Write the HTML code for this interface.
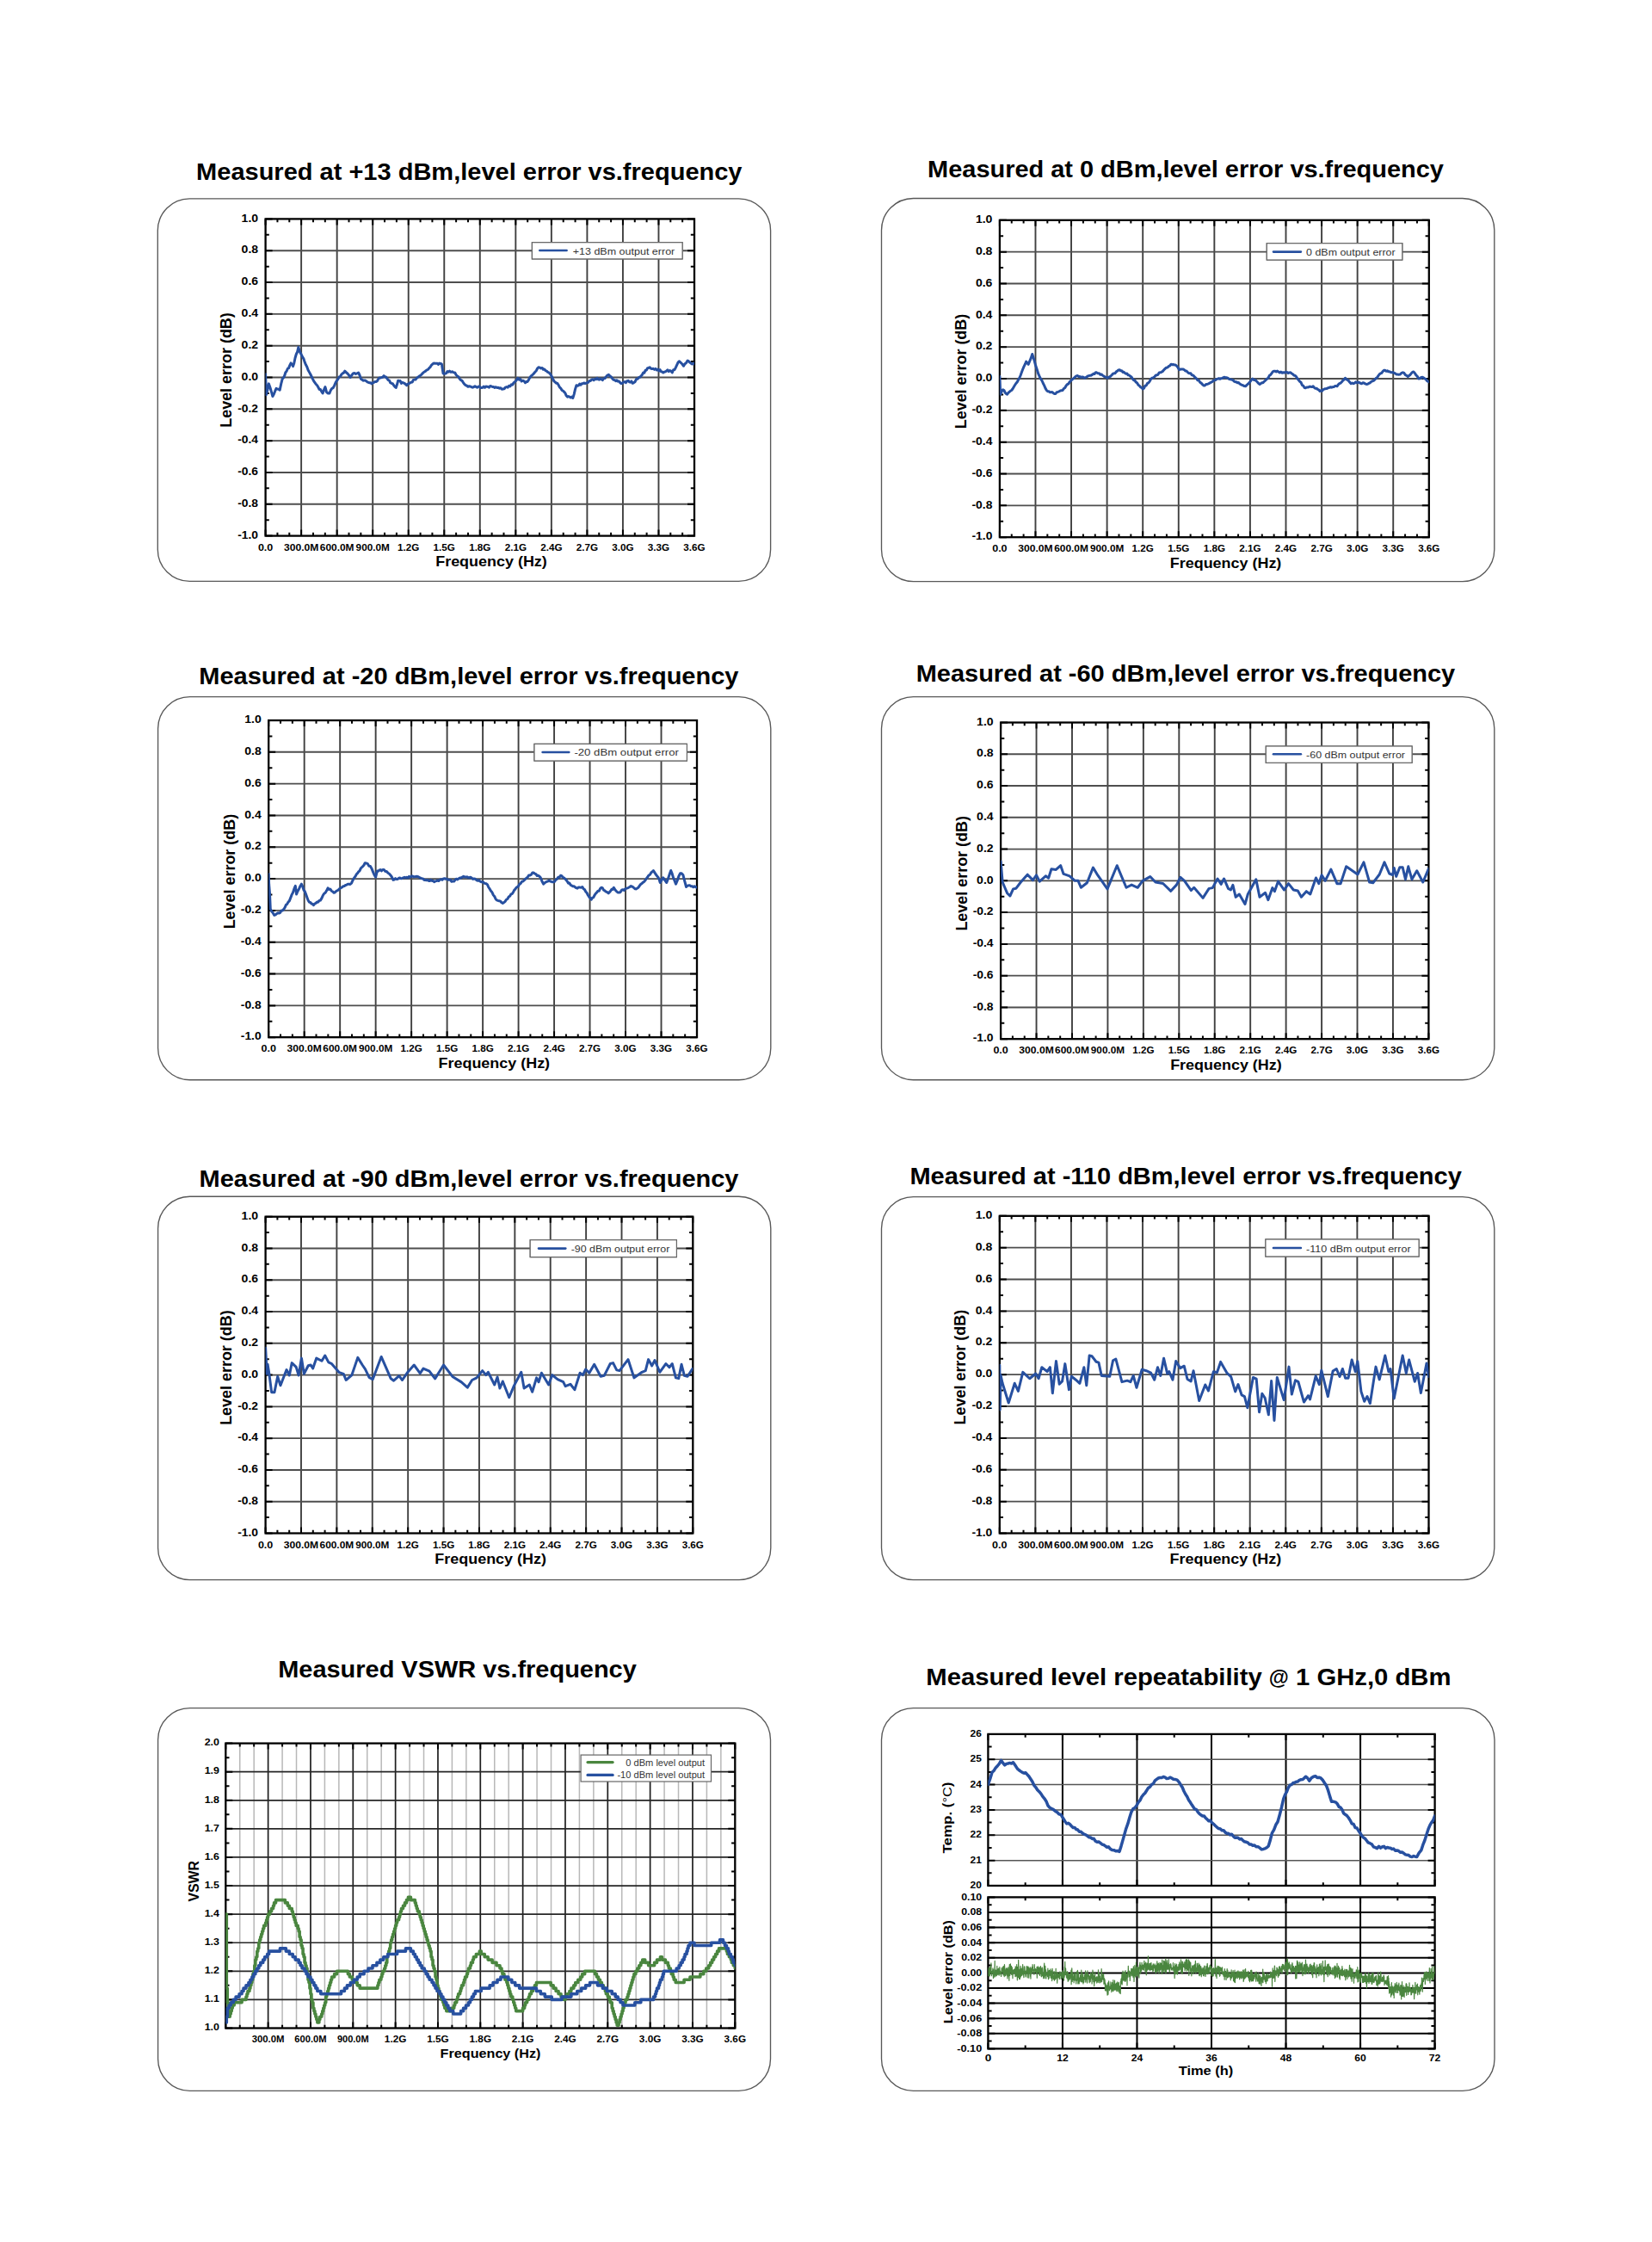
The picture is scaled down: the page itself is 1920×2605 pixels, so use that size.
<!DOCTYPE html>
<html><head><meta charset="utf-8"><title>Level error charts</title>
<style>
html,body{margin:0;padding:0;background:#fff;}
body{width:1920px;height:2605px;overflow:hidden;}
svg{display:block;font-family:"Liberation Sans",sans-serif;}
</style></head><body>
<svg width="1920" height="2605" viewBox="0 0 1920 2605">
<rect width="1920" height="2605" fill="#fff"/>
<rect x="183.3" y="230.9" width="712.3" height="444.5" rx="37" ry="37" fill="none" stroke="#585858" stroke-width="1.35"/>
<text x="228.1" y="209" font-size="28.5" font-weight="bold" fill="#000" textLength="634.4" lengthAdjust="spacingAndGlyphs">Measured at +13 dBm,level error vs.frequency</text>
<line x1="350.13" y1="254.4" x2="350.13" y2="622.6" stroke="#404040" stroke-width="1.9"/>
<line x1="391.67" y1="254.4" x2="391.67" y2="622.6" stroke="#404040" stroke-width="1.9"/>
<line x1="433.2" y1="254.4" x2="433.2" y2="622.6" stroke="#404040" stroke-width="1.9"/>
<line x1="474.73" y1="254.4" x2="474.73" y2="622.6" stroke="#404040" stroke-width="1.9"/>
<line x1="516.27" y1="254.4" x2="516.27" y2="622.6" stroke="#404040" stroke-width="1.9"/>
<line x1="557.8" y1="254.4" x2="557.8" y2="622.6" stroke="#404040" stroke-width="1.9"/>
<line x1="599.33" y1="254.4" x2="599.33" y2="622.6" stroke="#404040" stroke-width="1.9"/>
<line x1="640.87" y1="254.4" x2="640.87" y2="622.6" stroke="#404040" stroke-width="1.9"/>
<line x1="682.4" y1="254.4" x2="682.4" y2="622.6" stroke="#404040" stroke-width="1.9"/>
<line x1="723.93" y1="254.4" x2="723.93" y2="622.6" stroke="#404040" stroke-width="1.9"/>
<line x1="765.47" y1="254.4" x2="765.47" y2="622.6" stroke="#404040" stroke-width="1.9"/>
<line x1="308.6" y1="291.22" x2="807" y2="291.22" stroke="#4e4e4e" stroke-width="1.9"/>
<line x1="308.6" y1="328.04" x2="807" y2="328.04" stroke="#4e4e4e" stroke-width="1.9"/>
<line x1="308.6" y1="364.86" x2="807" y2="364.86" stroke="#4e4e4e" stroke-width="1.9"/>
<line x1="308.6" y1="401.68" x2="807" y2="401.68" stroke="#4e4e4e" stroke-width="1.9"/>
<line x1="308.6" y1="438.5" x2="807" y2="438.5" stroke="#4e4e4e" stroke-width="1.9"/>
<line x1="308.6" y1="475.32" x2="807" y2="475.32" stroke="#4e4e4e" stroke-width="1.9"/>
<line x1="308.6" y1="512.14" x2="807" y2="512.14" stroke="#4e4e4e" stroke-width="1.9"/>
<line x1="308.6" y1="548.96" x2="807" y2="548.96" stroke="#4e4e4e" stroke-width="1.9"/>
<line x1="308.6" y1="585.78" x2="807" y2="585.78" stroke="#4e4e4e" stroke-width="1.9"/>
<path d="M308.6 622.6v-7M308.6 254.4v7M322.44 622.6v-3.8M322.44 254.4v3.8M336.29 622.6v-3.8M336.29 254.4v3.8M350.13 622.6v-7M350.13 254.4v7M363.98 622.6v-3.8M363.98 254.4v3.8M377.82 622.6v-3.8M377.82 254.4v3.8M391.67 622.6v-7M391.67 254.4v7M405.51 622.6v-3.8M405.51 254.4v3.8M419.36 622.6v-3.8M419.36 254.4v3.8M433.2 622.6v-7M433.2 254.4v7M447.04 622.6v-3.8M447.04 254.4v3.8M460.89 622.6v-3.8M460.89 254.4v3.8M474.73 622.6v-7M474.73 254.4v7M488.58 622.6v-3.8M488.58 254.4v3.8M502.42 622.6v-3.8M502.42 254.4v3.8M516.27 622.6v-7M516.27 254.4v7M530.11 622.6v-3.8M530.11 254.4v3.8M543.96 622.6v-3.8M543.96 254.4v3.8M557.8 622.6v-7M557.8 254.4v7M571.64 622.6v-3.8M571.64 254.4v3.8M585.49 622.6v-3.8M585.49 254.4v3.8M599.33 622.6v-7M599.33 254.4v7M613.18 622.6v-3.8M613.18 254.4v3.8M627.02 622.6v-3.8M627.02 254.4v3.8M640.87 622.6v-7M640.87 254.4v7M654.71 622.6v-3.8M654.71 254.4v3.8M668.56 622.6v-3.8M668.56 254.4v3.8M682.4 622.6v-7M682.4 254.4v7M696.24 622.6v-3.8M696.24 254.4v3.8M710.09 622.6v-3.8M710.09 254.4v3.8M723.93 622.6v-7M723.93 254.4v7M737.78 622.6v-3.8M737.78 254.4v3.8M751.62 622.6v-3.8M751.62 254.4v3.8M765.47 622.6v-7M765.47 254.4v7M779.31 622.6v-3.8M779.31 254.4v3.8M793.16 622.6v-3.8M793.16 254.4v3.8M807 622.6v-7M807 254.4v7M308.6 254.4h8M807 254.4h-8M308.6 272.81h4.2M807 272.81h-4.2M308.6 291.22h8M807 291.22h-8M308.6 309.63h4.2M807 309.63h-4.2M308.6 328.04h8M807 328.04h-8M308.6 346.45h4.2M807 346.45h-4.2M308.6 364.86h8M807 364.86h-8M308.6 383.27h4.2M807 383.27h-4.2M308.6 401.68h8M807 401.68h-8M308.6 420.09h4.2M807 420.09h-4.2M308.6 438.5h8M807 438.5h-8M308.6 456.91h4.2M807 456.91h-4.2M308.6 475.32h8M807 475.32h-8M308.6 493.73h4.2M807 493.73h-4.2M308.6 512.14h8M807 512.14h-8M308.6 530.55h4.2M807 530.55h-4.2M308.6 548.96h8M807 548.96h-8M308.6 567.37h4.2M807 567.37h-4.2M308.6 585.78h8M807 585.78h-8M308.6 604.19h4.2M807 604.19h-4.2M308.6 622.6h8M807 622.6h-8" stroke="#000" stroke-width="2" fill="none"/>
<rect x="308.6" y="254.4" width="498.4" height="368.2" fill="none" stroke="#000" stroke-width="2.3"/>
<text x="300.1" y="257.6" font-size="12" font-weight="bold" fill="#000" text-anchor="end" textLength="19.5" lengthAdjust="spacingAndGlyphs">1.0</text>
<text x="300.1" y="294.42" font-size="12" font-weight="bold" fill="#000" text-anchor="end" textLength="19.5" lengthAdjust="spacingAndGlyphs">0.8</text>
<text x="300.1" y="331.24" font-size="12" font-weight="bold" fill="#000" text-anchor="end" textLength="19.5" lengthAdjust="spacingAndGlyphs">0.6</text>
<text x="300.1" y="368.06" font-size="12" font-weight="bold" fill="#000" text-anchor="end" textLength="19.5" lengthAdjust="spacingAndGlyphs">0.4</text>
<text x="300.1" y="404.88" font-size="12" font-weight="bold" fill="#000" text-anchor="end" textLength="19.5" lengthAdjust="spacingAndGlyphs">0.2</text>
<text x="300.1" y="441.7" font-size="12" font-weight="bold" fill="#000" text-anchor="end" textLength="19.5" lengthAdjust="spacingAndGlyphs">0.0</text>
<text x="300.1" y="478.52" font-size="12" font-weight="bold" fill="#000" text-anchor="end" textLength="23.9" lengthAdjust="spacingAndGlyphs">-0.2</text>
<text x="300.1" y="515.34" font-size="12" font-weight="bold" fill="#000" text-anchor="end" textLength="23.9" lengthAdjust="spacingAndGlyphs">-0.4</text>
<text x="300.1" y="552.16" font-size="12" font-weight="bold" fill="#000" text-anchor="end" textLength="23.9" lengthAdjust="spacingAndGlyphs">-0.6</text>
<text x="300.1" y="588.98" font-size="12" font-weight="bold" fill="#000" text-anchor="end" textLength="23.9" lengthAdjust="spacingAndGlyphs">-0.8</text>
<text x="300.1" y="625.8" font-size="12" font-weight="bold" fill="#000" text-anchor="end" textLength="23.9" lengthAdjust="spacingAndGlyphs">-1.0</text>
<text x="308.6" y="639.7" font-size="11.5" font-weight="bold" fill="#000" text-anchor="middle" textLength="17.4" lengthAdjust="spacingAndGlyphs">0.0</text>
<text x="350.13" y="639.7" font-size="11.5" font-weight="bold" fill="#000" text-anchor="middle" textLength="40.4" lengthAdjust="spacingAndGlyphs">300.0M</text>
<text x="391.67" y="639.7" font-size="11.5" font-weight="bold" fill="#000" text-anchor="middle" textLength="39.7" lengthAdjust="spacingAndGlyphs">600.0M</text>
<text x="433.2" y="639.7" font-size="11.5" font-weight="bold" fill="#000" text-anchor="middle" textLength="39.2" lengthAdjust="spacingAndGlyphs">900.0M</text>
<text x="474.73" y="639.7" font-size="11.5" font-weight="bold" fill="#000" text-anchor="middle" textLength="25.2" lengthAdjust="spacingAndGlyphs">1.2G</text>
<text x="516.27" y="639.7" font-size="11.5" font-weight="bold" fill="#000" text-anchor="middle" textLength="25.3" lengthAdjust="spacingAndGlyphs">1.5G</text>
<text x="557.8" y="639.7" font-size="11.5" font-weight="bold" fill="#000" text-anchor="middle" textLength="25.3" lengthAdjust="spacingAndGlyphs">1.8G</text>
<text x="599.33" y="639.7" font-size="11.5" font-weight="bold" fill="#000" text-anchor="middle" textLength="25.3" lengthAdjust="spacingAndGlyphs">2.1G</text>
<text x="640.87" y="639.7" font-size="11.5" font-weight="bold" fill="#000" text-anchor="middle" textLength="25.3" lengthAdjust="spacingAndGlyphs">2.4G</text>
<text x="682.4" y="639.7" font-size="11.5" font-weight="bold" fill="#000" text-anchor="middle" textLength="25.3" lengthAdjust="spacingAndGlyphs">2.7G</text>
<text x="723.93" y="639.7" font-size="11.5" font-weight="bold" fill="#000" text-anchor="middle" textLength="25.3" lengthAdjust="spacingAndGlyphs">3.0G</text>
<text x="765.47" y="639.7" font-size="11.5" font-weight="bold" fill="#000" text-anchor="middle" textLength="25.3" lengthAdjust="spacingAndGlyphs">3.3G</text>
<text x="807" y="639.7" font-size="11.5" font-weight="bold" fill="#000" text-anchor="middle" textLength="25.3" lengthAdjust="spacingAndGlyphs">3.6G</text>
<text x="269.3" y="430" font-size="17.5" font-weight="bold" text-anchor="middle" transform="rotate(-90 269.3 430)" textLength="133.5" lengthAdjust="spacingAndGlyphs">Level error (dB)</text>
<text x="571" y="658.1" font-size="17" font-weight="bold" fill="#000" text-anchor="middle" textLength="129.6" lengthAdjust="spacingAndGlyphs">Frequency (Hz)</text>
<rect x="618.4" y="281.7" width="174.7" height="19.2" fill="#fff" stroke="#666" stroke-width="1.2"/>
<line x1="627.3" y1="291" x2="658.6" y2="291" stroke="#2750a0" stroke-width="2.6" stroke-linecap="round"/>
<text x="665.7" y="295.6" font-size="10.5" fill="#333" textLength="118.6" lengthAdjust="spacingAndGlyphs">+13 dBm output error</text>
<clipPath id="clc1"><rect x="308.6" y="254.4" width="498.4" height="368.2"/></clipPath>
<g clip-path="url(#clc1)">
<polyline points="308.6,434.82 309.43,458.75 310.88,453.12 312.34,445.86 313.86,450.01 315.38,455.1 316.91,460.59 318.29,458.06 319.68,454.47 321.06,451.39 322.44,452.11 323.83,452.28 325.21,453.23 326.67,446.15 328.12,440.34 329.37,438.94 330.61,436.78 331.86,432.7 333.1,431.28 334.35,428.26 335.6,427.63 336.84,424.35 338.09,421.93 339.33,423.28 340.58,425.61 341.83,421.79 343.07,415.79 344.32,411.47 345.56,408.98 346.81,403.52 348.47,408.71 350.13,411.81 351.46,414.57 352.79,416.54 354.12,420.63 355.45,423.85 356.78,426.25 358.11,429.97 359.44,432.4 360.77,434.77 362.09,437.5 363.42,440.34 364.72,442.77 366.01,444.62 367.3,446.49 368.59,447.79 369.88,450.01 371.18,452.44 372.47,452.48 373.76,454.94 375.05,456.91 376.51,452.91 377.96,449.55 379.62,455.81 381.28,457.05 382.94,456.91 384.37,453.45 385.79,451.38 387.22,450.65 388.64,447.81 390.06,444.59 391.49,442.24 392.91,440.34 394.23,437.84 395.54,437.44 396.86,435.01 398.17,433.83 399.49,433.1 400.8,431.14 402.36,432.78 403.92,433.97 405.48,435.89 407.03,438.5 408.7,436.19 410.36,433.9 411.91,433.47 413.47,434.47 415.03,433.78 416.59,432.98 418.04,436 419.49,440.34 420.74,441.08 421.99,442.17 423.23,441.89 424.48,442.1 425.72,442.72 426.97,443.93 428.22,444.34 429.46,444.74 430.71,444.7 431.95,445.86 433.24,444.98 434.52,444.43 435.81,443.38 437.09,443.56 438.37,442.69 439.66,440.39 440.94,438.94 442.22,438.96 443.51,438.57 444.79,438.22 446.08,436.66 447.36,437.91 448.64,438.1 449.93,439.83 451.21,441.59 452.49,442.14 453.78,444.78 455.06,445.42 456.35,445.7 457.63,447.78 458.91,449.3 460.2,450.47 461.44,446.83 462.69,442.18 463.93,442.77 465.18,442.55 466.43,445.35 467.67,444.32 468.92,444.93 470.16,445.47 471.41,446.48 472.66,447.71 473.95,446.1 475.24,445.82 476.53,444.81 477.83,444.19 479.12,444.08 480.41,441.36 481.7,441.11 482.99,441 484.29,439.42 485.58,438.37 486.88,437.38 488.18,436.63 489.48,435.62 490.78,434.16 492.07,432.93 493.37,431.92 494.67,431.14 496.05,429.85 497.44,429.42 498.82,427.59 500.21,426.33 501.59,424.05 502.98,422.85 504.27,422.05 505.57,422.19 506.87,422.2 508.17,422.15 509.47,423.39 510.76,422.1 512.06,422.47 513.36,422.85 515.02,433.9 516.27,434.36 517.51,434.04 518.76,433.59 520,431.49 521.25,432.15 522.5,431.14 524.05,432.46 525.61,431.78 527.17,432.86 528.73,432.98 530.11,435.56 531.5,437 532.88,437.83 534.26,440.26 535.65,441.66 537.03,442.33 538.42,444.53 539.8,446.46 541.19,447.71 542.55,448.03 543.92,449.28 545.28,448.74 546.65,448.93 548.01,449.71 549.37,450.15 550.74,449.55 552.01,448.66 553.28,449.52 554.55,450.19 555.82,449.31 557.08,448.85 558.35,450.6 559.62,450.61 560.89,450.33 562.16,449.06 563.43,450.3 564.7,449.09 565.97,449.15 567.24,449.45 568.51,450.16 569.78,448.5 571.04,448.89 572.31,449.51 573.58,449.55 574.97,450.4 576.35,449.71 577.74,450.51 579.12,450.36 580.5,451.17 581.89,450.73 583.27,452.24 584.66,451.95 586.04,451.76 587.41,450.06 588.77,449.61 590.14,450.21 591.5,448.33 592.87,448.89 594.23,446.84 595.6,447.15 597.15,444.63 598.71,443.38 600.27,441.76 601.83,439.24 603.28,441.24 604.73,440.24 606.19,443.02 607.64,442.21 609.09,442.82 610.55,444.76 611.79,443.56 613.04,443.4 614.29,441.63 615.58,439.16 616.87,437.27 618.16,436.21 619.45,434.98 620.75,433.61 622.04,432.03 623.33,430.68 624.62,427.99 625.91,426.72 627.3,427.11 628.68,427.88 630.07,427.45 631.38,429.25 632.7,428.93 634.01,430.67 635.33,431.14 636.64,432.44 637.96,432.98 639.48,434.55 641.01,436.88 642.53,440.16 643.83,442.77 645.14,443.92 646.44,445.19 647.75,445.29 649.05,447.29 650.36,449.82 651.67,451.02 652.98,453.34 654.3,454.01 655.61,455.34 656.93,456.81 658.24,459.8 659.56,461.14 660.8,460.56 662.05,461.25 663.29,461.95 664.54,461.1 665.79,462.43 667.17,458.11 668.56,452.12 669.94,447.71 671.19,448.35 672.43,447.88 673.68,445.97 674.92,447.23 676.17,445.75 677.42,445.83 678.66,445.02 679.91,445.5 681.19,445.22 682.48,444.71 683.76,444.25 685.04,442.41 686.33,442.42 687.61,441.08 688.89,440.66 690.18,441.75 691.46,440.26 692.75,440.68 694.03,439.24 695.28,440.73 696.52,441.14 697.77,439.86 699.01,440.51 700.26,441.63 701.67,439.65 703.08,439.48 704.5,437.62 705.91,436 707.32,435.37 708.73,436.89 710.14,437.72 711.56,439.74 712.97,441.3 714.38,441.63 715.63,442.7 716.87,441.87 718.12,443.14 719.36,442.9 720.61,444.48 721.86,445.44 723.1,445.5 724.51,444.24 725.93,443.52 727.34,444.7 728.75,442.62 730.16,442.37 731.41,443.75 732.66,444.17 733.9,442.95 735.15,445.3 736.39,444.76 737.95,443.77 739.51,440.55 741.07,440.24 742.62,438.5 743.87,438.12 745.12,436.78 746.36,435.39 747.61,433.05 748.85,433.24 750.1,430.23 751.35,430.18 752.59,427.64 753.84,427.45 755.19,426.76 756.54,428.32 757.89,428.62 759.24,428.33 760.59,429.37 761.94,428.36 763.29,429.92 764.64,429.11 765.88,430.97 767.13,429.59 768.37,431.88 769.62,431.99 770.87,432.98 772.53,432.04 774.19,431.3 775.85,429.85 777.2,431.6 778.55,430.5 779.9,431.16 781.25,432.98 782.63,429.73 784.02,429.42 785.4,426.98 786.79,423.88 788.17,420.87 789.56,419.72 791.22,421.47 792.88,422.99 794.54,425.24 796.06,422.8 797.59,421.6 799.11,418.99 800.35,419.67 801.6,420.96 802.85,421.87 804.09,423 805.34,422.85 807,421.93" fill="none" stroke="#2750a0" stroke-width="3.0" stroke-linejoin="round" stroke-linecap="round"/>
</g>
<rect x="618.4" y="281.7" width="174.7" height="19.2" fill="#fff" stroke="#666" stroke-width="1.2"/>
<line x1="627.3" y1="291" x2="658.6" y2="291" stroke="#2750a0" stroke-width="2.6" stroke-linecap="round"/>
<text x="665.7" y="295.6" font-size="10.5" fill="#333" textLength="118.6" lengthAdjust="spacingAndGlyphs">+13 dBm output error</text>
<rect x="1024.5" y="230.5" width="712.3" height="445.1" rx="37" ry="37" fill="none" stroke="#585858" stroke-width="1.35"/>
<text x="1078.1" y="206.3" font-size="28.5" font-weight="bold" fill="#000" textLength="599.8" lengthAdjust="spacingAndGlyphs">Measured at 0 dBm,level error vs.frequency</text>
<line x1="1203.48" y1="255.8" x2="1203.48" y2="624.2" stroke="#404040" stroke-width="1.9"/>
<line x1="1245.05" y1="255.8" x2="1245.05" y2="624.2" stroke="#404040" stroke-width="1.9"/>
<line x1="1286.62" y1="255.8" x2="1286.62" y2="624.2" stroke="#404040" stroke-width="1.9"/>
<line x1="1328.2" y1="255.8" x2="1328.2" y2="624.2" stroke="#404040" stroke-width="1.9"/>
<line x1="1369.78" y1="255.8" x2="1369.78" y2="624.2" stroke="#404040" stroke-width="1.9"/>
<line x1="1411.35" y1="255.8" x2="1411.35" y2="624.2" stroke="#404040" stroke-width="1.9"/>
<line x1="1452.92" y1="255.8" x2="1452.92" y2="624.2" stroke="#404040" stroke-width="1.9"/>
<line x1="1494.5" y1="255.8" x2="1494.5" y2="624.2" stroke="#404040" stroke-width="1.9"/>
<line x1="1536.08" y1="255.8" x2="1536.08" y2="624.2" stroke="#404040" stroke-width="1.9"/>
<line x1="1577.65" y1="255.8" x2="1577.65" y2="624.2" stroke="#404040" stroke-width="1.9"/>
<line x1="1619.22" y1="255.8" x2="1619.22" y2="624.2" stroke="#404040" stroke-width="1.9"/>
<line x1="1161.9" y1="292.64" x2="1660.8" y2="292.64" stroke="#4e4e4e" stroke-width="1.9"/>
<line x1="1161.9" y1="329.48" x2="1660.8" y2="329.48" stroke="#4e4e4e" stroke-width="1.9"/>
<line x1="1161.9" y1="366.32" x2="1660.8" y2="366.32" stroke="#4e4e4e" stroke-width="1.9"/>
<line x1="1161.9" y1="403.16" x2="1660.8" y2="403.16" stroke="#4e4e4e" stroke-width="1.9"/>
<line x1="1161.9" y1="440" x2="1660.8" y2="440" stroke="#4e4e4e" stroke-width="1.9"/>
<line x1="1161.9" y1="476.84" x2="1660.8" y2="476.84" stroke="#4e4e4e" stroke-width="1.9"/>
<line x1="1161.9" y1="513.68" x2="1660.8" y2="513.68" stroke="#4e4e4e" stroke-width="1.9"/>
<line x1="1161.9" y1="550.52" x2="1660.8" y2="550.52" stroke="#4e4e4e" stroke-width="1.9"/>
<line x1="1161.9" y1="587.36" x2="1660.8" y2="587.36" stroke="#4e4e4e" stroke-width="1.9"/>
<path d="M1161.9 624.2v-7M1161.9 255.8v7M1175.76 624.2v-3.8M1175.76 255.8v3.8M1189.62 624.2v-3.8M1189.62 255.8v3.8M1203.48 624.2v-7M1203.48 255.8v7M1217.33 624.2v-3.8M1217.33 255.8v3.8M1231.19 624.2v-3.8M1231.19 255.8v3.8M1245.05 624.2v-7M1245.05 255.8v7M1258.91 624.2v-3.8M1258.91 255.8v3.8M1272.77 624.2v-3.8M1272.77 255.8v3.8M1286.62 624.2v-7M1286.62 255.8v7M1300.48 624.2v-3.8M1300.48 255.8v3.8M1314.34 624.2v-3.8M1314.34 255.8v3.8M1328.2 624.2v-7M1328.2 255.8v7M1342.06 624.2v-3.8M1342.06 255.8v3.8M1355.92 624.2v-3.8M1355.92 255.8v3.8M1369.78 624.2v-7M1369.78 255.8v7M1383.63 624.2v-3.8M1383.63 255.8v3.8M1397.49 624.2v-3.8M1397.49 255.8v3.8M1411.35 624.2v-7M1411.35 255.8v7M1425.21 624.2v-3.8M1425.21 255.8v3.8M1439.07 624.2v-3.8M1439.07 255.8v3.8M1452.92 624.2v-7M1452.92 255.8v7M1466.78 624.2v-3.8M1466.78 255.8v3.8M1480.64 624.2v-3.8M1480.64 255.8v3.8M1494.5 624.2v-7M1494.5 255.8v7M1508.36 624.2v-3.8M1508.36 255.8v3.8M1522.22 624.2v-3.8M1522.22 255.8v3.8M1536.08 624.2v-7M1536.08 255.8v7M1549.93 624.2v-3.8M1549.93 255.8v3.8M1563.79 624.2v-3.8M1563.79 255.8v3.8M1577.65 624.2v-7M1577.65 255.8v7M1591.51 624.2v-3.8M1591.51 255.8v3.8M1605.37 624.2v-3.8M1605.37 255.8v3.8M1619.22 624.2v-7M1619.22 255.8v7M1633.08 624.2v-3.8M1633.08 255.8v3.8M1646.94 624.2v-3.8M1646.94 255.8v3.8M1660.8 624.2v-7M1660.8 255.8v7M1161.9 255.8h8M1660.8 255.8h-8M1161.9 274.22h4.2M1660.8 274.22h-4.2M1161.9 292.64h8M1660.8 292.64h-8M1161.9 311.06h4.2M1660.8 311.06h-4.2M1161.9 329.48h8M1660.8 329.48h-8M1161.9 347.9h4.2M1660.8 347.9h-4.2M1161.9 366.32h8M1660.8 366.32h-8M1161.9 384.74h4.2M1660.8 384.74h-4.2M1161.9 403.16h8M1660.8 403.16h-8M1161.9 421.58h4.2M1660.8 421.58h-4.2M1161.9 440h8M1660.8 440h-8M1161.9 458.42h4.2M1660.8 458.42h-4.2M1161.9 476.84h8M1660.8 476.84h-8M1161.9 495.26h4.2M1660.8 495.26h-4.2M1161.9 513.68h8M1660.8 513.68h-8M1161.9 532.1h4.2M1660.8 532.1h-4.2M1161.9 550.52h8M1660.8 550.52h-8M1161.9 568.94h4.2M1660.8 568.94h-4.2M1161.9 587.36h8M1660.8 587.36h-8M1161.9 605.78h4.2M1660.8 605.78h-4.2M1161.9 624.2h8M1660.8 624.2h-8" stroke="#000" stroke-width="2" fill="none"/>
<rect x="1161.9" y="255.8" width="498.9" height="368.4" fill="none" stroke="#000" stroke-width="2.3"/>
<text x="1153.4" y="259" font-size="12" font-weight="bold" fill="#000" text-anchor="end" textLength="19.5" lengthAdjust="spacingAndGlyphs">1.0</text>
<text x="1153.4" y="295.84" font-size="12" font-weight="bold" fill="#000" text-anchor="end" textLength="19.5" lengthAdjust="spacingAndGlyphs">0.8</text>
<text x="1153.4" y="332.68" font-size="12" font-weight="bold" fill="#000" text-anchor="end" textLength="19.5" lengthAdjust="spacingAndGlyphs">0.6</text>
<text x="1153.4" y="369.52" font-size="12" font-weight="bold" fill="#000" text-anchor="end" textLength="19.5" lengthAdjust="spacingAndGlyphs">0.4</text>
<text x="1153.4" y="406.36" font-size="12" font-weight="bold" fill="#000" text-anchor="end" textLength="19.5" lengthAdjust="spacingAndGlyphs">0.2</text>
<text x="1153.4" y="443.2" font-size="12" font-weight="bold" fill="#000" text-anchor="end" textLength="19.5" lengthAdjust="spacingAndGlyphs">0.0</text>
<text x="1153.4" y="480.04" font-size="12" font-weight="bold" fill="#000" text-anchor="end" textLength="23.9" lengthAdjust="spacingAndGlyphs">-0.2</text>
<text x="1153.4" y="516.88" font-size="12" font-weight="bold" fill="#000" text-anchor="end" textLength="23.9" lengthAdjust="spacingAndGlyphs">-0.4</text>
<text x="1153.4" y="553.72" font-size="12" font-weight="bold" fill="#000" text-anchor="end" textLength="23.9" lengthAdjust="spacingAndGlyphs">-0.6</text>
<text x="1153.4" y="590.56" font-size="12" font-weight="bold" fill="#000" text-anchor="end" textLength="23.9" lengthAdjust="spacingAndGlyphs">-0.8</text>
<text x="1153.4" y="627.4" font-size="12" font-weight="bold" fill="#000" text-anchor="end" textLength="23.9" lengthAdjust="spacingAndGlyphs">-1.0</text>
<text x="1161.9" y="641.3" font-size="11.5" font-weight="bold" fill="#000" text-anchor="middle" textLength="17.4" lengthAdjust="spacingAndGlyphs">0.0</text>
<text x="1203.48" y="641.3" font-size="11.5" font-weight="bold" fill="#000" text-anchor="middle" textLength="40.4" lengthAdjust="spacingAndGlyphs">300.0M</text>
<text x="1245.05" y="641.3" font-size="11.5" font-weight="bold" fill="#000" text-anchor="middle" textLength="39.7" lengthAdjust="spacingAndGlyphs">600.0M</text>
<text x="1286.62" y="641.3" font-size="11.5" font-weight="bold" fill="#000" text-anchor="middle" textLength="39.2" lengthAdjust="spacingAndGlyphs">900.0M</text>
<text x="1328.2" y="641.3" font-size="11.5" font-weight="bold" fill="#000" text-anchor="middle" textLength="25.2" lengthAdjust="spacingAndGlyphs">1.2G</text>
<text x="1369.78" y="641.3" font-size="11.5" font-weight="bold" fill="#000" text-anchor="middle" textLength="25.3" lengthAdjust="spacingAndGlyphs">1.5G</text>
<text x="1411.35" y="641.3" font-size="11.5" font-weight="bold" fill="#000" text-anchor="middle" textLength="25.3" lengthAdjust="spacingAndGlyphs">1.8G</text>
<text x="1452.92" y="641.3" font-size="11.5" font-weight="bold" fill="#000" text-anchor="middle" textLength="25.3" lengthAdjust="spacingAndGlyphs">2.1G</text>
<text x="1494.5" y="641.3" font-size="11.5" font-weight="bold" fill="#000" text-anchor="middle" textLength="25.3" lengthAdjust="spacingAndGlyphs">2.4G</text>
<text x="1536.08" y="641.3" font-size="11.5" font-weight="bold" fill="#000" text-anchor="middle" textLength="25.3" lengthAdjust="spacingAndGlyphs">2.7G</text>
<text x="1577.65" y="641.3" font-size="11.5" font-weight="bold" fill="#000" text-anchor="middle" textLength="25.3" lengthAdjust="spacingAndGlyphs">3.0G</text>
<text x="1619.22" y="641.3" font-size="11.5" font-weight="bold" fill="#000" text-anchor="middle" textLength="25.3" lengthAdjust="spacingAndGlyphs">3.3G</text>
<text x="1660.8" y="641.3" font-size="11.5" font-weight="bold" fill="#000" text-anchor="middle" textLength="25.3" lengthAdjust="spacingAndGlyphs">3.6G</text>
<text x="1122.6" y="431.5" font-size="17.5" font-weight="bold" text-anchor="middle" transform="rotate(-90 1122.6 431.5)" textLength="133.5" lengthAdjust="spacingAndGlyphs">Level error (dB)</text>
<text x="1424.55" y="659.7" font-size="17" font-weight="bold" fill="#000" text-anchor="middle" textLength="129.6" lengthAdjust="spacingAndGlyphs">Frequency (Hz)</text>
<rect x="1472.3" y="282.7" width="157.5" height="19.3" fill="#fff" stroke="#666" stroke-width="1.2"/>
<line x1="1480" y1="292.6" x2="1511.9" y2="292.6" stroke="#2750a0" stroke-width="2.6" stroke-linecap="round"/>
<text x="1518.1" y="296.6" font-size="10.5" fill="#333" textLength="103.5" lengthAdjust="spacingAndGlyphs">0 dBm output error</text>
<clipPath id="clc2"><rect x="1161.9" y="255.8" width="498.9" height="368.4"/></clipPath>
<g clip-path="url(#clc2)">
<polyline points="1161.9,437.61 1162.73,458.24 1164.19,454.8 1165.64,452.71 1166.89,453.43 1168.14,456.13 1169.38,457.47 1170.63,458.24 1171.88,456.49 1173.13,455.38 1174.37,454.23 1175.62,453.51 1176.87,451.97 1178.18,449.7 1179.5,447.58 1180.82,445.5 1182.13,444 1183.45,441.48 1184.77,439.26 1186.08,436.23 1187.4,432.55 1188.72,428.96 1190.03,425.83 1191.35,423.23 1192.67,420.11 1193.91,421.85 1195.16,423.42 1196.68,419.77 1198.21,416.12 1199.73,411.45 1202.23,419.37 1203.75,425.1 1205.28,429.49 1206.8,434.47 1208.17,437.45 1209.53,440.07 1210.9,442.03 1212.27,445.28 1213.63,447.94 1215,451.13 1216.36,453.45 1217.67,454.73 1218.98,454.86 1220.28,455.72 1221.59,455.75 1222.9,455.61 1224.2,456.66 1225.51,457.5 1226.88,457.39 1228.24,455.76 1229.61,455.32 1230.97,454.84 1232.34,454.01 1233.71,453.64 1235.07,453.45 1236.44,451.44 1237.8,450.5 1239.17,448 1240.54,446.45 1241.9,446.05 1243.27,443.6 1244.63,442.39 1245.88,440.97 1247.13,440.24 1248.38,439.03 1249.62,437.99 1250.87,436.87 1252.24,436.58 1253.6,437.55 1254.97,437.41 1256.33,438.45 1257.7,438.01 1259.07,438.33 1260.43,439.26 1261.72,438.73 1263,437.99 1264.29,436.89 1265.57,436.59 1266.86,436.35 1268.14,436.16 1269.43,435.42 1270.71,434.28 1272,434.48 1273.28,432.8 1274.57,432.82 1275.95,433.87 1277.34,433.64 1278.73,435.25 1280.11,435.01 1281.5,436.09 1282.88,437.11 1284.27,437.8 1285.65,438.32 1287.04,439.26 1288.33,438.26 1289.61,437.8 1290.9,437.08 1292.18,435.76 1293.47,434.27 1294.75,433.86 1296.04,433.79 1297.32,431.82 1298.61,431.09 1299.89,429.95 1301.18,429.68 1302.42,430.84 1303.67,430.72 1304.92,432.42 1306.17,432.24 1307.41,433.5 1308.66,434.26 1309.91,434 1311.15,435.83 1312.4,435.95 1313.72,437.25 1315.03,438.1 1316.35,440.33 1317.67,441.72 1318.98,442.06 1320.3,444.07 1321.62,444.98 1322.93,447.32 1324.25,448.17 1325.57,449.79 1326.88,450.38 1328.2,451.97 1329.55,451 1330.9,448.13 1332.25,447.91 1333.6,445.28 1334.96,444.74 1336.31,442.8 1337.66,440.39 1339.01,439.26 1340.38,438.85 1341.74,437.89 1343.11,436.22 1344.47,435.75 1345.84,435.33 1347.21,433.02 1348.57,432.82 1349.96,432.27 1351.34,431.37 1352.73,429.85 1354.12,428.39 1355.5,427.14 1356.89,427 1358.27,425.61 1359.66,424.99 1361.04,423.24 1362.29,423.65 1363.54,423.51 1364.79,423.88 1366.03,423.97 1367.28,424.9 1368.94,426.91 1370.61,429.68 1372.13,428.91 1373.66,428.89 1375.18,428.95 1376.43,429.77 1377.67,430.91 1378.92,431.04 1380.17,432.33 1381.42,433.42 1382.66,433.69 1383.91,433.84 1385.16,435.72 1386.4,435.95 1387.79,437.15 1389.18,438.77 1390.56,439.92 1391.95,441.79 1393.33,441.92 1394.72,444.28 1396.11,445.1 1397.49,446.71 1398.88,447.92 1400.28,447.94 1401.68,446.45 1403.09,446.38 1404.49,445.81 1405.89,445.15 1407.3,444.28 1408.7,443.68 1410.1,442.39 1411.39,441.79 1412.68,441.57 1413.97,440.47 1415.26,440.13 1416.55,439.64 1417.84,440.36 1419.12,439.64 1420.41,439.52 1421.7,438.61 1422.99,438.34 1424.42,438.63 1425.84,438.85 1427.27,439.45 1428.69,440.6 1430.12,440.82 1431.54,441.15 1432.97,441.66 1434.29,443.04 1435.61,443.65 1436.94,443.75 1438.26,444.84 1439.58,444.59 1440.91,445.96 1442.23,446.82 1443.55,447.35 1444.87,447.93 1446.2,448.61 1447.52,448.84 1448.77,447.61 1450.01,446.5 1451.26,445.53 1452.51,444.05 1454.17,441.82 1455.84,440 1457.22,441.5 1458.61,441.55 1459.99,442.54 1461.38,443.96 1462.76,445.47 1464.15,446.45 1465.4,445.62 1466.64,444.71 1467.89,444.68 1469.14,443.33 1470.39,442.39 1471.63,440.95 1472.88,440.06 1474.13,438.78 1475.38,436.33 1476.62,435.57 1477.87,433.94 1479.12,431.94 1480.36,431.16 1481.77,431.2 1483.17,431.88 1484.57,431.07 1485.98,432.18 1487.38,432.9 1488.78,432.13 1490.19,433.2 1491.59,432.82 1492.98,433.1 1494.36,432.31 1495.75,432.56 1497.13,433.53 1498.52,432.89 1499.9,432.82 1501.24,433.91 1502.57,434.75 1503.9,436.12 1505.23,436.52 1506.56,437.61 1507.92,440.08 1509.29,441.61 1510.65,443.32 1512.02,444.33 1513.39,447.44 1514.75,448.28 1516.12,450.5 1517.37,450.75 1518.61,449.98 1519.86,450.04 1521.11,449.72 1522.36,449.09 1523.6,449.41 1524.85,449.61 1526.1,448.84 1527.41,450.35 1528.73,451.36 1530.05,451.18 1531.36,452.44 1532.68,452.92 1534,454.55 1535.24,453.76 1536.49,454.24 1537.74,452.8 1538.99,452.12 1540.23,451.69 1541.48,451.52 1542.73,451.22 1543.97,450.5 1545.22,450.36 1546.47,449.64 1547.72,450.22 1548.96,449.63 1550.21,449.5 1551.46,448.59 1552.7,448.6 1553.95,448.84 1555.32,446.84 1556.68,445.61 1558.05,445.04 1559.42,443.76 1560.78,442.02 1562.15,440.99 1563.51,439.26 1564.84,440.66 1566.18,441.58 1567.51,442.51 1568.84,444.29 1570.17,445.71 1571.55,444.97 1572.94,445.75 1574.32,445.09 1575.71,443.87 1577.1,444.85 1578.48,444.05 1579.85,444.52 1581.21,445.37 1582.58,445.69 1583.95,444.84 1585.31,445.04 1586.68,445.89 1588.04,446.45 1589.43,446.32 1590.82,445.4 1592.2,444.82 1593.59,443.49 1594.97,442.8 1596.36,442.39 1597.7,441.13 1599.04,439.66 1600.38,438.91 1601.72,436.93 1603.06,434.98 1604.4,433.91 1605.74,433.53 1607.08,431.56 1608.42,430.24 1609.72,430.29 1611.03,431.33 1612.34,430.76 1613.64,431.77 1614.95,431.78 1616.26,432.59 1617.56,432.82 1618.88,432.49 1620.2,433.2 1621.51,433.91 1622.83,434.94 1624.14,434.9 1625.46,435.21 1627.12,435.11 1628.79,433.47 1630.45,432.82 1631.91,433.45 1633.36,435.68 1634.82,436.39 1636.27,437.61 1637.6,436.49 1638.93,435.46 1640.26,433.87 1641.59,432.39 1642.92,431.9 1644.38,433.62 1645.83,435.99 1647.29,437.29 1648.74,440 1650.27,439.7 1651.79,438.53 1653.32,438.34 1654.65,439.1 1655.98,439.95 1657.31,440.81 1658.64,442.73 1659.97,443.32 1660.8,443.68" fill="none" stroke="#2750a0" stroke-width="3.0" stroke-linejoin="round" stroke-linecap="round"/>
</g>
<rect x="1472.3" y="282.7" width="157.5" height="19.3" fill="#fff" stroke="#666" stroke-width="1.2"/>
<line x1="1480" y1="292.6" x2="1511.9" y2="292.6" stroke="#2750a0" stroke-width="2.6" stroke-linecap="round"/>
<text x="1518.1" y="296.6" font-size="10.5" fill="#333" textLength="103.5" lengthAdjust="spacingAndGlyphs">0 dBm output error</text>
<rect x="183.6" y="809.6" width="712.2" height="445.1" rx="37" ry="37" fill="none" stroke="#585858" stroke-width="1.35"/>
<text x="231.3" y="794.5" font-size="28.5" font-weight="bold" fill="#000" textLength="627.2" lengthAdjust="spacingAndGlyphs">Measured at -20 dBm,level error vs.frequency</text>
<line x1="353.68" y1="837" x2="353.68" y2="1205.2" stroke="#404040" stroke-width="1.9"/>
<line x1="395.17" y1="837" x2="395.17" y2="1205.2" stroke="#404040" stroke-width="1.9"/>
<line x1="436.65" y1="837" x2="436.65" y2="1205.2" stroke="#404040" stroke-width="1.9"/>
<line x1="478.13" y1="837" x2="478.13" y2="1205.2" stroke="#404040" stroke-width="1.9"/>
<line x1="519.62" y1="837" x2="519.62" y2="1205.2" stroke="#404040" stroke-width="1.9"/>
<line x1="561.1" y1="837" x2="561.1" y2="1205.2" stroke="#404040" stroke-width="1.9"/>
<line x1="602.58" y1="837" x2="602.58" y2="1205.2" stroke="#404040" stroke-width="1.9"/>
<line x1="644.07" y1="837" x2="644.07" y2="1205.2" stroke="#404040" stroke-width="1.9"/>
<line x1="685.55" y1="837" x2="685.55" y2="1205.2" stroke="#404040" stroke-width="1.9"/>
<line x1="727.03" y1="837" x2="727.03" y2="1205.2" stroke="#404040" stroke-width="1.9"/>
<line x1="768.52" y1="837" x2="768.52" y2="1205.2" stroke="#404040" stroke-width="1.9"/>
<line x1="312.2" y1="873.82" x2="810" y2="873.82" stroke="#4e4e4e" stroke-width="1.9"/>
<line x1="312.2" y1="910.64" x2="810" y2="910.64" stroke="#4e4e4e" stroke-width="1.9"/>
<line x1="312.2" y1="947.46" x2="810" y2="947.46" stroke="#4e4e4e" stroke-width="1.9"/>
<line x1="312.2" y1="984.28" x2="810" y2="984.28" stroke="#4e4e4e" stroke-width="1.9"/>
<line x1="312.2" y1="1021.1" x2="810" y2="1021.1" stroke="#4e4e4e" stroke-width="1.9"/>
<line x1="312.2" y1="1057.92" x2="810" y2="1057.92" stroke="#4e4e4e" stroke-width="1.9"/>
<line x1="312.2" y1="1094.74" x2="810" y2="1094.74" stroke="#4e4e4e" stroke-width="1.9"/>
<line x1="312.2" y1="1131.56" x2="810" y2="1131.56" stroke="#4e4e4e" stroke-width="1.9"/>
<line x1="312.2" y1="1168.38" x2="810" y2="1168.38" stroke="#4e4e4e" stroke-width="1.9"/>
<path d="M312.2 1205.2v-7M312.2 837v7M326.03 1205.2v-3.8M326.03 837v3.8M339.86 1205.2v-3.8M339.86 837v3.8M353.68 1205.2v-7M353.68 837v7M367.51 1205.2v-3.8M367.51 837v3.8M381.34 1205.2v-3.8M381.34 837v3.8M395.17 1205.2v-7M395.17 837v7M408.99 1205.2v-3.8M408.99 837v3.8M422.82 1205.2v-3.8M422.82 837v3.8M436.65 1205.2v-7M436.65 837v7M450.48 1205.2v-3.8M450.48 837v3.8M464.31 1205.2v-3.8M464.31 837v3.8M478.13 1205.2v-7M478.13 837v7M491.96 1205.2v-3.8M491.96 837v3.8M505.79 1205.2v-3.8M505.79 837v3.8M519.62 1205.2v-7M519.62 837v7M533.44 1205.2v-3.8M533.44 837v3.8M547.27 1205.2v-3.8M547.27 837v3.8M561.1 1205.2v-7M561.1 837v7M574.93 1205.2v-3.8M574.93 837v3.8M588.76 1205.2v-3.8M588.76 837v3.8M602.58 1205.2v-7M602.58 837v7M616.41 1205.2v-3.8M616.41 837v3.8M630.24 1205.2v-3.8M630.24 837v3.8M644.07 1205.2v-7M644.07 837v7M657.89 1205.2v-3.8M657.89 837v3.8M671.72 1205.2v-3.8M671.72 837v3.8M685.55 1205.2v-7M685.55 837v7M699.38 1205.2v-3.8M699.38 837v3.8M713.21 1205.2v-3.8M713.21 837v3.8M727.03 1205.2v-7M727.03 837v7M740.86 1205.2v-3.8M740.86 837v3.8M754.69 1205.2v-3.8M754.69 837v3.8M768.52 1205.2v-7M768.52 837v7M782.34 1205.2v-3.8M782.34 837v3.8M796.17 1205.2v-3.8M796.17 837v3.8M810 1205.2v-7M810 837v7M312.2 837h8M810 837h-8M312.2 855.41h4.2M810 855.41h-4.2M312.2 873.82h8M810 873.82h-8M312.2 892.23h4.2M810 892.23h-4.2M312.2 910.64h8M810 910.64h-8M312.2 929.05h4.2M810 929.05h-4.2M312.2 947.46h8M810 947.46h-8M312.2 965.87h4.2M810 965.87h-4.2M312.2 984.28h8M810 984.28h-8M312.2 1002.69h4.2M810 1002.69h-4.2M312.2 1021.1h8M810 1021.1h-8M312.2 1039.51h4.2M810 1039.51h-4.2M312.2 1057.92h8M810 1057.92h-8M312.2 1076.33h4.2M810 1076.33h-4.2M312.2 1094.74h8M810 1094.74h-8M312.2 1113.15h4.2M810 1113.15h-4.2M312.2 1131.56h8M810 1131.56h-8M312.2 1149.97h4.2M810 1149.97h-4.2M312.2 1168.38h8M810 1168.38h-8M312.2 1186.79h4.2M810 1186.79h-4.2M312.2 1205.2h8M810 1205.2h-8" stroke="#000" stroke-width="2" fill="none"/>
<rect x="312.2" y="837" width="497.8" height="368.2" fill="none" stroke="#000" stroke-width="2.3"/>
<text x="303.7" y="840.2" font-size="12" font-weight="bold" fill="#000" text-anchor="end" textLength="19.5" lengthAdjust="spacingAndGlyphs">1.0</text>
<text x="303.7" y="877.02" font-size="12" font-weight="bold" fill="#000" text-anchor="end" textLength="19.5" lengthAdjust="spacingAndGlyphs">0.8</text>
<text x="303.7" y="913.84" font-size="12" font-weight="bold" fill="#000" text-anchor="end" textLength="19.5" lengthAdjust="spacingAndGlyphs">0.6</text>
<text x="303.7" y="950.66" font-size="12" font-weight="bold" fill="#000" text-anchor="end" textLength="19.5" lengthAdjust="spacingAndGlyphs">0.4</text>
<text x="303.7" y="987.48" font-size="12" font-weight="bold" fill="#000" text-anchor="end" textLength="19.5" lengthAdjust="spacingAndGlyphs">0.2</text>
<text x="303.7" y="1024.3" font-size="12" font-weight="bold" fill="#000" text-anchor="end" textLength="19.5" lengthAdjust="spacingAndGlyphs">0.0</text>
<text x="303.7" y="1061.12" font-size="12" font-weight="bold" fill="#000" text-anchor="end" textLength="23.9" lengthAdjust="spacingAndGlyphs">-0.2</text>
<text x="303.7" y="1097.94" font-size="12" font-weight="bold" fill="#000" text-anchor="end" textLength="23.9" lengthAdjust="spacingAndGlyphs">-0.4</text>
<text x="303.7" y="1134.76" font-size="12" font-weight="bold" fill="#000" text-anchor="end" textLength="23.9" lengthAdjust="spacingAndGlyphs">-0.6</text>
<text x="303.7" y="1171.58" font-size="12" font-weight="bold" fill="#000" text-anchor="end" textLength="23.9" lengthAdjust="spacingAndGlyphs">-0.8</text>
<text x="303.7" y="1208.4" font-size="12" font-weight="bold" fill="#000" text-anchor="end" textLength="23.9" lengthAdjust="spacingAndGlyphs">-1.0</text>
<text x="312.2" y="1222.3" font-size="11.5" font-weight="bold" fill="#000" text-anchor="middle" textLength="17.4" lengthAdjust="spacingAndGlyphs">0.0</text>
<text x="353.68" y="1222.3" font-size="11.5" font-weight="bold" fill="#000" text-anchor="middle" textLength="40.4" lengthAdjust="spacingAndGlyphs">300.0M</text>
<text x="395.17" y="1222.3" font-size="11.5" font-weight="bold" fill="#000" text-anchor="middle" textLength="39.7" lengthAdjust="spacingAndGlyphs">600.0M</text>
<text x="436.65" y="1222.3" font-size="11.5" font-weight="bold" fill="#000" text-anchor="middle" textLength="39.2" lengthAdjust="spacingAndGlyphs">900.0M</text>
<text x="478.13" y="1222.3" font-size="11.5" font-weight="bold" fill="#000" text-anchor="middle" textLength="25.2" lengthAdjust="spacingAndGlyphs">1.2G</text>
<text x="519.62" y="1222.3" font-size="11.5" font-weight="bold" fill="#000" text-anchor="middle" textLength="25.3" lengthAdjust="spacingAndGlyphs">1.5G</text>
<text x="561.1" y="1222.3" font-size="11.5" font-weight="bold" fill="#000" text-anchor="middle" textLength="25.3" lengthAdjust="spacingAndGlyphs">1.8G</text>
<text x="602.58" y="1222.3" font-size="11.5" font-weight="bold" fill="#000" text-anchor="middle" textLength="25.3" lengthAdjust="spacingAndGlyphs">2.1G</text>
<text x="644.07" y="1222.3" font-size="11.5" font-weight="bold" fill="#000" text-anchor="middle" textLength="25.3" lengthAdjust="spacingAndGlyphs">2.4G</text>
<text x="685.55" y="1222.3" font-size="11.5" font-weight="bold" fill="#000" text-anchor="middle" textLength="25.3" lengthAdjust="spacingAndGlyphs">2.7G</text>
<text x="727.03" y="1222.3" font-size="11.5" font-weight="bold" fill="#000" text-anchor="middle" textLength="25.3" lengthAdjust="spacingAndGlyphs">3.0G</text>
<text x="768.52" y="1222.3" font-size="11.5" font-weight="bold" fill="#000" text-anchor="middle" textLength="25.3" lengthAdjust="spacingAndGlyphs">3.3G</text>
<text x="810" y="1222.3" font-size="11.5" font-weight="bold" fill="#000" text-anchor="middle" textLength="25.3" lengthAdjust="spacingAndGlyphs">3.6G</text>
<text x="272.9" y="1012.6" font-size="17.5" font-weight="bold" text-anchor="middle" transform="rotate(-90 272.9 1012.6)" textLength="133.5" lengthAdjust="spacingAndGlyphs">Level error (dB)</text>
<text x="574.3" y="1240.7" font-size="17" font-weight="bold" fill="#000" text-anchor="middle" textLength="129.6" lengthAdjust="spacingAndGlyphs">Frequency (Hz)</text>
<rect x="621" y="864.4" width="177.4" height="19.6" fill="#fff" stroke="#666" stroke-width="1.2"/>
<line x1="630.6" y1="874" x2="661.3" y2="874" stroke="#2750a0" stroke-width="2.6" stroke-linecap="round"/>
<text x="667.4" y="878" font-size="10.5" fill="#333" textLength="121.5" lengthAdjust="spacingAndGlyphs">-20 dBm output error</text>
<clipPath id="clc3"><rect x="312.2" y="837" width="497.8" height="368.2"/></clipPath>
<g clip-path="url(#clc3)">
<polyline points="312.2,1015.58 312.61,1027.18 313.44,1037.3 314.27,1056.08 315.8,1059.02 317.32,1060.91 318.84,1063.44 320.2,1062.89 321.56,1061.67 322.93,1060.84 324.29,1061.09 325.65,1060.39 327.02,1058.09 328.38,1057.92 329.69,1056.52 331.01,1054.73 332.32,1051.48 333.63,1050.61 334.95,1048.1 336.26,1046.87 337.67,1043.42 339.08,1039.62 340.49,1037.02 341.9,1032.63 343.31,1029.38 344.56,1038.96 346.01,1035.33 347.46,1033.02 348.91,1029.68 350.36,1027.18 351.67,1029.88 352.97,1034.03 354.28,1035.77 355.58,1039.11 356.88,1042.66 358.19,1046.19 359.49,1048.35 360.74,1048.5 361.98,1050.05 363.22,1050.43 364.47,1051.66 365.78,1050.04 367.1,1049.43 368.41,1048.12 369.72,1048.17 371.04,1046.5 372.35,1046.14 373.8,1043.85 375.25,1040.55 376.71,1038.26 378.16,1037.31 379.61,1034.84 381.06,1031.78 382.47,1033.4 383.88,1033.13 385.29,1035.21 386.7,1035.96 388.11,1037.3 389.43,1036.75 390.74,1035.45 392.06,1034.75 393.37,1033.89 394.68,1032.54 396,1031.78 397.38,1031.01 398.76,1029.81 400.14,1029.6 401.53,1028.53 402.91,1028.05 404.29,1027.19 405.68,1027.17 407.06,1027.49 408.44,1026.25 409.96,1022.95 411.48,1020.12 413,1018.34 414.25,1015.85 415.49,1014.73 416.74,1012.73 417.98,1011.92 419.23,1009.03 420.47,1007.77 421.72,1006.56 422.96,1005.23 424.2,1002.69 425.76,1003 427.32,1003.72 428.87,1006.35 430.43,1006.56 431.98,1009.18 433.54,1013.07 435.09,1016.73 436.65,1019.26 438.31,1012.08 439.62,1012.18 440.94,1011.03 442.25,1010.56 443.56,1011.81 444.88,1010.49 446.19,1010.42 447.75,1012.46 449.3,1012.41 450.86,1014.32 452.41,1015.21 453.93,1016.9 455.46,1019.11 456.98,1022.39 458.29,1021.98 459.6,1020.67 460.92,1021.54 462.23,1021.57 463.55,1020.21 464.86,1020 466.17,1020.74 467.49,1020.31 468.8,1019.8 470.11,1019.3 471.43,1020.01 472.74,1019.26 474.08,1020 475.41,1018.38 476.75,1019.29 478.09,1018.01 479.42,1018.02 480.76,1018.87 482.1,1018.62 483.43,1018.4 484.77,1018.34 486.15,1018.75 487.54,1019.51 488.92,1020.25 490.3,1020.82 491.68,1020.9 493.07,1022.39 494.35,1022.52 495.64,1022.81 496.93,1022.42 498.21,1023.46 499.5,1023.49 500.78,1022.39 502.07,1023.38 503.36,1023.48 504.64,1024.61 505.93,1023.86 507.28,1023.63 508.62,1022.93 509.97,1023.57 511.32,1022.08 512.67,1021.66 514.02,1022.32 515.36,1020.89 516.71,1020.73 518.08,1021.24 519.44,1021.3 520.8,1022.34 522.16,1022.14 523.53,1022.53 524.89,1024.29 526.25,1023.86 527.64,1024.06 529.02,1022.31 530.4,1021.17 531.79,1021.87 533.17,1020.87 534.55,1020.01 535.93,1019.9 537.32,1019.2 538.7,1018.34 540.06,1018.92 541.43,1019.05 542.79,1018.87 544.15,1019.65 545.51,1019.75 546.88,1019.26 548.24,1020 549.6,1021.42 550.97,1020.97 552.33,1021.22 553.69,1022.55 555.06,1023.27 556.42,1022.75 557.78,1023.86 559.65,1024.8 561.51,1024.78 562.76,1026.14 564,1026.47 565.25,1026.76 566.49,1027.91 567.86,1031.01 569.22,1032.97 570.58,1035.32 571.94,1036.77 573.31,1039.86 574.67,1041.46 576.03,1044.48 577.42,1045.92 578.8,1046.44 580.18,1046.69 581.57,1047.09 582.95,1048.71 584.33,1049.45 585.71,1048.58 587.1,1047.39 588.48,1045.25 589.86,1044.5 591.24,1041.98 592.63,1041.17 593.87,1038.99 595.12,1038.64 596.36,1036.91 597.61,1034.38 598.85,1033.13 600.09,1031.28 601.34,1030.57 602.58,1029.41 603.83,1027.18 605.19,1026.37 606.54,1024.26 607.9,1024.03 609.26,1022.71 610.62,1021.39 611.97,1020.19 613.33,1019.02 614.69,1016.89 616.05,1017.11 617.4,1016.2 618.76,1014.1 620.12,1014.1 621.49,1015.04 622.85,1015.65 624.21,1017.49 625.58,1017.35 626.94,1018.21 628.3,1019.81 629.96,1024 631.62,1027.18 632.95,1025.91 634.28,1024.94 635.6,1024.45 636.93,1023.9 638.26,1023.13 639.5,1023.93 640.75,1024.25 641.99,1024.87 643.24,1024.78 644.62,1024.32 646,1022.1 647.39,1021.4 648.77,1019.18 650.15,1019.33 651.53,1017.23 652.82,1017.65 654.11,1019.2 655.39,1019.93 656.68,1021.14 657.96,1022.3 659.25,1024.05 660.54,1026.25 661.82,1026.06 663.11,1028.28 664.39,1028.83 665.72,1029.86 667.05,1029.86 668.38,1030.77 669.7,1031.64 671.03,1032.15 672.48,1030.92 673.93,1031.11 675.39,1031.2 676.84,1030.49 678.13,1032.79 679.43,1033.51 680.73,1036.05 682.02,1037.33 683.32,1039.97 684.62,1042.09 685.91,1043.31 687.21,1045.22 688.5,1043.08 689.79,1042.71 691.08,1040.02 692.37,1038.22 693.66,1036.88 694.95,1035.29 696.24,1035.24 697.53,1032.54 698.82,1031.23 700.21,1031.66 701.59,1034.26 702.97,1034.96 704.36,1036.07 705.74,1036.7 707.12,1037.85 708.37,1036.67 709.61,1035.25 710.85,1033.37 712.1,1033.47 713.34,1031.23 715,1034.01 716.66,1035.84 718.32,1037.12 719.7,1037.1 721.09,1036.5 722.47,1034.13 723.85,1033.64 725.24,1034.35 726.62,1032.88 727.95,1032.22 729.27,1031.9 730.6,1031.24 731.93,1030.51 733.26,1029.57 734.5,1029.96 735.74,1030.73 736.99,1031.81 738.23,1032.79 739.48,1032.88 740.81,1031.91 742.13,1031 743.46,1028.91 744.79,1027.33 746.12,1026.44 747.44,1025.17 748.77,1024.23 750.1,1022.56 751.43,1020.71 752.75,1018.79 754.08,1016.97 755.41,1016.22 756.74,1013.95 758.06,1012.79 759.39,1011.53 760.72,1013.64 762.05,1015.74 763.37,1017.5 764.7,1019.11 766.03,1021.47 767.27,1025.52 768.93,1022.81 770.59,1019.81 771.97,1021.36 773.36,1023.69 774.74,1025.52 776.4,1021.32 778.06,1016.12 779.72,1011.53 781.17,1015.08 782.62,1020.14 784.07,1023.4 785.52,1027.18 787.18,1023.2 788.84,1018.25 790.5,1014.84 792.16,1014.87 793.82,1016.5 795.69,1023.72 797.55,1030.49 798.94,1029.2 800.32,1028.85 801.7,1028.83 803.09,1029.67 804.47,1029.7 805.85,1030.72 807.23,1029.85 808.62,1030.53 810,1031.23" fill="none" stroke="#2750a0" stroke-width="3.0" stroke-linejoin="round" stroke-linecap="round"/>
</g>
<rect x="621" y="864.4" width="177.4" height="19.6" fill="#fff" stroke="#666" stroke-width="1.2"/>
<line x1="630.6" y1="874" x2="661.3" y2="874" stroke="#2750a0" stroke-width="2.6" stroke-linecap="round"/>
<text x="667.4" y="878" font-size="10.5" fill="#333" textLength="121.5" lengthAdjust="spacingAndGlyphs">-20 dBm output error</text>
<rect x="1024.5" y="809.6" width="712.3" height="445.1" rx="37" ry="37" fill="none" stroke="#585858" stroke-width="1.35"/>
<text x="1064.7" y="791.8" font-size="28.5" font-weight="bold" fill="#000" textLength="626.5" lengthAdjust="spacingAndGlyphs">Measured at -60 dBm,level error vs.frequency</text>
<line x1="1204.54" y1="839.5" x2="1204.54" y2="1207.2" stroke="#404040" stroke-width="1.9"/>
<line x1="1245.98" y1="839.5" x2="1245.98" y2="1207.2" stroke="#404040" stroke-width="1.9"/>
<line x1="1287.42" y1="839.5" x2="1287.42" y2="1207.2" stroke="#404040" stroke-width="1.9"/>
<line x1="1328.87" y1="839.5" x2="1328.87" y2="1207.2" stroke="#404040" stroke-width="1.9"/>
<line x1="1370.31" y1="839.5" x2="1370.31" y2="1207.2" stroke="#404040" stroke-width="1.9"/>
<line x1="1411.75" y1="839.5" x2="1411.75" y2="1207.2" stroke="#404040" stroke-width="1.9"/>
<line x1="1453.19" y1="839.5" x2="1453.19" y2="1207.2" stroke="#404040" stroke-width="1.9"/>
<line x1="1494.63" y1="839.5" x2="1494.63" y2="1207.2" stroke="#404040" stroke-width="1.9"/>
<line x1="1536.08" y1="839.5" x2="1536.08" y2="1207.2" stroke="#404040" stroke-width="1.9"/>
<line x1="1577.52" y1="839.5" x2="1577.52" y2="1207.2" stroke="#404040" stroke-width="1.9"/>
<line x1="1618.96" y1="839.5" x2="1618.96" y2="1207.2" stroke="#404040" stroke-width="1.9"/>
<line x1="1163.1" y1="876.27" x2="1660.4" y2="876.27" stroke="#4e4e4e" stroke-width="1.9"/>
<line x1="1163.1" y1="913.04" x2="1660.4" y2="913.04" stroke="#4e4e4e" stroke-width="1.9"/>
<line x1="1163.1" y1="949.81" x2="1660.4" y2="949.81" stroke="#4e4e4e" stroke-width="1.9"/>
<line x1="1163.1" y1="986.58" x2="1660.4" y2="986.58" stroke="#4e4e4e" stroke-width="1.9"/>
<line x1="1163.1" y1="1023.35" x2="1660.4" y2="1023.35" stroke="#4e4e4e" stroke-width="1.9"/>
<line x1="1163.1" y1="1060.12" x2="1660.4" y2="1060.12" stroke="#4e4e4e" stroke-width="1.9"/>
<line x1="1163.1" y1="1096.89" x2="1660.4" y2="1096.89" stroke="#4e4e4e" stroke-width="1.9"/>
<line x1="1163.1" y1="1133.66" x2="1660.4" y2="1133.66" stroke="#4e4e4e" stroke-width="1.9"/>
<line x1="1163.1" y1="1170.43" x2="1660.4" y2="1170.43" stroke="#4e4e4e" stroke-width="1.9"/>
<path d="M1163.1 1207.2v-7M1163.1 839.5v7M1176.91 1207.2v-3.8M1176.91 839.5v3.8M1190.73 1207.2v-3.8M1190.73 839.5v3.8M1204.54 1207.2v-7M1204.54 839.5v7M1218.36 1207.2v-3.8M1218.36 839.5v3.8M1232.17 1207.2v-3.8M1232.17 839.5v3.8M1245.98 1207.2v-7M1245.98 839.5v7M1259.8 1207.2v-3.8M1259.8 839.5v3.8M1273.61 1207.2v-3.8M1273.61 839.5v3.8M1287.42 1207.2v-7M1287.42 839.5v7M1301.24 1207.2v-3.8M1301.24 839.5v3.8M1315.05 1207.2v-3.8M1315.05 839.5v3.8M1328.87 1207.2v-7M1328.87 839.5v7M1342.68 1207.2v-3.8M1342.68 839.5v3.8M1356.49 1207.2v-3.8M1356.49 839.5v3.8M1370.31 1207.2v-7M1370.31 839.5v7M1384.12 1207.2v-3.8M1384.12 839.5v3.8M1397.94 1207.2v-3.8M1397.94 839.5v3.8M1411.75 1207.2v-7M1411.75 839.5v7M1425.56 1207.2v-3.8M1425.56 839.5v3.8M1439.38 1207.2v-3.8M1439.38 839.5v3.8M1453.19 1207.2v-7M1453.19 839.5v7M1467.01 1207.2v-3.8M1467.01 839.5v3.8M1480.82 1207.2v-3.8M1480.82 839.5v3.8M1494.63 1207.2v-7M1494.63 839.5v7M1508.45 1207.2v-3.8M1508.45 839.5v3.8M1522.26 1207.2v-3.8M1522.26 839.5v3.8M1536.08 1207.2v-7M1536.08 839.5v7M1549.89 1207.2v-3.8M1549.89 839.5v3.8M1563.7 1207.2v-3.8M1563.7 839.5v3.8M1577.52 1207.2v-7M1577.52 839.5v7M1591.33 1207.2v-3.8M1591.33 839.5v3.8M1605.14 1207.2v-3.8M1605.14 839.5v3.8M1618.96 1207.2v-7M1618.96 839.5v7M1632.77 1207.2v-3.8M1632.77 839.5v3.8M1646.59 1207.2v-3.8M1646.59 839.5v3.8M1660.4 1207.2v-7M1660.4 839.5v7M1163.1 839.5h8M1660.4 839.5h-8M1163.1 857.88h4.2M1660.4 857.88h-4.2M1163.1 876.27h8M1660.4 876.27h-8M1163.1 894.65h4.2M1660.4 894.65h-4.2M1163.1 913.04h8M1660.4 913.04h-8M1163.1 931.42h4.2M1660.4 931.42h-4.2M1163.1 949.81h8M1660.4 949.81h-8M1163.1 968.2h4.2M1660.4 968.2h-4.2M1163.1 986.58h8M1660.4 986.58h-8M1163.1 1004.97h4.2M1660.4 1004.97h-4.2M1163.1 1023.35h8M1660.4 1023.35h-8M1163.1 1041.74h4.2M1660.4 1041.74h-4.2M1163.1 1060.12h8M1660.4 1060.12h-8M1163.1 1078.51h4.2M1660.4 1078.51h-4.2M1163.1 1096.89h8M1660.4 1096.89h-8M1163.1 1115.28h4.2M1660.4 1115.28h-4.2M1163.1 1133.66h8M1660.4 1133.66h-8M1163.1 1152.05h4.2M1660.4 1152.05h-4.2M1163.1 1170.43h8M1660.4 1170.43h-8M1163.1 1188.82h4.2M1660.4 1188.82h-4.2M1163.1 1207.2h8M1660.4 1207.2h-8" stroke="#000" stroke-width="2" fill="none"/>
<rect x="1163.1" y="839.5" width="497.3" height="367.7" fill="none" stroke="#000" stroke-width="2.3"/>
<text x="1154.6" y="842.7" font-size="12" font-weight="bold" fill="#000" text-anchor="end" textLength="19.5" lengthAdjust="spacingAndGlyphs">1.0</text>
<text x="1154.6" y="879.47" font-size="12" font-weight="bold" fill="#000" text-anchor="end" textLength="19.5" lengthAdjust="spacingAndGlyphs">0.8</text>
<text x="1154.6" y="916.24" font-size="12" font-weight="bold" fill="#000" text-anchor="end" textLength="19.5" lengthAdjust="spacingAndGlyphs">0.6</text>
<text x="1154.6" y="953.01" font-size="12" font-weight="bold" fill="#000" text-anchor="end" textLength="19.5" lengthAdjust="spacingAndGlyphs">0.4</text>
<text x="1154.6" y="989.78" font-size="12" font-weight="bold" fill="#000" text-anchor="end" textLength="19.5" lengthAdjust="spacingAndGlyphs">0.2</text>
<text x="1154.6" y="1026.55" font-size="12" font-weight="bold" fill="#000" text-anchor="end" textLength="19.5" lengthAdjust="spacingAndGlyphs">0.0</text>
<text x="1154.6" y="1063.32" font-size="12" font-weight="bold" fill="#000" text-anchor="end" textLength="23.9" lengthAdjust="spacingAndGlyphs">-0.2</text>
<text x="1154.6" y="1100.09" font-size="12" font-weight="bold" fill="#000" text-anchor="end" textLength="23.9" lengthAdjust="spacingAndGlyphs">-0.4</text>
<text x="1154.6" y="1136.86" font-size="12" font-weight="bold" fill="#000" text-anchor="end" textLength="23.9" lengthAdjust="spacingAndGlyphs">-0.6</text>
<text x="1154.6" y="1173.63" font-size="12" font-weight="bold" fill="#000" text-anchor="end" textLength="23.9" lengthAdjust="spacingAndGlyphs">-0.8</text>
<text x="1154.6" y="1210.4" font-size="12" font-weight="bold" fill="#000" text-anchor="end" textLength="23.9" lengthAdjust="spacingAndGlyphs">-1.0</text>
<text x="1163.1" y="1224.3" font-size="11.5" font-weight="bold" fill="#000" text-anchor="middle" textLength="17.4" lengthAdjust="spacingAndGlyphs">0.0</text>
<text x="1204.54" y="1224.3" font-size="11.5" font-weight="bold" fill="#000" text-anchor="middle" textLength="40.4" lengthAdjust="spacingAndGlyphs">300.0M</text>
<text x="1245.98" y="1224.3" font-size="11.5" font-weight="bold" fill="#000" text-anchor="middle" textLength="39.7" lengthAdjust="spacingAndGlyphs">600.0M</text>
<text x="1287.42" y="1224.3" font-size="11.5" font-weight="bold" fill="#000" text-anchor="middle" textLength="39.2" lengthAdjust="spacingAndGlyphs">900.0M</text>
<text x="1328.87" y="1224.3" font-size="11.5" font-weight="bold" fill="#000" text-anchor="middle" textLength="25.2" lengthAdjust="spacingAndGlyphs">1.2G</text>
<text x="1370.31" y="1224.3" font-size="11.5" font-weight="bold" fill="#000" text-anchor="middle" textLength="25.3" lengthAdjust="spacingAndGlyphs">1.5G</text>
<text x="1411.75" y="1224.3" font-size="11.5" font-weight="bold" fill="#000" text-anchor="middle" textLength="25.3" lengthAdjust="spacingAndGlyphs">1.8G</text>
<text x="1453.19" y="1224.3" font-size="11.5" font-weight="bold" fill="#000" text-anchor="middle" textLength="25.3" lengthAdjust="spacingAndGlyphs">2.1G</text>
<text x="1494.63" y="1224.3" font-size="11.5" font-weight="bold" fill="#000" text-anchor="middle" textLength="25.3" lengthAdjust="spacingAndGlyphs">2.4G</text>
<text x="1536.08" y="1224.3" font-size="11.5" font-weight="bold" fill="#000" text-anchor="middle" textLength="25.3" lengthAdjust="spacingAndGlyphs">2.7G</text>
<text x="1577.52" y="1224.3" font-size="11.5" font-weight="bold" fill="#000" text-anchor="middle" textLength="25.3" lengthAdjust="spacingAndGlyphs">3.0G</text>
<text x="1618.96" y="1224.3" font-size="11.5" font-weight="bold" fill="#000" text-anchor="middle" textLength="25.3" lengthAdjust="spacingAndGlyphs">3.3G</text>
<text x="1660.4" y="1224.3" font-size="11.5" font-weight="bold" fill="#000" text-anchor="middle" textLength="25.3" lengthAdjust="spacingAndGlyphs">3.6G</text>
<text x="1123.8" y="1014.85" font-size="17.5" font-weight="bold" text-anchor="middle" transform="rotate(-90 1123.8 1014.85)" textLength="133.5" lengthAdjust="spacingAndGlyphs">Level error (dB)</text>
<text x="1424.95" y="1242.7" font-size="17" font-weight="bold" fill="#000" text-anchor="middle" textLength="129.6" lengthAdjust="spacingAndGlyphs">Frequency (Hz)</text>
<rect x="1471.3" y="867" width="169.8" height="19.3" fill="#fff" stroke="#666" stroke-width="1.2"/>
<line x1="1480" y1="876.3" x2="1511.9" y2="876.3" stroke="#2750a0" stroke-width="2.6" stroke-linecap="round"/>
<text x="1518.1" y="880.6" font-size="10.5" fill="#333" textLength="114.9" lengthAdjust="spacingAndGlyphs">-60 dBm output error</text>
<clipPath id="clc4"><rect x="1163.1" y="839.5" width="497.3" height="367.7"/></clipPath>
<g clip-path="url(#clc4)">
<polyline points="1163.1,1000.92 1165.17,1025 1170.56,1037.69 1173.87,1041 1177.6,1032.91 1180.92,1032.17 1186.31,1025 1194.18,1016.18 1200.4,1022.61 1204.54,1016.92 1208.27,1024.09 1215.32,1017.83 1218.63,1020.22 1221.95,1009.75 1227.33,1010.48 1232.72,1005.7 1236.04,1015.44 1243.08,1017.83 1249.3,1023.35 1253.03,1023.35 1256.34,1031.26 1263.39,1025.74 1270.43,1008.09 1275.82,1016.92 1287.01,1032.91 1298.2,1005.7 1308.97,1031.26 1315.19,1028.13 1322.24,1031.26 1328.04,1023.35 1336.74,1018.57 1342.96,1025 1351.66,1026.48 1360.78,1035.3 1367.41,1028.13 1371.97,1019.31 1376.52,1023.35 1384.4,1034.56 1387.71,1031.26 1398.07,1043.39 1405.12,1032.36 1409.26,1031.62 1415.07,1020.96 1419.21,1027.39 1422.52,1020.96 1427.5,1032.36 1430.4,1034.01 1432.89,1028.31 1436.2,1042.29 1440.34,1038.98 1446.98,1050.56 1450.29,1038.98 1459.82,1021.7 1463.97,1042.29 1470.6,1037.32 1473.91,1045.6 1478.89,1031.62 1481.37,1035.67 1485.52,1024.09 1492.56,1034.01 1497.53,1026.66 1503.34,1034.01 1508.31,1034.93 1512.45,1042.29 1518.26,1035.67 1522.81,1038.98 1529.44,1020.04 1532.76,1026.66 1536.08,1016.73 1540.22,1023.35 1546.85,1010.11 1553.89,1026.66 1558.04,1026.66 1564.67,1006.8 1577.93,1016 1584.98,1001.84 1591.61,1025 1595.75,1025.74 1603.21,1016 1609.01,1001.84 1614.81,1015.08 1618.54,1016.73 1620.2,1008.46 1622.69,1018.39 1626.83,1007.72 1630.15,1007.72 1633.46,1021.7 1636.78,1006.8 1640.92,1021.7 1646.72,1011.77 1653.77,1025 1660.4,1009.38" fill="none" stroke="#2750a0" stroke-width="3.0" stroke-linejoin="round" stroke-linecap="round"/>
</g>
<rect x="1471.3" y="867" width="169.8" height="19.3" fill="#fff" stroke="#666" stroke-width="1.2"/>
<line x1="1480" y1="876.3" x2="1511.9" y2="876.3" stroke="#2750a0" stroke-width="2.6" stroke-linecap="round"/>
<text x="1518.1" y="880.6" font-size="10.5" fill="#333" textLength="114.9" lengthAdjust="spacingAndGlyphs">-60 dBm output error</text>
<rect x="183.6" y="1390.2" width="712.2" height="445.4" rx="37" ry="37" fill="none" stroke="#585858" stroke-width="1.35"/>
<text x="231.6" y="1379" font-size="28.5" font-weight="bold" fill="#000" textLength="626.9" lengthAdjust="spacingAndGlyphs">Measured at -90 dBm,level error vs.frequency</text>
<line x1="349.99" y1="1413.7" x2="349.99" y2="1781.5" stroke="#404040" stroke-width="1.9"/>
<line x1="391.38" y1="1413.7" x2="391.38" y2="1781.5" stroke="#404040" stroke-width="1.9"/>
<line x1="432.77" y1="1413.7" x2="432.77" y2="1781.5" stroke="#404040" stroke-width="1.9"/>
<line x1="474.17" y1="1413.7" x2="474.17" y2="1781.5" stroke="#404040" stroke-width="1.9"/>
<line x1="515.56" y1="1413.7" x2="515.56" y2="1781.5" stroke="#404040" stroke-width="1.9"/>
<line x1="556.95" y1="1413.7" x2="556.95" y2="1781.5" stroke="#404040" stroke-width="1.9"/>
<line x1="598.34" y1="1413.7" x2="598.34" y2="1781.5" stroke="#404040" stroke-width="1.9"/>
<line x1="639.73" y1="1413.7" x2="639.73" y2="1781.5" stroke="#404040" stroke-width="1.9"/>
<line x1="681.12" y1="1413.7" x2="681.12" y2="1781.5" stroke="#404040" stroke-width="1.9"/>
<line x1="722.52" y1="1413.7" x2="722.52" y2="1781.5" stroke="#404040" stroke-width="1.9"/>
<line x1="763.91" y1="1413.7" x2="763.91" y2="1781.5" stroke="#404040" stroke-width="1.9"/>
<line x1="308.6" y1="1450.48" x2="805.3" y2="1450.48" stroke="#4e4e4e" stroke-width="1.9"/>
<line x1="308.6" y1="1487.26" x2="805.3" y2="1487.26" stroke="#4e4e4e" stroke-width="1.9"/>
<line x1="308.6" y1="1524.04" x2="805.3" y2="1524.04" stroke="#4e4e4e" stroke-width="1.9"/>
<line x1="308.6" y1="1560.82" x2="805.3" y2="1560.82" stroke="#4e4e4e" stroke-width="1.9"/>
<line x1="308.6" y1="1597.6" x2="805.3" y2="1597.6" stroke="#4e4e4e" stroke-width="1.9"/>
<line x1="308.6" y1="1634.38" x2="805.3" y2="1634.38" stroke="#4e4e4e" stroke-width="1.9"/>
<line x1="308.6" y1="1671.16" x2="805.3" y2="1671.16" stroke="#4e4e4e" stroke-width="1.9"/>
<line x1="308.6" y1="1707.94" x2="805.3" y2="1707.94" stroke="#4e4e4e" stroke-width="1.9"/>
<line x1="308.6" y1="1744.72" x2="805.3" y2="1744.72" stroke="#4e4e4e" stroke-width="1.9"/>
<path d="M308.6 1781.5v-7M308.6 1413.7v7M322.4 1781.5v-3.8M322.4 1413.7v3.8M336.19 1781.5v-3.8M336.19 1413.7v3.8M349.99 1781.5v-7M349.99 1413.7v7M363.79 1781.5v-3.8M363.79 1413.7v3.8M377.59 1781.5v-3.8M377.59 1413.7v3.8M391.38 1781.5v-7M391.38 1413.7v7M405.18 1781.5v-3.8M405.18 1413.7v3.8M418.98 1781.5v-3.8M418.98 1413.7v3.8M432.77 1781.5v-7M432.77 1413.7v7M446.57 1781.5v-3.8M446.57 1413.7v3.8M460.37 1781.5v-3.8M460.37 1413.7v3.8M474.17 1781.5v-7M474.17 1413.7v7M487.96 1781.5v-3.8M487.96 1413.7v3.8M501.76 1781.5v-3.8M501.76 1413.7v3.8M515.56 1781.5v-7M515.56 1413.7v7M529.36 1781.5v-3.8M529.36 1413.7v3.8M543.15 1781.5v-3.8M543.15 1413.7v3.8M556.95 1781.5v-7M556.95 1413.7v7M570.75 1781.5v-3.8M570.75 1413.7v3.8M584.54 1781.5v-3.8M584.54 1413.7v3.8M598.34 1781.5v-7M598.34 1413.7v7M612.14 1781.5v-3.8M612.14 1413.7v3.8M625.94 1781.5v-3.8M625.94 1413.7v3.8M639.73 1781.5v-7M639.73 1413.7v7M653.53 1781.5v-3.8M653.53 1413.7v3.8M667.33 1781.5v-3.8M667.33 1413.7v3.8M681.12 1781.5v-7M681.12 1413.7v7M694.92 1781.5v-3.8M694.92 1413.7v3.8M708.72 1781.5v-3.8M708.72 1413.7v3.8M722.52 1781.5v-7M722.52 1413.7v7M736.31 1781.5v-3.8M736.31 1413.7v3.8M750.11 1781.5v-3.8M750.11 1413.7v3.8M763.91 1781.5v-7M763.91 1413.7v7M777.71 1781.5v-3.8M777.71 1413.7v3.8M791.5 1781.5v-3.8M791.5 1413.7v3.8M805.3 1781.5v-7M805.3 1413.7v7M308.6 1413.7h8M805.3 1413.7h-8M308.6 1432.09h4.2M805.3 1432.09h-4.2M308.6 1450.48h8M805.3 1450.48h-8M308.6 1468.87h4.2M805.3 1468.87h-4.2M308.6 1487.26h8M805.3 1487.26h-8M308.6 1505.65h4.2M805.3 1505.65h-4.2M308.6 1524.04h8M805.3 1524.04h-8M308.6 1542.43h4.2M805.3 1542.43h-4.2M308.6 1560.82h8M805.3 1560.82h-8M308.6 1579.21h4.2M805.3 1579.21h-4.2M308.6 1597.6h8M805.3 1597.6h-8M308.6 1615.99h4.2M805.3 1615.99h-4.2M308.6 1634.38h8M805.3 1634.38h-8M308.6 1652.77h4.2M805.3 1652.77h-4.2M308.6 1671.16h8M805.3 1671.16h-8M308.6 1689.55h4.2M805.3 1689.55h-4.2M308.6 1707.94h8M805.3 1707.94h-8M308.6 1726.33h4.2M805.3 1726.33h-4.2M308.6 1744.72h8M805.3 1744.72h-8M308.6 1763.11h4.2M805.3 1763.11h-4.2M308.6 1781.5h8M805.3 1781.5h-8" stroke="#000" stroke-width="2" fill="none"/>
<rect x="308.6" y="1413.7" width="496.7" height="367.8" fill="none" stroke="#000" stroke-width="2.3"/>
<text x="300.1" y="1416.9" font-size="12" font-weight="bold" fill="#000" text-anchor="end" textLength="19.5" lengthAdjust="spacingAndGlyphs">1.0</text>
<text x="300.1" y="1453.68" font-size="12" font-weight="bold" fill="#000" text-anchor="end" textLength="19.5" lengthAdjust="spacingAndGlyphs">0.8</text>
<text x="300.1" y="1490.46" font-size="12" font-weight="bold" fill="#000" text-anchor="end" textLength="19.5" lengthAdjust="spacingAndGlyphs">0.6</text>
<text x="300.1" y="1527.24" font-size="12" font-weight="bold" fill="#000" text-anchor="end" textLength="19.5" lengthAdjust="spacingAndGlyphs">0.4</text>
<text x="300.1" y="1564.02" font-size="12" font-weight="bold" fill="#000" text-anchor="end" textLength="19.5" lengthAdjust="spacingAndGlyphs">0.2</text>
<text x="300.1" y="1600.8" font-size="12" font-weight="bold" fill="#000" text-anchor="end" textLength="19.5" lengthAdjust="spacingAndGlyphs">0.0</text>
<text x="300.1" y="1637.58" font-size="12" font-weight="bold" fill="#000" text-anchor="end" textLength="23.9" lengthAdjust="spacingAndGlyphs">-0.2</text>
<text x="300.1" y="1674.36" font-size="12" font-weight="bold" fill="#000" text-anchor="end" textLength="23.9" lengthAdjust="spacingAndGlyphs">-0.4</text>
<text x="300.1" y="1711.14" font-size="12" font-weight="bold" fill="#000" text-anchor="end" textLength="23.9" lengthAdjust="spacingAndGlyphs">-0.6</text>
<text x="300.1" y="1747.92" font-size="12" font-weight="bold" fill="#000" text-anchor="end" textLength="23.9" lengthAdjust="spacingAndGlyphs">-0.8</text>
<text x="300.1" y="1784.7" font-size="12" font-weight="bold" fill="#000" text-anchor="end" textLength="23.9" lengthAdjust="spacingAndGlyphs">-1.0</text>
<text x="308.6" y="1798.6" font-size="11.5" font-weight="bold" fill="#000" text-anchor="middle" textLength="17.4" lengthAdjust="spacingAndGlyphs">0.0</text>
<text x="349.99" y="1798.6" font-size="11.5" font-weight="bold" fill="#000" text-anchor="middle" textLength="40.4" lengthAdjust="spacingAndGlyphs">300.0M</text>
<text x="391.38" y="1798.6" font-size="11.5" font-weight="bold" fill="#000" text-anchor="middle" textLength="39.7" lengthAdjust="spacingAndGlyphs">600.0M</text>
<text x="432.77" y="1798.6" font-size="11.5" font-weight="bold" fill="#000" text-anchor="middle" textLength="39.2" lengthAdjust="spacingAndGlyphs">900.0M</text>
<text x="474.17" y="1798.6" font-size="11.5" font-weight="bold" fill="#000" text-anchor="middle" textLength="25.2" lengthAdjust="spacingAndGlyphs">1.2G</text>
<text x="515.56" y="1798.6" font-size="11.5" font-weight="bold" fill="#000" text-anchor="middle" textLength="25.3" lengthAdjust="spacingAndGlyphs">1.5G</text>
<text x="556.95" y="1798.6" font-size="11.5" font-weight="bold" fill="#000" text-anchor="middle" textLength="25.3" lengthAdjust="spacingAndGlyphs">1.8G</text>
<text x="598.34" y="1798.6" font-size="11.5" font-weight="bold" fill="#000" text-anchor="middle" textLength="25.3" lengthAdjust="spacingAndGlyphs">2.1G</text>
<text x="639.73" y="1798.6" font-size="11.5" font-weight="bold" fill="#000" text-anchor="middle" textLength="25.3" lengthAdjust="spacingAndGlyphs">2.4G</text>
<text x="681.12" y="1798.6" font-size="11.5" font-weight="bold" fill="#000" text-anchor="middle" textLength="25.3" lengthAdjust="spacingAndGlyphs">2.7G</text>
<text x="722.52" y="1798.6" font-size="11.5" font-weight="bold" fill="#000" text-anchor="middle" textLength="25.3" lengthAdjust="spacingAndGlyphs">3.0G</text>
<text x="763.91" y="1798.6" font-size="11.5" font-weight="bold" fill="#000" text-anchor="middle" textLength="25.3" lengthAdjust="spacingAndGlyphs">3.3G</text>
<text x="805.3" y="1798.6" font-size="11.5" font-weight="bold" fill="#000" text-anchor="middle" textLength="25.3" lengthAdjust="spacingAndGlyphs">3.6G</text>
<text x="269.3" y="1589.1" font-size="17.5" font-weight="bold" text-anchor="middle" transform="rotate(-90 269.3 1589.1)" textLength="133.5" lengthAdjust="spacingAndGlyphs">Level error (dB)</text>
<text x="570.15" y="1817" font-size="17" font-weight="bold" fill="#000" text-anchor="middle" textLength="129.6" lengthAdjust="spacingAndGlyphs">Frequency (Hz)</text>
<rect x="616.2" y="1440.7" width="170.2" height="19.9" fill="#fff" stroke="#666" stroke-width="1.2"/>
<line x1="626" y1="1450.6" x2="657.3" y2="1450.6" stroke="#2750a0" stroke-width="2.6" stroke-linecap="round"/>
<text x="663.7" y="1455.3" font-size="10.5" fill="#333" textLength="114.6" lengthAdjust="spacingAndGlyphs">-90 dBm output error</text>
<clipPath id="clc5"><rect x="308.6" y="1413.7" width="496.7" height="367.8"/></clipPath>
<g clip-path="url(#clc5)">
<polyline points="308.6,1566.15 310.26,1596.31 311.08,1585.28 312.74,1595.58 315.64,1617.65 318.95,1617.65 322.67,1599.44 325.98,1609.74 333.02,1591.53 336.33,1597.97 339.23,1583.62 344.2,1588.4 347.09,1597.97 350.41,1578.11 353.3,1596.31 358.27,1586.75 361.17,1586.01 363.65,1590.06 367.79,1578.11 374,1581.23 377.72,1574.98 381.86,1582.89 385.17,1584.36 394.28,1594.66 399.25,1596.31 402.15,1603.48 408.77,1597.97 415.8,1577.37 421.19,1586.01 424.5,1590.8 429.05,1600.36 433.19,1602.75 443.12,1576.45 454.3,1601.83 457.61,1604.22 463.82,1598.7 467.54,1603.48 474.17,1593.92 481.2,1586.01 488.24,1595.58 491.97,1590.06 499,1593.19 505.62,1601.83 515.56,1586.01 525.91,1599.44 536.25,1605.88 543.29,1612.13 548.67,1603.48 554.05,1600.91 560.68,1592.63 564.81,1597.6 567.3,1594.29 574.75,1609 578.06,1599.99 580.96,1613.05 584.27,1604.96 591.72,1623.71 597.51,1609.92 605.79,1594.29 609.1,1613.05 615.31,1609 618.62,1617.28 623.59,1600.91 626.07,1605.69 629.39,1595.21 637.66,1609 641.8,1597.6 648.01,1602.57 654.63,1605.69 657.12,1610.66 662.91,1608.27 667.88,1614.7 674.09,1595.21 677.4,1597.6 680.71,1590.98 684.85,1595.21 690.65,1585.28 698.1,1599.26 702.23,1598.34 709.27,1584.54 712.58,1583.62 716.72,1591.9 720.03,1592.63 729.97,1579.58 737,1600.91 746.11,1594.29 750.25,1592.63 753.56,1579.58 757.7,1586.93 761.01,1580.5 766.81,1594.29 773.84,1584.54 777.98,1588.59 781.29,1584.54 785.43,1600.91 788.74,1601.65 792.05,1585.28 795.37,1598.34 799.09,1599.26 804.89,1590.24" fill="none" stroke="#2750a0" stroke-width="3.0" stroke-linejoin="round" stroke-linecap="round"/>
</g>
<rect x="616.2" y="1440.7" width="170.2" height="19.9" fill="#fff" stroke="#666" stroke-width="1.2"/>
<line x1="626" y1="1450.6" x2="657.3" y2="1450.6" stroke="#2750a0" stroke-width="2.6" stroke-linecap="round"/>
<text x="663.7" y="1455.3" font-size="10.5" fill="#333" textLength="114.6" lengthAdjust="spacingAndGlyphs">-90 dBm output error</text>
<rect x="1024.5" y="1390.6" width="712.3" height="445" rx="37" ry="37" fill="none" stroke="#585858" stroke-width="1.35"/>
<text x="1057.4" y="1376.3" font-size="28.5" font-weight="bold" fill="#000" textLength="641.4" lengthAdjust="spacingAndGlyphs">Measured at -110 dBm,level error vs.frequency</text>
<line x1="1203.36" y1="1412.8" x2="1203.36" y2="1781.5" stroke="#404040" stroke-width="1.9"/>
<line x1="1244.92" y1="1412.8" x2="1244.92" y2="1781.5" stroke="#404040" stroke-width="1.9"/>
<line x1="1286.47" y1="1412.8" x2="1286.47" y2="1781.5" stroke="#404040" stroke-width="1.9"/>
<line x1="1328.03" y1="1412.8" x2="1328.03" y2="1781.5" stroke="#404040" stroke-width="1.9"/>
<line x1="1369.59" y1="1412.8" x2="1369.59" y2="1781.5" stroke="#404040" stroke-width="1.9"/>
<line x1="1411.15" y1="1412.8" x2="1411.15" y2="1781.5" stroke="#404040" stroke-width="1.9"/>
<line x1="1452.71" y1="1412.8" x2="1452.71" y2="1781.5" stroke="#404040" stroke-width="1.9"/>
<line x1="1494.27" y1="1412.8" x2="1494.27" y2="1781.5" stroke="#404040" stroke-width="1.9"/>
<line x1="1535.83" y1="1412.8" x2="1535.83" y2="1781.5" stroke="#404040" stroke-width="1.9"/>
<line x1="1577.38" y1="1412.8" x2="1577.38" y2="1781.5" stroke="#404040" stroke-width="1.9"/>
<line x1="1618.94" y1="1412.8" x2="1618.94" y2="1781.5" stroke="#404040" stroke-width="1.9"/>
<line x1="1161.8" y1="1449.67" x2="1660.5" y2="1449.67" stroke="#4e4e4e" stroke-width="1.9"/>
<line x1="1161.8" y1="1486.54" x2="1660.5" y2="1486.54" stroke="#4e4e4e" stroke-width="1.9"/>
<line x1="1161.8" y1="1523.41" x2="1660.5" y2="1523.41" stroke="#4e4e4e" stroke-width="1.9"/>
<line x1="1161.8" y1="1560.28" x2="1660.5" y2="1560.28" stroke="#4e4e4e" stroke-width="1.9"/>
<line x1="1161.8" y1="1597.15" x2="1660.5" y2="1597.15" stroke="#4e4e4e" stroke-width="1.9"/>
<line x1="1161.8" y1="1634.02" x2="1660.5" y2="1634.02" stroke="#4e4e4e" stroke-width="1.9"/>
<line x1="1161.8" y1="1670.89" x2="1660.5" y2="1670.89" stroke="#4e4e4e" stroke-width="1.9"/>
<line x1="1161.8" y1="1707.76" x2="1660.5" y2="1707.76" stroke="#4e4e4e" stroke-width="1.9"/>
<line x1="1161.8" y1="1744.63" x2="1660.5" y2="1744.63" stroke="#4e4e4e" stroke-width="1.9"/>
<path d="M1161.8 1781.5v-7M1161.8 1412.8v7M1175.65 1781.5v-3.8M1175.65 1412.8v3.8M1189.51 1781.5v-3.8M1189.51 1412.8v3.8M1203.36 1781.5v-7M1203.36 1412.8v7M1217.21 1781.5v-3.8M1217.21 1412.8v3.8M1231.06 1781.5v-3.8M1231.06 1412.8v3.8M1244.92 1781.5v-7M1244.92 1412.8v7M1258.77 1781.5v-3.8M1258.77 1412.8v3.8M1272.62 1781.5v-3.8M1272.62 1412.8v3.8M1286.47 1781.5v-7M1286.47 1412.8v7M1300.33 1781.5v-3.8M1300.33 1412.8v3.8M1314.18 1781.5v-3.8M1314.18 1412.8v3.8M1328.03 1781.5v-7M1328.03 1412.8v7M1341.89 1781.5v-3.8M1341.89 1412.8v3.8M1355.74 1781.5v-3.8M1355.74 1412.8v3.8M1369.59 1781.5v-7M1369.59 1412.8v7M1383.44 1781.5v-3.8M1383.44 1412.8v3.8M1397.3 1781.5v-3.8M1397.3 1412.8v3.8M1411.15 1781.5v-7M1411.15 1412.8v7M1425 1781.5v-3.8M1425 1412.8v3.8M1438.86 1781.5v-3.8M1438.86 1412.8v3.8M1452.71 1781.5v-7M1452.71 1412.8v7M1466.56 1781.5v-3.8M1466.56 1412.8v3.8M1480.41 1781.5v-3.8M1480.41 1412.8v3.8M1494.27 1781.5v-7M1494.27 1412.8v7M1508.12 1781.5v-3.8M1508.12 1412.8v3.8M1521.97 1781.5v-3.8M1521.97 1412.8v3.8M1535.83 1781.5v-7M1535.83 1412.8v7M1549.68 1781.5v-3.8M1549.68 1412.8v3.8M1563.53 1781.5v-3.8M1563.53 1412.8v3.8M1577.38 1781.5v-7M1577.38 1412.8v7M1591.24 1781.5v-3.8M1591.24 1412.8v3.8M1605.09 1781.5v-3.8M1605.09 1412.8v3.8M1618.94 1781.5v-7M1618.94 1412.8v7M1632.79 1781.5v-3.8M1632.79 1412.8v3.8M1646.65 1781.5v-3.8M1646.65 1412.8v3.8M1660.5 1781.5v-7M1660.5 1412.8v7M1161.8 1412.8h8M1660.5 1412.8h-8M1161.8 1431.23h4.2M1660.5 1431.23h-4.2M1161.8 1449.67h8M1660.5 1449.67h-8M1161.8 1468.11h4.2M1660.5 1468.11h-4.2M1161.8 1486.54h8M1660.5 1486.54h-8M1161.8 1504.97h4.2M1660.5 1504.97h-4.2M1161.8 1523.41h8M1660.5 1523.41h-8M1161.8 1541.85h4.2M1660.5 1541.85h-4.2M1161.8 1560.28h8M1660.5 1560.28h-8M1161.8 1578.71h4.2M1660.5 1578.71h-4.2M1161.8 1597.15h8M1660.5 1597.15h-8M1161.8 1615.59h4.2M1660.5 1615.59h-4.2M1161.8 1634.02h8M1660.5 1634.02h-8M1161.8 1652.45h4.2M1660.5 1652.45h-4.2M1161.8 1670.89h8M1660.5 1670.89h-8M1161.8 1689.33h4.2M1660.5 1689.33h-4.2M1161.8 1707.76h8M1660.5 1707.76h-8M1161.8 1726.19h4.2M1660.5 1726.19h-4.2M1161.8 1744.63h8M1660.5 1744.63h-8M1161.8 1763.07h4.2M1660.5 1763.07h-4.2M1161.8 1781.5h8M1660.5 1781.5h-8" stroke="#000" stroke-width="2" fill="none"/>
<rect x="1161.8" y="1412.8" width="498.7" height="368.7" fill="none" stroke="#000" stroke-width="2.3"/>
<text x="1153.3" y="1416" font-size="12" font-weight="bold" fill="#000" text-anchor="end" textLength="19.5" lengthAdjust="spacingAndGlyphs">1.0</text>
<text x="1153.3" y="1452.87" font-size="12" font-weight="bold" fill="#000" text-anchor="end" textLength="19.5" lengthAdjust="spacingAndGlyphs">0.8</text>
<text x="1153.3" y="1489.74" font-size="12" font-weight="bold" fill="#000" text-anchor="end" textLength="19.5" lengthAdjust="spacingAndGlyphs">0.6</text>
<text x="1153.3" y="1526.61" font-size="12" font-weight="bold" fill="#000" text-anchor="end" textLength="19.5" lengthAdjust="spacingAndGlyphs">0.4</text>
<text x="1153.3" y="1563.48" font-size="12" font-weight="bold" fill="#000" text-anchor="end" textLength="19.5" lengthAdjust="spacingAndGlyphs">0.2</text>
<text x="1153.3" y="1600.35" font-size="12" font-weight="bold" fill="#000" text-anchor="end" textLength="19.5" lengthAdjust="spacingAndGlyphs">0.0</text>
<text x="1153.3" y="1637.22" font-size="12" font-weight="bold" fill="#000" text-anchor="end" textLength="23.9" lengthAdjust="spacingAndGlyphs">-0.2</text>
<text x="1153.3" y="1674.09" font-size="12" font-weight="bold" fill="#000" text-anchor="end" textLength="23.9" lengthAdjust="spacingAndGlyphs">-0.4</text>
<text x="1153.3" y="1710.96" font-size="12" font-weight="bold" fill="#000" text-anchor="end" textLength="23.9" lengthAdjust="spacingAndGlyphs">-0.6</text>
<text x="1153.3" y="1747.83" font-size="12" font-weight="bold" fill="#000" text-anchor="end" textLength="23.9" lengthAdjust="spacingAndGlyphs">-0.8</text>
<text x="1153.3" y="1784.7" font-size="12" font-weight="bold" fill="#000" text-anchor="end" textLength="23.9" lengthAdjust="spacingAndGlyphs">-1.0</text>
<text x="1161.8" y="1798.6" font-size="11.5" font-weight="bold" fill="#000" text-anchor="middle" textLength="17.4" lengthAdjust="spacingAndGlyphs">0.0</text>
<text x="1203.36" y="1798.6" font-size="11.5" font-weight="bold" fill="#000" text-anchor="middle" textLength="40.4" lengthAdjust="spacingAndGlyphs">300.0M</text>
<text x="1244.92" y="1798.6" font-size="11.5" font-weight="bold" fill="#000" text-anchor="middle" textLength="39.7" lengthAdjust="spacingAndGlyphs">600.0M</text>
<text x="1286.47" y="1798.6" font-size="11.5" font-weight="bold" fill="#000" text-anchor="middle" textLength="39.2" lengthAdjust="spacingAndGlyphs">900.0M</text>
<text x="1328.03" y="1798.6" font-size="11.5" font-weight="bold" fill="#000" text-anchor="middle" textLength="25.2" lengthAdjust="spacingAndGlyphs">1.2G</text>
<text x="1369.59" y="1798.6" font-size="11.5" font-weight="bold" fill="#000" text-anchor="middle" textLength="25.3" lengthAdjust="spacingAndGlyphs">1.5G</text>
<text x="1411.15" y="1798.6" font-size="11.5" font-weight="bold" fill="#000" text-anchor="middle" textLength="25.3" lengthAdjust="spacingAndGlyphs">1.8G</text>
<text x="1452.71" y="1798.6" font-size="11.5" font-weight="bold" fill="#000" text-anchor="middle" textLength="25.3" lengthAdjust="spacingAndGlyphs">2.1G</text>
<text x="1494.27" y="1798.6" font-size="11.5" font-weight="bold" fill="#000" text-anchor="middle" textLength="25.3" lengthAdjust="spacingAndGlyphs">2.4G</text>
<text x="1535.83" y="1798.6" font-size="11.5" font-weight="bold" fill="#000" text-anchor="middle" textLength="25.3" lengthAdjust="spacingAndGlyphs">2.7G</text>
<text x="1577.38" y="1798.6" font-size="11.5" font-weight="bold" fill="#000" text-anchor="middle" textLength="25.3" lengthAdjust="spacingAndGlyphs">3.0G</text>
<text x="1618.94" y="1798.6" font-size="11.5" font-weight="bold" fill="#000" text-anchor="middle" textLength="25.3" lengthAdjust="spacingAndGlyphs">3.3G</text>
<text x="1660.5" y="1798.6" font-size="11.5" font-weight="bold" fill="#000" text-anchor="middle" textLength="25.3" lengthAdjust="spacingAndGlyphs">3.6G</text>
<text x="1122.5" y="1588.65" font-size="17.5" font-weight="bold" text-anchor="middle" transform="rotate(-90 1122.5 1588.65)" textLength="133.5" lengthAdjust="spacingAndGlyphs">Level error (dB)</text>
<text x="1424.35" y="1817" font-size="17" font-weight="bold" fill="#000" text-anchor="middle" textLength="129.6" lengthAdjust="spacingAndGlyphs">Frequency (Hz)</text>
<rect x="1470.9" y="1440" width="178.2" height="20" fill="#fff" stroke="#666" stroke-width="1.2"/>
<line x1="1480" y1="1450" x2="1511.9" y2="1450" stroke="#2750a0" stroke-width="2.6" stroke-linecap="round"/>
<text x="1518.1" y="1454.6" font-size="10.5" fill="#333" textLength="121.5" lengthAdjust="spacingAndGlyphs">-110 dBm output error</text>
<clipPath id="clc6"><rect x="1161.8" y="1412.8" width="498.7" height="368.7"/></clipPath>
<g clip-path="url(#clc6)">
<polyline points="1161.8,1586.27 1162.22,1638.08 1163.05,1597.7 1165.12,1607.29 1172.19,1629.96 1179.25,1607.29 1183.41,1616.32 1188.81,1594.38 1196.71,1601.76 1203.77,1596.04 1207.1,1601.76 1210.84,1588.67 1217.07,1593.65 1220.4,1588.67 1223.31,1618.72 1227.46,1581.48 1231.2,1608.21 1234.53,1604.89 1237.85,1584.61 1242.42,1614.66 1245.33,1599.18 1250.32,1603.23 1254.89,1607.29 1259.88,1588.67 1262.79,1609.69 1266.11,1575.03 1269.02,1575.77 1274.01,1582.22 1276.92,1583.14 1280.24,1598.44 1289.8,1599.18 1293.54,1580.74 1296.86,1579.08 1303.93,1605.63 1310.16,1604.16 1313.9,1605.63 1317.23,1598.44 1320.97,1612.27 1327.2,1591.25 1332.19,1592.73 1337.59,1595.12 1341.75,1603.23 1345.49,1588.67 1348.81,1598.44 1352.55,1578.16 1356.71,1596.04 1358.79,1593.65 1362.94,1603.23 1366.68,1581.48 1371.67,1589.59 1376.24,1587.2 1379.98,1602.5 1384.14,1604.89 1387.05,1592.73 1393.7,1627.57 1400.76,1608.95 1404.5,1615.95 1410.32,1593.83 1414.47,1594.75 1418.63,1582.4 1426.11,1595.49 1430.68,1599.55 1435.67,1616.88 1438.99,1608.58 1443.15,1620.93 1446.47,1622.59 1449.8,1635.68 1456.45,1600.47 1460.19,1602.13 1463.51,1640.66 1466.84,1619.27 1470.16,1624.25 1474.32,1643.79 1477.64,1604.52 1480.97,1650.43 1484.29,1600.47 1492.19,1626.65 1498.01,1588.12 1501.33,1620.01 1505.49,1603.79 1508.81,1605.26 1515.46,1629.04 1520.45,1621.67 1522.53,1625.91 1529.18,1598.81 1533.33,1608.58 1535.83,1592.17 1543.31,1622.59 1549.12,1593.09 1553.28,1590.51 1557.02,1599.55 1560.34,1590.51 1563.67,1601.21 1566.99,1601.21 1571.15,1580.01 1575.31,1593.83 1577.8,1581.66 1581.95,1616.88 1585.69,1628.31 1589.02,1622.59 1592.34,1630.7 1598.99,1588.12 1603.15,1602.86 1609.8,1575.03 1613.95,1593.83 1616.03,1590.51 1620.19,1624.99 1630.16,1575.03 1634.32,1595.49 1637.64,1580.01 1644.29,1605.26 1647.62,1595.49 1651.36,1618.53 1658.01,1584.06 1660.5,1599.55" fill="none" stroke="#2750a0" stroke-width="3.0" stroke-linejoin="round" stroke-linecap="round"/>
</g>
<rect x="1470.9" y="1440" width="178.2" height="20" fill="#fff" stroke="#666" stroke-width="1.2"/>
<line x1="1480" y1="1450" x2="1511.9" y2="1450" stroke="#2750a0" stroke-width="2.6" stroke-linecap="round"/>
<text x="1518.1" y="1454.6" font-size="10.5" fill="#333" textLength="121.5" lengthAdjust="spacingAndGlyphs">-110 dBm output error</text>
<rect x="183.6" y="1984.6" width="711.9" height="444.7" rx="37" ry="37" fill="none" stroke="#585858" stroke-width="1.35"/>
<text x="323.2" y="1948.7" font-size="28.5" font-weight="bold" fill="#000" textLength="416.6" lengthAdjust="spacingAndGlyphs">Measured VSWR vs.frequency</text>
<line x1="278.74" y1="2025.6" x2="278.74" y2="2356.5" stroke="#b8b8b8" stroke-width="1.5"/>
<line x1="295.19" y1="2025.6" x2="295.19" y2="2356.5" stroke="#b8b8b8" stroke-width="1.5"/>
<line x1="328.08" y1="2025.6" x2="328.08" y2="2356.5" stroke="#b8b8b8" stroke-width="1.5"/>
<line x1="344.52" y1="2025.6" x2="344.52" y2="2356.5" stroke="#b8b8b8" stroke-width="1.5"/>
<line x1="377.41" y1="2025.6" x2="377.41" y2="2356.5" stroke="#b8b8b8" stroke-width="1.5"/>
<line x1="393.86" y1="2025.6" x2="393.86" y2="2356.5" stroke="#b8b8b8" stroke-width="1.5"/>
<line x1="426.74" y1="2025.6" x2="426.74" y2="2356.5" stroke="#b8b8b8" stroke-width="1.5"/>
<line x1="443.19" y1="2025.6" x2="443.19" y2="2356.5" stroke="#b8b8b8" stroke-width="1.5"/>
<line x1="476.08" y1="2025.6" x2="476.08" y2="2356.5" stroke="#b8b8b8" stroke-width="1.5"/>
<line x1="492.52" y1="2025.6" x2="492.52" y2="2356.5" stroke="#b8b8b8" stroke-width="1.5"/>
<line x1="525.41" y1="2025.6" x2="525.41" y2="2356.5" stroke="#b8b8b8" stroke-width="1.5"/>
<line x1="541.86" y1="2025.6" x2="541.86" y2="2356.5" stroke="#b8b8b8" stroke-width="1.5"/>
<line x1="574.74" y1="2025.6" x2="574.74" y2="2356.5" stroke="#b8b8b8" stroke-width="1.5"/>
<line x1="591.19" y1="2025.6" x2="591.19" y2="2356.5" stroke="#b8b8b8" stroke-width="1.5"/>
<line x1="624.08" y1="2025.6" x2="624.08" y2="2356.5" stroke="#b8b8b8" stroke-width="1.5"/>
<line x1="640.52" y1="2025.6" x2="640.52" y2="2356.5" stroke="#b8b8b8" stroke-width="1.5"/>
<line x1="673.41" y1="2025.6" x2="673.41" y2="2356.5" stroke="#b8b8b8" stroke-width="1.5"/>
<line x1="689.86" y1="2025.6" x2="689.86" y2="2356.5" stroke="#b8b8b8" stroke-width="1.5"/>
<line x1="722.74" y1="2025.6" x2="722.74" y2="2356.5" stroke="#b8b8b8" stroke-width="1.5"/>
<line x1="739.19" y1="2025.6" x2="739.19" y2="2356.5" stroke="#b8b8b8" stroke-width="1.5"/>
<line x1="772.08" y1="2025.6" x2="772.08" y2="2356.5" stroke="#b8b8b8" stroke-width="1.5"/>
<line x1="788.52" y1="2025.6" x2="788.52" y2="2356.5" stroke="#b8b8b8" stroke-width="1.5"/>
<line x1="821.41" y1="2025.6" x2="821.41" y2="2356.5" stroke="#b8b8b8" stroke-width="1.5"/>
<line x1="837.86" y1="2025.6" x2="837.86" y2="2356.5" stroke="#b8b8b8" stroke-width="1.5"/>
<line x1="311.63" y1="2025.6" x2="311.63" y2="2356.5" stroke="#1e1e1e" stroke-width="1.7"/>
<line x1="360.97" y1="2025.6" x2="360.97" y2="2356.5" stroke="#1e1e1e" stroke-width="1.7"/>
<line x1="410.3" y1="2025.6" x2="410.3" y2="2356.5" stroke="#1e1e1e" stroke-width="1.7"/>
<line x1="459.63" y1="2025.6" x2="459.63" y2="2356.5" stroke="#1e1e1e" stroke-width="1.7"/>
<line x1="508.97" y1="2025.6" x2="508.97" y2="2356.5" stroke="#1e1e1e" stroke-width="1.7"/>
<line x1="558.3" y1="2025.6" x2="558.3" y2="2356.5" stroke="#1e1e1e" stroke-width="1.7"/>
<line x1="607.63" y1="2025.6" x2="607.63" y2="2356.5" stroke="#1e1e1e" stroke-width="1.7"/>
<line x1="656.97" y1="2025.6" x2="656.97" y2="2356.5" stroke="#1e1e1e" stroke-width="1.7"/>
<line x1="706.3" y1="2025.6" x2="706.3" y2="2356.5" stroke="#1e1e1e" stroke-width="1.7"/>
<line x1="755.63" y1="2025.6" x2="755.63" y2="2356.5" stroke="#1e1e1e" stroke-width="1.7"/>
<line x1="804.97" y1="2025.6" x2="804.97" y2="2356.5" stroke="#1e1e1e" stroke-width="1.7"/>
<line x1="262.3" y1="2058.69" x2="854.3" y2="2058.69" stroke="#262626" stroke-width="1.7"/>
<line x1="262.3" y1="2091.78" x2="854.3" y2="2091.78" stroke="#262626" stroke-width="1.7"/>
<line x1="262.3" y1="2124.87" x2="854.3" y2="2124.87" stroke="#262626" stroke-width="1.7"/>
<line x1="262.3" y1="2157.96" x2="854.3" y2="2157.96" stroke="#262626" stroke-width="1.7"/>
<line x1="262.3" y1="2191.05" x2="854.3" y2="2191.05" stroke="#262626" stroke-width="1.7"/>
<line x1="262.3" y1="2224.14" x2="854.3" y2="2224.14" stroke="#262626" stroke-width="1.7"/>
<line x1="262.3" y1="2257.23" x2="854.3" y2="2257.23" stroke="#262626" stroke-width="1.7"/>
<line x1="262.3" y1="2290.32" x2="854.3" y2="2290.32" stroke="#262626" stroke-width="1.7"/>
<line x1="262.3" y1="2323.41" x2="854.3" y2="2323.41" stroke="#262626" stroke-width="1.7"/>
<path d="M262.3 2356.5v-7M262.3 2025.6v7M278.74 2356.5v-3.8M278.74 2025.6v3.8M295.19 2356.5v-3.8M295.19 2025.6v3.8M311.63 2356.5v-7M311.63 2025.6v7M328.08 2356.5v-3.8M328.08 2025.6v3.8M344.52 2356.5v-3.8M344.52 2025.6v3.8M360.97 2356.5v-7M360.97 2025.6v7M377.41 2356.5v-3.8M377.41 2025.6v3.8M393.86 2356.5v-3.8M393.86 2025.6v3.8M410.3 2356.5v-7M410.3 2025.6v7M426.74 2356.5v-3.8M426.74 2025.6v3.8M443.19 2356.5v-3.8M443.19 2025.6v3.8M459.63 2356.5v-7M459.63 2025.6v7M476.08 2356.5v-3.8M476.08 2025.6v3.8M492.52 2356.5v-3.8M492.52 2025.6v3.8M508.97 2356.5v-7M508.97 2025.6v7M525.41 2356.5v-3.8M525.41 2025.6v3.8M541.86 2356.5v-3.8M541.86 2025.6v3.8M558.3 2356.5v-7M558.3 2025.6v7M574.74 2356.5v-3.8M574.74 2025.6v3.8M591.19 2356.5v-3.8M591.19 2025.6v3.8M607.63 2356.5v-7M607.63 2025.6v7M624.08 2356.5v-3.8M624.08 2025.6v3.8M640.52 2356.5v-3.8M640.52 2025.6v3.8M656.97 2356.5v-7M656.97 2025.6v7M673.41 2356.5v-3.8M673.41 2025.6v3.8M689.86 2356.5v-3.8M689.86 2025.6v3.8M706.3 2356.5v-7M706.3 2025.6v7M722.74 2356.5v-3.8M722.74 2025.6v3.8M739.19 2356.5v-3.8M739.19 2025.6v3.8M755.63 2356.5v-7M755.63 2025.6v7M772.08 2356.5v-3.8M772.08 2025.6v3.8M788.52 2356.5v-3.8M788.52 2025.6v3.8M804.97 2356.5v-7M804.97 2025.6v7M821.41 2356.5v-3.8M821.41 2025.6v3.8M837.86 2356.5v-3.8M837.86 2025.6v3.8M854.3 2356.5v-7M854.3 2025.6v7M262.3 2025.6h8M854.3 2025.6h-8M262.3 2042.14h4.2M854.3 2042.14h-4.2M262.3 2058.69h8M854.3 2058.69h-8M262.3 2075.24h4.2M854.3 2075.24h-4.2M262.3 2091.78h8M854.3 2091.78h-8M262.3 2108.32h4.2M854.3 2108.32h-4.2M262.3 2124.87h8M854.3 2124.87h-8M262.3 2141.41h4.2M854.3 2141.41h-4.2M262.3 2157.96h8M854.3 2157.96h-8M262.3 2174.51h4.2M854.3 2174.51h-4.2M262.3 2191.05h8M854.3 2191.05h-8M262.3 2207.59h4.2M854.3 2207.59h-4.2M262.3 2224.14h8M854.3 2224.14h-8M262.3 2240.68h4.2M854.3 2240.68h-4.2M262.3 2257.23h8M854.3 2257.23h-8M262.3 2273.78h4.2M854.3 2273.78h-4.2M262.3 2290.32h8M854.3 2290.32h-8M262.3 2306.86h4.2M854.3 2306.86h-4.2M262.3 2323.41h8M854.3 2323.41h-8M262.3 2339.95h4.2M854.3 2339.95h-4.2M262.3 2356.5h8M854.3 2356.5h-8" stroke="#000" stroke-width="2" fill="none"/>
<rect x="262.3" y="2025.6" width="592" height="330.9" fill="none" stroke="#000" stroke-width="2.3"/>
<text x="255" y="2028.4" font-size="11" font-weight="bold" fill="#000" text-anchor="end" textLength="17.3" lengthAdjust="spacingAndGlyphs">2.0</text>
<text x="255" y="2061.49" font-size="11" font-weight="bold" fill="#000" text-anchor="end" textLength="17.3" lengthAdjust="spacingAndGlyphs">1.9</text>
<text x="255" y="2094.58" font-size="11" font-weight="bold" fill="#000" text-anchor="end" textLength="17.3" lengthAdjust="spacingAndGlyphs">1.8</text>
<text x="255" y="2127.67" font-size="11" font-weight="bold" fill="#000" text-anchor="end" textLength="17.3" lengthAdjust="spacingAndGlyphs">1.7</text>
<text x="255" y="2160.76" font-size="11" font-weight="bold" fill="#000" text-anchor="end" textLength="17.3" lengthAdjust="spacingAndGlyphs">1.6</text>
<text x="255" y="2193.85" font-size="11" font-weight="bold" fill="#000" text-anchor="end" textLength="17.3" lengthAdjust="spacingAndGlyphs">1.5</text>
<text x="255" y="2226.94" font-size="11" font-weight="bold" fill="#000" text-anchor="end" textLength="17.3" lengthAdjust="spacingAndGlyphs">1.4</text>
<text x="255" y="2260.03" font-size="11" font-weight="bold" fill="#000" text-anchor="end" textLength="17.3" lengthAdjust="spacingAndGlyphs">1.3</text>
<text x="255" y="2293.12" font-size="11" font-weight="bold" fill="#000" text-anchor="end" textLength="17.3" lengthAdjust="spacingAndGlyphs">1.2</text>
<text x="255" y="2326.21" font-size="11" font-weight="bold" fill="#000" text-anchor="end" textLength="17.3" lengthAdjust="spacingAndGlyphs">1.1</text>
<text x="255" y="2359.3" font-size="11" font-weight="bold" fill="#000" text-anchor="end" textLength="17.3" lengthAdjust="spacingAndGlyphs">1.0</text>
<text x="311.63" y="2372.6" font-size="10.5" font-weight="bold" fill="#000" text-anchor="middle" textLength="37.9" lengthAdjust="spacingAndGlyphs">300.0M</text>
<text x="360.97" y="2372.6" font-size="10.5" font-weight="bold" fill="#000" text-anchor="middle" textLength="37.2" lengthAdjust="spacingAndGlyphs">600.0M</text>
<text x="410.3" y="2372.6" font-size="10.5" font-weight="bold" fill="#000" text-anchor="middle" textLength="36.7" lengthAdjust="spacingAndGlyphs">900.0M</text>
<text x="459.63" y="2372.6" font-size="10.5" font-weight="bold" fill="#000" text-anchor="middle" textLength="25.5" lengthAdjust="spacingAndGlyphs">1.2G</text>
<text x="508.97" y="2372.6" font-size="10.5" font-weight="bold" fill="#000" text-anchor="middle" textLength="25.5" lengthAdjust="spacingAndGlyphs">1.5G</text>
<text x="558.3" y="2372.6" font-size="10.5" font-weight="bold" fill="#000" text-anchor="middle" textLength="25.5" lengthAdjust="spacingAndGlyphs">1.8G</text>
<text x="607.63" y="2372.6" font-size="10.5" font-weight="bold" fill="#000" text-anchor="middle" textLength="25.5" lengthAdjust="spacingAndGlyphs">2.1G</text>
<text x="656.97" y="2372.6" font-size="10.5" font-weight="bold" fill="#000" text-anchor="middle" textLength="25.5" lengthAdjust="spacingAndGlyphs">2.4G</text>
<text x="706.3" y="2372.6" font-size="10.5" font-weight="bold" fill="#000" text-anchor="middle" textLength="25.5" lengthAdjust="spacingAndGlyphs">2.7G</text>
<text x="755.63" y="2372.6" font-size="10.5" font-weight="bold" fill="#000" text-anchor="middle" textLength="25.5" lengthAdjust="spacingAndGlyphs">3.0G</text>
<text x="804.97" y="2372.6" font-size="10.5" font-weight="bold" fill="#000" text-anchor="middle" textLength="25.5" lengthAdjust="spacingAndGlyphs">3.3G</text>
<text x="854.3" y="2372.6" font-size="10.5" font-weight="bold" fill="#000" text-anchor="middle" textLength="25.5" lengthAdjust="spacingAndGlyphs">3.6G</text>
<text x="230.9" y="2185.85" font-size="16.5" font-weight="bold" text-anchor="middle" transform="rotate(-90 230.9 2185.85)" textLength="47.5" lengthAdjust="spacingAndGlyphs">VSWR</text>
<text x="570" y="2390.7" font-size="15.5" font-weight="bold" fill="#000" text-anchor="middle" textLength="116.8" lengthAdjust="spacingAndGlyphs">Frequency (Hz)</text>
<clipPath id="clv"><rect x="262.3" y="2025.6" width="592" height="330.9"/></clipPath>
<g clip-path="url(#clv)">
<polyline points="262.3,2224.14 263.29,2224.14 263.29,2310.17 264.27,2310.17 264.27,2326.72 265.26,2326.72 265.26,2343.26 266.25,2343.26 267.23,2343.26 267.23,2339.95 268.22,2339.95 268.22,2336.65 269.21,2336.65 269.21,2333.34 270.19,2333.34 270.19,2330.03 271.18,2330.03 272.17,2330.03 272.17,2326.72 273.15,2326.72 274.14,2326.72 275.13,2326.72 276.11,2326.72 277.1,2326.72 278.09,2326.72 279.07,2326.72 280.06,2326.72 281.05,2326.72 281.05,2323.41 282.03,2323.41 283.02,2323.41 284.01,2323.41 284.99,2323.41 285.98,2323.41 285.98,2320.1 286.97,2320.1 286.97,2316.79 287.95,2316.79 287.95,2313.48 288.94,2313.48 289.93,2313.48 289.93,2310.17 290.91,2310.17 290.91,2306.86 291.9,2306.86 291.9,2303.56 292.89,2303.56 292.89,2300.25 293.87,2300.25 293.87,2293.63 294.86,2293.63 294.86,2290.32 295.85,2290.32 295.85,2283.7 296.83,2283.7 296.83,2277.08 297.82,2277.08 297.82,2273.78 298.81,2273.78 298.81,2267.16 299.79,2267.16 299.79,2263.85 300.78,2263.85 300.78,2257.23 301.77,2257.23 301.77,2253.92 302.75,2253.92 302.75,2250.61 303.74,2250.61 303.74,2247.3 304.73,2247.3 304.73,2243.99 305.71,2243.99 305.71,2240.68 306.7,2240.68 306.7,2237.38 307.69,2237.38 308.67,2237.38 308.67,2234.07 309.66,2234.07 309.66,2230.76 310.65,2230.76 310.65,2227.45 311.63,2227.45 311.63,2224.14 312.62,2224.14 313.61,2224.14 313.61,2220.83 314.59,2220.83 315.58,2220.83 315.58,2217.52 316.57,2217.52 317.55,2217.52 317.55,2214.21 318.54,2214.21 318.54,2210.9 319.53,2210.9 320.51,2210.9 320.51,2207.59 321.5,2207.59 322.49,2207.59 323.47,2207.59 324.46,2207.59 325.45,2207.59 326.43,2207.59 327.42,2207.59 328.41,2207.59 329.39,2207.59 330.38,2207.59 331.37,2207.59 331.37,2210.9 332.35,2210.9 333.34,2210.9 334.33,2210.9 334.33,2214.21 335.31,2214.21 336.3,2214.21 336.3,2217.52 337.29,2217.52 338.27,2217.52 339.26,2217.52 339.26,2220.83 340.25,2220.83 340.25,2224.14 341.23,2224.14 341.23,2227.45 342.22,2227.45 342.22,2230.76 343.21,2230.76 343.21,2234.07 344.19,2234.07 344.19,2237.38 345.18,2237.38 346.17,2237.38 346.17,2240.68 347.15,2240.68 347.15,2243.99 348.14,2243.99 348.14,2250.61 349.13,2250.61 349.13,2253.92 350.11,2253.92 350.11,2260.54 351.1,2260.54 351.1,2263.85 352.09,2263.85 352.09,2270.47 353.07,2270.47 353.07,2273.78 354.06,2273.78 354.06,2280.39 355.05,2280.39 355.05,2283.7 356.03,2283.7 356.03,2287.01 357.02,2287.01 357.02,2293.63 358.01,2293.63 358.01,2300.25 358.99,2300.25 358.99,2303.56 359.98,2303.56 359.98,2310.17 360.97,2310.17 360.97,2316.79 361.95,2316.79 361.95,2323.41 362.94,2323.41 362.94,2326.72 363.93,2326.72 363.93,2333.34 364.91,2333.34 364.91,2336.65 365.9,2336.65 365.9,2339.95 366.89,2339.95 366.89,2343.26 367.87,2343.26 367.87,2346.57 368.86,2346.57 368.86,2349.88 369.85,2349.88 370.83,2349.88 370.83,2346.57 371.82,2346.57 371.82,2343.26 372.81,2343.26 373.79,2343.26 373.79,2339.95 374.78,2339.95 374.78,2336.65 375.77,2336.65 375.77,2333.34 376.75,2333.34 376.75,2330.03 377.74,2330.03 377.74,2326.72 378.73,2326.72 378.73,2320.1 379.71,2320.1 379.71,2316.79 380.7,2316.79 380.7,2313.48 381.69,2313.48 381.69,2310.17 382.67,2310.17 382.67,2306.86 383.66,2306.86 383.66,2303.56 384.65,2303.56 384.65,2300.25 385.63,2300.25 385.63,2296.94 386.62,2296.94 387.61,2296.94 388.59,2296.94 388.59,2293.63 389.58,2293.63 390.57,2293.63 391.55,2293.63 391.55,2290.32 392.54,2290.32 393.53,2290.32 394.51,2290.32 395.5,2290.32 396.49,2290.32 397.47,2290.32 398.46,2290.32 399.45,2290.32 400.43,2290.32 401.42,2290.32 402.41,2290.32 403.39,2290.32 404.38,2290.32 404.38,2293.63 405.37,2293.63 406.35,2293.63 406.35,2296.94 407.34,2296.94 408.33,2296.94 409.31,2296.94 409.31,2300.25 410.3,2300.25 411.29,2300.25 412.27,2300.25 412.27,2303.56 413.26,2303.56 414.25,2303.56 415.23,2303.56 415.23,2306.86 416.22,2306.86 417.21,2306.86 418.19,2306.86 418.19,2310.17 419.18,2310.17 420.17,2310.17 421.15,2310.17 422.14,2310.17 423.13,2310.17 424.11,2310.17 425.1,2310.17 426.09,2310.17 427.07,2310.17 428.06,2310.17 429.05,2310.17 430.03,2310.17 431.02,2310.17 432.01,2310.17 432.99,2310.17 433.98,2310.17 434.97,2310.17 435.95,2310.17 436.94,2310.17 437.93,2310.17 438.91,2310.17 438.91,2306.86 439.9,2306.86 439.9,2303.56 440.89,2303.56 440.89,2300.25 441.87,2300.25 442.86,2300.25 442.86,2296.94 443.85,2296.94 443.85,2293.63 444.83,2293.63 444.83,2290.32 445.82,2290.32 446.81,2290.32 446.81,2287.01 447.79,2287.01 447.79,2283.7 448.78,2283.7 448.78,2280.39 449.77,2280.39 449.77,2273.78 450.75,2273.78 450.75,2270.47 451.74,2270.47 451.74,2267.16 452.73,2267.16 452.73,2263.85 453.71,2263.85 453.71,2257.23 454.7,2257.23 454.7,2253.92 455.69,2253.92 455.69,2250.61 456.67,2250.61 456.67,2247.3 457.66,2247.3 457.66,2243.99 458.65,2243.99 458.65,2240.68 459.63,2240.68 459.63,2237.38 460.62,2237.38 460.62,2234.07 461.61,2234.07 461.61,2230.76 462.59,2230.76 463.58,2230.76 463.58,2227.45 464.57,2227.45 464.57,2224.14 465.55,2224.14 465.55,2220.83 466.54,2220.83 466.54,2217.52 467.53,2217.52 468.51,2217.52 468.51,2214.21 469.5,2214.21 470.49,2214.21 470.49,2210.9 471.47,2210.9 472.46,2210.9 472.46,2207.59 473.45,2207.59 474.43,2207.59 474.43,2204.29 475.42,2204.29 476.41,2204.29 477.39,2204.29 477.39,2207.59 478.38,2207.59 479.37,2207.59 480.35,2207.59 481.34,2207.59 482.33,2207.59 482.33,2210.9 483.31,2210.9 483.31,2214.21 484.3,2214.21 484.3,2217.52 485.29,2217.52 485.29,2220.83 486.27,2220.83 487.26,2220.83 487.26,2224.14 488.25,2224.14 488.25,2227.45 489.23,2227.45 489.23,2230.76 490.22,2230.76 490.22,2234.07 491.21,2234.07 491.21,2237.38 492.19,2237.38 492.19,2240.68 493.18,2240.68 493.18,2243.99 494.17,2243.99 494.17,2247.3 495.15,2247.3 495.15,2250.61 496.14,2250.61 496.14,2253.92 497.13,2253.92 497.13,2257.23 498.11,2257.23 498.11,2260.54 499.1,2260.54 499.1,2263.85 500.09,2263.85 500.09,2267.16 501.07,2267.16 501.07,2273.78 502.06,2273.78 502.06,2277.08 503.05,2277.08 503.05,2283.7 504.03,2283.7 504.03,2287.01 505.02,2287.01 505.02,2290.32 506.01,2290.32 506.01,2296.94 506.99,2296.94 506.99,2300.25 507.98,2300.25 507.98,2306.86 508.97,2306.86 508.97,2310.17 509.95,2310.17 509.95,2313.48 510.94,2313.48 510.94,2316.79 511.93,2316.79 511.93,2320.1 512.91,2320.1 512.91,2323.41 513.9,2323.41 514.89,2323.41 514.89,2326.72 515.87,2326.72 515.87,2330.03 516.86,2330.03 516.86,2333.34 517.85,2333.34 518.83,2333.34 518.83,2336.65 519.82,2336.65 520.81,2336.65 521.79,2336.65 522.78,2336.65 523.77,2336.65 524.75,2336.65 524.75,2333.34 525.74,2333.34 526.73,2333.34 527.71,2333.34 527.71,2330.03 528.7,2330.03 528.7,2326.72 529.69,2326.72 530.67,2326.72 530.67,2323.41 531.66,2323.41 531.66,2320.1 532.65,2320.1 532.65,2316.79 533.63,2316.79 534.62,2316.79 534.62,2313.48 535.61,2313.48 535.61,2310.17 536.59,2310.17 536.59,2306.86 537.58,2306.86 538.57,2306.86 538.57,2303.56 539.55,2303.56 539.55,2300.25 540.54,2300.25 540.54,2296.94 541.53,2296.94 542.51,2296.94 542.51,2293.63 543.5,2293.63 543.5,2290.32 544.49,2290.32 544.49,2287.01 545.47,2287.01 546.46,2287.01 546.46,2283.7 547.45,2283.7 547.45,2280.39 548.43,2280.39 549.42,2280.39 549.42,2277.08 550.41,2277.08 550.41,2273.78 551.39,2273.78 552.38,2273.78 553.37,2273.78 553.37,2270.47 554.35,2270.47 555.34,2270.47 556.33,2270.47 557.31,2270.47 557.31,2267.16 558.3,2267.16 559.29,2267.16 559.29,2270.47 560.27,2270.47 561.26,2270.47 562.25,2270.47 563.23,2270.47 563.23,2273.78 564.22,2273.78 565.21,2273.78 566.19,2273.78 567.18,2273.78 567.18,2277.08 568.17,2277.08 569.15,2277.08 570.14,2277.08 571.13,2277.08 572.11,2277.08 572.11,2280.39 573.1,2280.39 574.09,2280.39 575.07,2280.39 576.06,2280.39 577.05,2280.39 577.05,2283.7 578.03,2283.7 579.02,2283.7 580.01,2283.7 580.99,2283.7 580.99,2287.01 581.98,2287.01 582.97,2287.01 582.97,2290.32 583.95,2290.32 583.95,2293.63 584.94,2293.63 585.93,2293.63 585.93,2296.94 586.91,2296.94 586.91,2300.25 587.9,2300.25 588.89,2300.25 588.89,2303.56 589.87,2303.56 589.87,2306.86 590.86,2306.86 590.86,2310.17 591.85,2310.17 591.85,2313.48 592.83,2313.48 592.83,2316.79 593.82,2316.79 593.82,2320.1 594.81,2320.1 595.79,2320.1 595.79,2323.41 596.78,2323.41 596.78,2326.72 597.77,2326.72 597.77,2330.03 598.75,2330.03 598.75,2333.34 599.74,2333.34 599.74,2336.65 600.73,2336.65 601.71,2336.65 602.7,2336.65 603.69,2336.65 604.67,2336.65 605.66,2336.65 606.65,2336.65 607.63,2336.65 607.63,2333.34 608.62,2333.34 609.61,2333.34 609.61,2330.03 610.59,2330.03 610.59,2326.72 611.58,2326.72 612.57,2326.72 612.57,2323.41 613.55,2323.41 614.54,2323.41 614.54,2320.1 615.53,2320.1 615.53,2316.79 616.51,2316.79 617.5,2316.79 617.5,2313.48 618.49,2313.48 619.47,2313.48 619.47,2310.17 620.46,2310.17 621.45,2310.17 621.45,2306.86 622.43,2306.86 623.42,2306.86 623.42,2303.56 624.41,2303.56 625.39,2303.56 626.38,2303.56 627.37,2303.56 628.35,2303.56 629.34,2303.56 630.33,2303.56 631.31,2303.56 632.3,2303.56 633.29,2303.56 634.27,2303.56 635.26,2303.56 636.25,2303.56 637.23,2303.56 638.22,2303.56 639.21,2303.56 640.19,2303.56 640.19,2306.86 641.18,2306.86 642.17,2306.86 643.15,2306.86 643.15,2310.17 644.14,2310.17 645.13,2310.17 646.11,2310.17 646.11,2313.48 647.1,2313.48 648.09,2313.48 649.07,2313.48 649.07,2316.79 650.06,2316.79 651.05,2316.79 652.03,2316.79 652.03,2320.1 653.02,2320.1 654.01,2320.1 654.99,2320.1 654.99,2323.41 655.98,2323.41 656.97,2323.41 656.97,2320.1 657.95,2320.1 658.94,2320.1 658.94,2316.79 659.93,2316.79 660.91,2316.79 661.9,2316.79 661.9,2313.48 662.89,2313.48 663.87,2313.48 663.87,2310.17 664.86,2310.17 665.85,2310.17 666.83,2310.17 666.83,2306.86 667.82,2306.86 668.81,2306.86 668.81,2303.56 669.79,2303.56 670.78,2303.56 671.77,2303.56 671.77,2300.25 672.75,2300.25 673.74,2300.25 674.73,2300.25 674.73,2296.94 675.71,2296.94 676.7,2296.94 676.7,2293.63 677.69,2293.63 678.67,2293.63 679.66,2293.63 679.66,2290.32 680.65,2290.32 681.63,2290.32 682.62,2290.32 683.61,2290.32 684.59,2290.32 685.58,2290.32 686.57,2290.32 687.55,2290.32 688.54,2290.32 689.53,2290.32 690.51,2290.32 691.5,2290.32 691.5,2293.63 692.49,2293.63 693.47,2293.63 693.47,2296.94 694.46,2296.94 695.45,2296.94 695.45,2300.25 696.43,2300.25 697.42,2300.25 697.42,2303.56 698.41,2303.56 699.39,2303.56 699.39,2306.86 700.38,2306.86 701.37,2306.86 701.37,2310.17 702.35,2310.17 703.34,2310.17 703.34,2313.48 704.33,2313.48 704.33,2316.79 705.31,2316.79 706.3,2316.79 706.3,2320.1 707.29,2320.1 708.27,2320.1 708.27,2323.41 709.26,2323.41 709.26,2326.72 710.25,2326.72 711.23,2326.72 711.23,2333.34 712.22,2333.34 712.22,2336.65 713.21,2336.65 713.21,2339.95 714.19,2339.95 714.19,2343.26 715.18,2343.26 715.18,2346.57 716.17,2346.57 716.17,2349.88 717.15,2349.88 717.15,2353.19 718.14,2353.19 719.13,2353.19 719.13,2349.88 720.11,2349.88 720.11,2346.57 721.1,2346.57 721.1,2343.26 722.09,2343.26 722.09,2339.95 723.07,2339.95 723.07,2336.65 724.06,2336.65 724.06,2333.34 725.05,2333.34 725.05,2330.03 726.03,2330.03 726.03,2326.72 727.02,2326.72 727.02,2323.41 728.01,2323.41 728.99,2323.41 728.99,2320.1 729.98,2320.1 729.98,2316.79 730.97,2316.79 730.97,2313.48 731.95,2313.48 731.95,2310.17 732.94,2310.17 732.94,2306.86 733.93,2306.86 733.93,2303.56 734.91,2303.56 734.91,2300.25 735.9,2300.25 735.9,2296.94 736.89,2296.94 736.89,2293.63 737.87,2293.63 738.86,2293.63 738.86,2290.32 739.85,2290.32 740.83,2290.32 740.83,2287.01 741.82,2287.01 742.81,2287.01 742.81,2283.7 743.79,2283.7 744.78,2283.7 744.78,2280.39 745.77,2280.39 746.75,2280.39 746.75,2277.08 747.74,2277.08 748.73,2277.08 749.71,2277.08 749.71,2280.39 750.7,2280.39 751.69,2280.39 752.67,2280.39 753.66,2280.39 753.66,2283.7 754.65,2283.7 755.63,2283.7 756.62,2283.7 757.61,2283.7 758.59,2283.7 759.58,2283.7 760.57,2283.7 760.57,2280.39 761.55,2280.39 762.54,2280.39 763.53,2280.39 763.53,2277.08 764.51,2277.08 765.5,2277.08 766.49,2277.08 767.47,2277.08 767.47,2273.78 768.46,2273.78 769.45,2273.78 769.45,2277.08 770.43,2277.08 771.42,2277.08 772.41,2277.08 773.39,2277.08 773.39,2280.39 774.38,2280.39 775.37,2280.39 776.35,2280.39 776.35,2283.7 777.34,2283.7 777.34,2287.01 778.33,2287.01 779.31,2287.01 779.31,2290.32 780.3,2290.32 780.3,2293.63 781.29,2293.63 782.27,2293.63 782.27,2296.94 783.26,2296.94 783.26,2300.25 784.25,2300.25 785.23,2300.25 785.23,2303.56 786.22,2303.56 787.21,2303.56 788.19,2303.56 789.18,2303.56 790.17,2303.56 791.15,2303.56 792.14,2303.56 793.13,2303.56 794.11,2303.56 795.1,2303.56 795.1,2300.25 796.09,2300.25 797.07,2300.25 798.06,2300.25 799.05,2300.25 800.03,2300.25 801.02,2300.25 802.01,2300.25 802.01,2296.94 802.99,2296.94 803.98,2296.94 804.97,2296.94 805.95,2296.94 806.94,2296.94 807.93,2296.94 808.91,2296.94 809.9,2296.94 810.89,2296.94 811.87,2296.94 812.86,2296.94 813.85,2296.94 813.85,2293.63 814.83,2293.63 815.82,2293.63 816.81,2293.63 817.79,2293.63 817.79,2290.32 818.78,2290.32 819.77,2290.32 820.75,2290.32 820.75,2287.01 821.74,2287.01 822.73,2287.01 823.71,2287.01 823.71,2283.7 824.7,2283.7 825.69,2283.7 825.69,2280.39 826.67,2280.39 827.66,2280.39 827.66,2277.08 828.65,2277.08 829.63,2277.08 829.63,2273.78 830.62,2273.78 831.61,2273.78 831.61,2270.47 832.59,2270.47 833.58,2270.47 833.58,2267.16 834.57,2267.16 835.55,2267.16 835.55,2263.85 836.54,2263.85 837.53,2263.85 838.51,2263.85 839.5,2263.85 840.49,2263.85 841.47,2263.85 842.46,2263.85 843.45,2263.85 844.43,2263.85 844.43,2267.16 845.42,2267.16 845.42,2270.47 846.41,2270.47 847.39,2270.47 847.39,2273.78 848.38,2273.78 849.37,2273.78 849.37,2277.08 850.35,2277.08 850.35,2280.39 851.34,2280.39 852.33,2280.39 852.33,2283.7 853.31,2283.7 854.3,2283.7 854.3,2287.01" fill="none" stroke="#4a863f" stroke-width="3.6" stroke-linejoin="round" stroke-linecap="round"/>
<polyline points="262.3,2349.88 263.29,2349.88 263.29,2343.26 264.27,2343.26 264.27,2333.34 265.26,2333.34 266.25,2333.34 266.25,2330.03 267.23,2330.03 268.22,2330.03 268.22,2326.72 269.21,2326.72 270.19,2326.72 271.18,2326.72 271.18,2323.41 272.17,2323.41 273.15,2323.41 274.14,2323.41 274.14,2320.1 275.13,2320.1 276.11,2320.1 277.1,2320.1 278.09,2320.1 278.09,2316.79 279.07,2316.79 280.06,2316.79 281.05,2316.79 281.05,2313.48 282.03,2313.48 283.02,2313.48 283.02,2310.17 284.01,2310.17 284.99,2310.17 285.98,2310.17 285.98,2306.86 286.97,2306.86 287.95,2306.86 288.94,2306.86 288.94,2303.56 289.93,2303.56 290.91,2303.56 290.91,2300.25 291.9,2300.25 292.89,2300.25 292.89,2296.94 293.87,2296.94 294.86,2296.94 294.86,2293.63 295.85,2293.63 296.83,2293.63 296.83,2290.32 297.82,2290.32 298.81,2290.32 298.81,2287.01 299.79,2287.01 300.78,2287.01 300.78,2283.7 301.77,2283.7 302.75,2283.7 302.75,2280.39 303.74,2280.39 304.73,2280.39 305.71,2280.39 305.71,2277.08 306.7,2277.08 307.69,2277.08 307.69,2273.78 308.67,2273.78 309.66,2273.78 310.65,2273.78 310.65,2270.47 311.63,2270.47 312.62,2270.47 312.62,2267.16 313.61,2267.16 314.59,2267.16 315.58,2267.16 316.57,2267.16 317.55,2267.16 318.54,2267.16 319.53,2267.16 320.51,2267.16 321.5,2267.16 322.49,2267.16 323.47,2267.16 324.46,2267.16 325.45,2267.16 325.45,2263.85 326.43,2263.85 327.42,2263.85 328.41,2263.85 329.39,2263.85 330.38,2263.85 331.37,2263.85 332.35,2263.85 332.35,2267.16 333.34,2267.16 334.33,2267.16 335.31,2267.16 336.3,2267.16 336.3,2270.47 337.29,2270.47 338.27,2270.47 339.26,2270.47 340.25,2270.47 340.25,2273.78 341.23,2273.78 342.22,2273.78 343.21,2273.78 343.21,2277.08 344.19,2277.08 345.18,2277.08 346.17,2277.08 347.15,2277.08 347.15,2280.39 348.14,2280.39 349.13,2280.39 349.13,2283.7 350.11,2283.7 351.1,2283.7 351.1,2287.01 352.09,2287.01 353.07,2287.01 354.06,2287.01 354.06,2290.32 355.05,2290.32 356.03,2290.32 356.03,2293.63 357.02,2293.63 358.01,2293.63 358.01,2296.94 358.99,2296.94 359.98,2296.94 360.97,2296.94 360.97,2300.25 361.95,2300.25 362.94,2300.25 362.94,2303.56 363.93,2303.56 364.91,2303.56 364.91,2306.86 365.9,2306.86 366.89,2306.86 366.89,2310.17 367.87,2310.17 368.86,2310.17 368.86,2313.48 369.85,2313.48 370.83,2313.48 371.82,2313.48 372.81,2313.48 372.81,2316.79 373.79,2316.79 374.78,2316.79 375.77,2316.79 376.75,2316.79 377.74,2316.79 378.73,2316.79 379.71,2316.79 380.7,2316.79 381.69,2316.79 382.67,2316.79 383.66,2316.79 384.65,2316.79 385.63,2316.79 386.62,2316.79 387.61,2316.79 388.59,2316.79 389.58,2316.79 390.57,2316.79 391.55,2316.79 392.54,2316.79 393.53,2316.79 394.51,2316.79 395.5,2316.79 396.49,2316.79 396.49,2313.48 397.47,2313.48 398.46,2313.48 399.45,2313.48 400.43,2313.48 400.43,2310.17 401.42,2310.17 402.41,2310.17 403.39,2310.17 403.39,2306.86 404.38,2306.86 405.37,2306.86 406.35,2306.86 407.34,2306.86 407.34,2303.56 408.33,2303.56 409.31,2303.56 410.3,2303.56 411.29,2303.56 411.29,2300.25 412.27,2300.25 413.26,2300.25 414.25,2300.25 415.23,2300.25 415.23,2296.94 416.22,2296.94 417.21,2296.94 418.19,2296.94 418.19,2293.63 419.18,2293.63 420.17,2293.63 421.15,2293.63 422.14,2293.63 423.13,2293.63 423.13,2290.32 424.11,2290.32 425.1,2290.32 426.09,2290.32 427.07,2290.32 428.06,2290.32 428.06,2287.01 429.05,2287.01 430.03,2287.01 431.02,2287.01 432.01,2287.01 432.99,2287.01 432.99,2283.7 433.98,2283.7 434.97,2283.7 435.95,2283.7 436.94,2283.7 437.93,2283.7 437.93,2280.39 438.91,2280.39 439.9,2280.39 440.89,2280.39 441.87,2280.39 441.87,2277.08 442.86,2277.08 443.85,2277.08 444.83,2277.08 445.82,2277.08 445.82,2273.78 446.81,2273.78 447.79,2273.78 448.78,2273.78 449.77,2273.78 450.75,2273.78 450.75,2270.47 451.74,2270.47 452.73,2270.47 453.71,2270.47 454.7,2270.47 455.69,2270.47 456.67,2270.47 457.66,2270.47 458.65,2270.47 459.63,2270.47 460.62,2270.47 461.61,2270.47 461.61,2267.16 462.59,2267.16 463.58,2267.16 464.57,2267.16 465.55,2267.16 466.54,2267.16 467.53,2267.16 468.51,2267.16 469.5,2267.16 470.49,2267.16 471.47,2267.16 471.47,2263.85 472.46,2263.85 473.45,2263.85 474.43,2263.85 475.42,2263.85 476.41,2263.85 477.39,2263.85 477.39,2267.16 478.38,2267.16 479.37,2267.16 480.35,2267.16 480.35,2270.47 481.34,2270.47 482.33,2270.47 482.33,2273.78 483.31,2273.78 484.3,2273.78 484.3,2277.08 485.29,2277.08 486.27,2277.08 486.27,2280.39 487.26,2280.39 488.25,2280.39 488.25,2283.7 489.23,2283.7 490.22,2283.7 490.22,2287.01 491.21,2287.01 492.19,2287.01 493.18,2287.01 493.18,2290.32 494.17,2290.32 495.15,2290.32 495.15,2293.63 496.14,2293.63 497.13,2293.63 497.13,2296.94 498.11,2296.94 499.1,2296.94 499.1,2300.25 500.09,2300.25 501.07,2300.25 502.06,2300.25 502.06,2303.56 503.05,2303.56 504.03,2303.56 504.03,2306.86 505.02,2306.86 506.01,2306.86 506.01,2310.17 506.99,2310.17 507.98,2310.17 507.98,2313.48 508.97,2313.48 509.95,2313.48 510.94,2313.48 510.94,2316.79 511.93,2316.79 512.91,2316.79 512.91,2320.1 513.9,2320.1 514.89,2320.1 514.89,2323.41 515.87,2323.41 516.86,2323.41 516.86,2326.72 517.85,2326.72 518.83,2326.72 518.83,2330.03 519.82,2330.03 520.81,2330.03 520.81,2333.34 521.79,2333.34 522.78,2333.34 522.78,2336.65 523.77,2336.65 524.75,2336.65 525.74,2336.65 526.73,2336.65 526.73,2339.95 527.71,2339.95 528.7,2339.95 529.69,2339.95 530.67,2339.95 531.66,2339.95 532.65,2339.95 533.63,2339.95 534.62,2339.95 535.61,2339.95 535.61,2336.65 536.59,2336.65 537.58,2336.65 538.57,2336.65 538.57,2333.34 539.55,2333.34 540.54,2333.34 541.53,2333.34 541.53,2330.03 542.51,2330.03 543.5,2330.03 544.49,2330.03 544.49,2326.72 545.47,2326.72 546.46,2326.72 546.46,2323.41 547.45,2323.41 548.43,2323.41 548.43,2320.1 549.42,2320.1 550.41,2320.1 550.41,2316.79 551.39,2316.79 552.38,2316.79 552.38,2313.48 553.37,2313.48 554.35,2313.48 555.34,2313.48 556.33,2313.48 557.31,2313.48 558.3,2313.48 559.29,2313.48 559.29,2310.17 560.27,2310.17 561.26,2310.17 562.25,2310.17 563.23,2310.17 564.22,2310.17 565.21,2310.17 566.19,2310.17 567.18,2310.17 568.17,2310.17 569.15,2310.17 569.15,2306.86 570.14,2306.86 571.13,2306.86 572.11,2306.86 573.1,2306.86 573.1,2303.56 574.09,2303.56 575.07,2303.56 576.06,2303.56 577.05,2303.56 578.03,2303.56 578.03,2300.25 579.02,2300.25 580.01,2300.25 580.99,2300.25 581.98,2300.25 581.98,2296.94 582.97,2296.94 583.95,2296.94 584.94,2296.94 585.93,2296.94 586.91,2296.94 587.9,2296.94 588.89,2296.94 589.87,2296.94 590.86,2296.94 590.86,2300.25 591.85,2300.25 592.83,2300.25 593.82,2300.25 594.81,2300.25 594.81,2303.56 595.79,2303.56 596.78,2303.56 597.77,2303.56 598.75,2303.56 598.75,2306.86 599.74,2306.86 600.73,2306.86 601.71,2306.86 602.7,2306.86 603.69,2306.86 603.69,2310.17 604.67,2310.17 605.66,2310.17 606.65,2310.17 607.63,2310.17 608.62,2310.17 609.61,2310.17 610.59,2310.17 611.58,2310.17 612.57,2310.17 613.55,2310.17 614.54,2310.17 615.53,2310.17 616.51,2310.17 617.5,2310.17 618.49,2310.17 619.47,2310.17 620.46,2310.17 621.45,2310.17 622.43,2310.17 623.42,2310.17 623.42,2313.48 624.41,2313.48 625.39,2313.48 626.38,2313.48 627.37,2313.48 628.35,2313.48 628.35,2316.79 629.34,2316.79 630.33,2316.79 631.31,2316.79 632.3,2316.79 633.29,2316.79 633.29,2320.1 634.27,2320.1 635.26,2320.1 636.25,2320.1 637.23,2320.1 638.22,2320.1 639.21,2320.1 640.19,2320.1 641.18,2320.1 641.18,2323.41 642.17,2323.41 643.15,2323.41 644.14,2323.41 645.13,2323.41 646.11,2323.41 647.1,2323.41 648.09,2323.41 649.07,2323.41 650.06,2323.41 651.05,2323.41 652.03,2323.41 653.02,2323.41 653.02,2320.1 654.01,2320.1 654.99,2320.1 655.98,2320.1 656.97,2320.1 657.95,2320.1 658.94,2320.1 659.93,2320.1 660.91,2320.1 661.9,2320.1 662.89,2320.1 663.87,2320.1 663.87,2316.79 664.86,2316.79 665.85,2316.79 666.83,2316.79 667.82,2316.79 668.81,2316.79 669.79,2316.79 670.78,2316.79 670.78,2313.48 671.77,2313.48 672.75,2313.48 673.74,2313.48 674.73,2313.48 675.71,2313.48 675.71,2310.17 676.7,2310.17 677.69,2310.17 678.67,2310.17 679.66,2310.17 680.65,2310.17 680.65,2306.86 681.63,2306.86 682.62,2306.86 683.61,2306.86 684.59,2306.86 685.58,2306.86 685.58,2303.56 686.57,2303.56 687.55,2303.56 688.54,2303.56 689.53,2303.56 690.51,2303.56 691.5,2303.56 692.49,2303.56 693.47,2303.56 694.46,2303.56 694.46,2306.86 695.45,2306.86 696.43,2306.86 697.42,2306.86 698.41,2306.86 699.39,2306.86 700.38,2306.86 700.38,2310.17 701.37,2310.17 702.35,2310.17 703.34,2310.17 704.33,2310.17 705.31,2310.17 705.31,2313.48 706.3,2313.48 707.29,2313.48 708.27,2313.48 709.26,2313.48 710.25,2313.48 711.23,2313.48 711.23,2316.79 712.22,2316.79 713.21,2316.79 714.19,2316.79 715.18,2316.79 715.18,2320.1 716.17,2320.1 717.15,2320.1 718.14,2320.1 718.14,2323.41 719.13,2323.41 720.11,2323.41 721.1,2323.41 721.1,2326.72 722.09,2326.72 723.07,2326.72 724.06,2326.72 724.06,2330.03 725.05,2330.03 726.03,2330.03 727.02,2330.03 728.01,2330.03 728.99,2330.03 729.98,2330.03 730.97,2330.03 731.95,2330.03 732.94,2330.03 733.93,2330.03 734.91,2330.03 735.9,2330.03 736.89,2330.03 737.87,2330.03 737.87,2326.72 738.86,2326.72 739.85,2326.72 740.83,2326.72 741.82,2326.72 742.81,2326.72 743.79,2326.72 744.78,2326.72 744.78,2323.41 745.77,2323.41 746.75,2323.41 747.74,2323.41 748.73,2323.41 749.71,2323.41 750.7,2323.41 751.69,2323.41 752.67,2323.41 753.66,2323.41 754.65,2323.41 755.63,2323.41 756.62,2323.41 757.61,2323.41 758.59,2323.41 759.58,2323.41 759.58,2320.1 760.57,2320.1 761.55,2320.1 761.55,2316.79 762.54,2316.79 762.54,2313.48 763.53,2313.48 763.53,2310.17 764.51,2310.17 765.5,2310.17 765.5,2306.86 766.49,2306.86 766.49,2303.56 767.47,2303.56 767.47,2300.25 768.46,2300.25 769.45,2300.25 769.45,2296.94 770.43,2296.94 770.43,2293.63 771.42,2293.63 771.42,2290.32 772.41,2290.32 773.39,2290.32 774.38,2290.32 775.37,2290.32 776.35,2290.32 777.34,2290.32 778.33,2290.32 779.31,2290.32 780.3,2290.32 781.29,2290.32 782.27,2290.32 783.26,2290.32 784.25,2290.32 785.23,2290.32 786.22,2290.32 786.22,2287.01 787.21,2287.01 788.19,2287.01 789.18,2287.01 789.18,2283.7 790.17,2283.7 791.15,2283.7 791.15,2280.39 792.14,2280.39 793.13,2280.39 793.13,2277.08 794.11,2277.08 795.1,2277.08 795.1,2273.78 796.09,2273.78 796.09,2270.47 797.07,2270.47 798.06,2270.47 798.06,2267.16 799.05,2267.16 799.05,2263.85 800.03,2263.85 800.03,2260.54 801.02,2260.54 802.01,2260.54 802.01,2257.23 802.99,2257.23 803.98,2257.23 804.97,2257.23 805.95,2257.23 806.94,2257.23 806.94,2260.54 807.93,2260.54 808.91,2260.54 809.9,2260.54 810.89,2260.54 811.87,2260.54 812.86,2260.54 813.85,2260.54 814.83,2260.54 815.82,2260.54 816.81,2260.54 817.79,2260.54 818.78,2260.54 819.77,2260.54 820.75,2260.54 821.74,2260.54 822.73,2260.54 823.71,2260.54 824.7,2260.54 825.69,2260.54 826.67,2260.54 826.67,2257.23 827.66,2257.23 828.65,2257.23 829.63,2257.23 830.62,2257.23 831.61,2257.23 832.59,2257.23 833.58,2257.23 834.57,2257.23 835.55,2257.23 836.54,2257.23 836.54,2253.92 837.53,2253.92 838.51,2253.92 839.5,2253.92 840.49,2253.92 840.49,2257.23 841.47,2257.23 842.46,2257.23 842.46,2260.54 843.45,2260.54 844.43,2260.54 844.43,2263.85 845.42,2263.85 846.41,2263.85 846.41,2267.16 847.39,2267.16 847.39,2270.47 848.38,2270.47 849.37,2270.47 849.37,2273.78 850.35,2273.78 851.34,2273.78 851.34,2277.08 852.33,2277.08 852.33,2280.39 853.31,2280.39 854.3,2280.39 854.3,2283.7" fill="none" stroke="#2750a0" stroke-width="3.6" stroke-linejoin="round" stroke-linecap="round"/>
</g>
<rect x="675.1" y="2039.1" width="151.4" height="30.9" fill="#fff" stroke="#666" stroke-width="1.2"/>
<line x1="683" y1="2047.6" x2="712.1" y2="2047.6" stroke="#4a863f" stroke-width="3.2" stroke-linecap="round"/>
<line x1="683" y1="2062.4" x2="712.1" y2="2062.4" stroke="#2750a0" stroke-width="3.2" stroke-linecap="round"/>
<text x="819.1" y="2051.8" font-size="10.5" fill="#333" text-anchor="end" textLength="91.8" lengthAdjust="spacingAndGlyphs">0 dBm level output</text>
<text x="819.1" y="2066.3" font-size="10.5" fill="#333" text-anchor="end" textLength="101.7" lengthAdjust="spacingAndGlyphs">-10 dBm level output</text>
<rect x="1024.5" y="1984.6" width="712.5" height="444.7" rx="37" ry="37" fill="none" stroke="#585858" stroke-width="1.35"/>
<text x="1076.3" y="1958.1" font-size="28.5" font-weight="bold" fill="#000" textLength="610.2" lengthAdjust="spacingAndGlyphs">Measured level repeatability  <tspan font-size="23" dy="-1">@</tspan><tspan dy="1"> 1 GHz,0 dBm</tspan></text>
<line x1="1234.93" y1="2014.9" x2="1234.93" y2="2191" stroke="#000" stroke-width="2.0"/>
<line x1="1321.47" y1="2014.9" x2="1321.47" y2="2191" stroke="#000" stroke-width="2.0"/>
<line x1="1408" y1="2014.9" x2="1408" y2="2191" stroke="#000" stroke-width="2.0"/>
<line x1="1494.53" y1="2014.9" x2="1494.53" y2="2191" stroke="#000" stroke-width="2.0"/>
<line x1="1581.07" y1="2014.9" x2="1581.07" y2="2191" stroke="#000" stroke-width="2.0"/>
<line x1="1148.4" y1="2044.25" x2="1667.6" y2="2044.25" stroke="#555" stroke-width="1.5"/>
<line x1="1148.4" y1="2073.6" x2="1667.6" y2="2073.6" stroke="#555" stroke-width="1.5"/>
<line x1="1148.4" y1="2102.95" x2="1667.6" y2="2102.95" stroke="#555" stroke-width="1.5"/>
<line x1="1148.4" y1="2132.3" x2="1667.6" y2="2132.3" stroke="#555" stroke-width="1.5"/>
<line x1="1148.4" y1="2161.65" x2="1667.6" y2="2161.65" stroke="#555" stroke-width="1.5"/>
<path d="M1148.4 2191v-7M1148.4 2014.9v7M1191.67 2191v-3.8M1191.67 2014.9v3.8M1234.93 2191v-7M1234.93 2014.9v7M1278.2 2191v-3.8M1278.2 2014.9v3.8M1321.47 2191v-7M1321.47 2014.9v7M1364.73 2191v-3.8M1364.73 2014.9v3.8M1408 2191v-7M1408 2014.9v7M1451.27 2191v-3.8M1451.27 2014.9v3.8M1494.53 2191v-7M1494.53 2014.9v7M1537.8 2191v-3.8M1537.8 2014.9v3.8M1581.07 2191v-7M1581.07 2014.9v7M1624.33 2191v-3.8M1624.33 2014.9v3.8M1667.6 2191v-7M1667.6 2014.9v7M1148.4 2014.9h8M1667.6 2014.9h-8M1148.4 2029.58h4.2M1667.6 2029.58h-4.2M1148.4 2044.25h8M1667.6 2044.25h-8M1148.4 2058.93h4.2M1667.6 2058.93h-4.2M1148.4 2073.6h8M1667.6 2073.6h-8M1148.4 2088.28h4.2M1667.6 2088.28h-4.2M1148.4 2102.95h8M1667.6 2102.95h-8M1148.4 2117.62h4.2M1667.6 2117.62h-4.2M1148.4 2132.3h8M1667.6 2132.3h-8M1148.4 2146.97h4.2M1667.6 2146.97h-4.2M1148.4 2161.65h8M1667.6 2161.65h-8M1148.4 2176.32h4.2M1667.6 2176.32h-4.2M1148.4 2191h8M1667.6 2191h-8" stroke="#000" stroke-width="2" fill="none"/>
<rect x="1148.4" y="2014.9" width="519.2" height="176.1" fill="none" stroke="#000" stroke-width="2.3"/>
<line x1="1234.93" y1="2204.4" x2="1234.93" y2="2380.4" stroke="#000" stroke-width="2.0"/>
<line x1="1321.47" y1="2204.4" x2="1321.47" y2="2380.4" stroke="#000" stroke-width="2.0"/>
<line x1="1408" y1="2204.4" x2="1408" y2="2380.4" stroke="#000" stroke-width="2.0"/>
<line x1="1494.53" y1="2204.4" x2="1494.53" y2="2380.4" stroke="#000" stroke-width="2.0"/>
<line x1="1581.07" y1="2204.4" x2="1581.07" y2="2380.4" stroke="#000" stroke-width="2.0"/>
<line x1="1148.4" y1="2222" x2="1667.6" y2="2222" stroke="#000" stroke-width="2.0"/>
<line x1="1148.4" y1="2239.6" x2="1667.6" y2="2239.6" stroke="#000" stroke-width="2.0"/>
<line x1="1148.4" y1="2257.2" x2="1667.6" y2="2257.2" stroke="#000" stroke-width="2.0"/>
<line x1="1148.4" y1="2274.8" x2="1667.6" y2="2274.8" stroke="#000" stroke-width="2.0"/>
<line x1="1148.4" y1="2292.4" x2="1667.6" y2="2292.4" stroke="#000" stroke-width="2.0"/>
<line x1="1148.4" y1="2310" x2="1667.6" y2="2310" stroke="#000" stroke-width="2.0"/>
<line x1="1148.4" y1="2327.6" x2="1667.6" y2="2327.6" stroke="#000" stroke-width="2.0"/>
<line x1="1148.4" y1="2345.2" x2="1667.6" y2="2345.2" stroke="#000" stroke-width="2.0"/>
<line x1="1148.4" y1="2362.8" x2="1667.6" y2="2362.8" stroke="#000" stroke-width="2.0"/>
<path d="M1148.4 2380.4v-7M1148.4 2204.4v7M1191.67 2380.4v-3.8M1191.67 2204.4v3.8M1234.93 2380.4v-7M1234.93 2204.4v7M1278.2 2380.4v-3.8M1278.2 2204.4v3.8M1321.47 2380.4v-7M1321.47 2204.4v7M1364.73 2380.4v-3.8M1364.73 2204.4v3.8M1408 2380.4v-7M1408 2204.4v7M1451.27 2380.4v-3.8M1451.27 2204.4v3.8M1494.53 2380.4v-7M1494.53 2204.4v7M1537.8 2380.4v-3.8M1537.8 2204.4v3.8M1581.07 2380.4v-7M1581.07 2204.4v7M1624.33 2380.4v-3.8M1624.33 2204.4v3.8M1667.6 2380.4v-7M1667.6 2204.4v7M1148.4 2204.4h8M1667.6 2204.4h-8M1148.4 2213.2h4.2M1667.6 2213.2h-4.2M1148.4 2222h8M1667.6 2222h-8M1148.4 2230.8h4.2M1667.6 2230.8h-4.2M1148.4 2239.6h8M1667.6 2239.6h-8M1148.4 2248.4h4.2M1667.6 2248.4h-4.2M1148.4 2257.2h8M1667.6 2257.2h-8M1148.4 2266h4.2M1667.6 2266h-4.2M1148.4 2274.8h8M1667.6 2274.8h-8M1148.4 2283.6h4.2M1667.6 2283.6h-4.2M1148.4 2292.4h8M1667.6 2292.4h-8M1148.4 2301.2h4.2M1667.6 2301.2h-4.2M1148.4 2310h8M1667.6 2310h-8M1148.4 2318.8h4.2M1667.6 2318.8h-4.2M1148.4 2327.6h8M1667.6 2327.6h-8M1148.4 2336.4h4.2M1667.6 2336.4h-4.2M1148.4 2345.2h8M1667.6 2345.2h-8M1148.4 2354h4.2M1667.6 2354h-4.2M1148.4 2362.8h8M1667.6 2362.8h-8M1148.4 2371.6h4.2M1667.6 2371.6h-4.2M1148.4 2380.4h8M1667.6 2380.4h-8" stroke="#000" stroke-width="2" fill="none"/>
<rect x="1148.4" y="2204.4" width="519.2" height="176" fill="none" stroke="#000" stroke-width="2.3"/>
<text x="1140.8" y="2017.8" font-size="10.5" font-weight="bold" fill="#000" text-anchor="end" textLength="13.3" lengthAdjust="spacingAndGlyphs">26</text>
<text x="1140.8" y="2047.15" font-size="10.5" font-weight="bold" fill="#000" text-anchor="end" textLength="13.3" lengthAdjust="spacingAndGlyphs">25</text>
<text x="1140.8" y="2076.5" font-size="10.5" font-weight="bold" fill="#000" text-anchor="end" textLength="13.3" lengthAdjust="spacingAndGlyphs">24</text>
<text x="1140.8" y="2105.85" font-size="10.5" font-weight="bold" fill="#000" text-anchor="end" textLength="13.3" lengthAdjust="spacingAndGlyphs">23</text>
<text x="1140.8" y="2135.2" font-size="10.5" font-weight="bold" fill="#000" text-anchor="end" textLength="13.3" lengthAdjust="spacingAndGlyphs">22</text>
<text x="1140.8" y="2164.55" font-size="10.5" font-weight="bold" fill="#000" text-anchor="end" textLength="13.3" lengthAdjust="spacingAndGlyphs">21</text>
<text x="1140.8" y="2193.9" font-size="10.5" font-weight="bold" fill="#000" text-anchor="end" textLength="13.3" lengthAdjust="spacingAndGlyphs">20</text>
<text x="1141.2" y="2207.7" font-size="10.5" font-weight="bold" fill="#000" text-anchor="end" textLength="24" lengthAdjust="spacingAndGlyphs">0.10</text>
<text x="1141.2" y="2225.3" font-size="10.5" font-weight="bold" fill="#000" text-anchor="end" textLength="24" lengthAdjust="spacingAndGlyphs">0.08</text>
<text x="1141.2" y="2242.9" font-size="10.5" font-weight="bold" fill="#000" text-anchor="end" textLength="24" lengthAdjust="spacingAndGlyphs">0.06</text>
<text x="1141.2" y="2260.5" font-size="10.5" font-weight="bold" fill="#000" text-anchor="end" textLength="24" lengthAdjust="spacingAndGlyphs">0.04</text>
<text x="1141.2" y="2278.1" font-size="10.5" font-weight="bold" fill="#000" text-anchor="end" textLength="24" lengthAdjust="spacingAndGlyphs">0.02</text>
<text x="1141.2" y="2295.7" font-size="10.5" font-weight="bold" fill="#000" text-anchor="end" textLength="24" lengthAdjust="spacingAndGlyphs">0.00</text>
<text x="1141.2" y="2313.3" font-size="10.5" font-weight="bold" fill="#000" text-anchor="end" textLength="28.9" lengthAdjust="spacingAndGlyphs">-0.02</text>
<text x="1141.2" y="2330.9" font-size="10.5" font-weight="bold" fill="#000" text-anchor="end" textLength="28.9" lengthAdjust="spacingAndGlyphs">-0.04</text>
<text x="1141.2" y="2348.5" font-size="10.5" font-weight="bold" fill="#000" text-anchor="end" textLength="28.9" lengthAdjust="spacingAndGlyphs">-0.06</text>
<text x="1141.2" y="2366.1" font-size="10.5" font-weight="bold" fill="#000" text-anchor="end" textLength="28.9" lengthAdjust="spacingAndGlyphs">-0.08</text>
<text x="1141.2" y="2383.7" font-size="10.5" font-weight="bold" fill="#000" text-anchor="end" textLength="28.9" lengthAdjust="spacingAndGlyphs">-0.10</text>
<text x="1148.4" y="2394.9" font-size="11" font-weight="bold" fill="#000" text-anchor="middle" textLength="7.5" lengthAdjust="spacingAndGlyphs">0</text>
<text x="1234.93" y="2394.9" font-size="11" font-weight="bold" fill="#000" text-anchor="middle" textLength="13.5" lengthAdjust="spacingAndGlyphs">12</text>
<text x="1321.47" y="2394.9" font-size="11" font-weight="bold" fill="#000" text-anchor="middle" textLength="13.5" lengthAdjust="spacingAndGlyphs">24</text>
<text x="1408" y="2394.9" font-size="11" font-weight="bold" fill="#000" text-anchor="middle" textLength="13.5" lengthAdjust="spacingAndGlyphs">36</text>
<text x="1494.53" y="2394.9" font-size="11" font-weight="bold" fill="#000" text-anchor="middle" textLength="13.5" lengthAdjust="spacingAndGlyphs">48</text>
<text x="1581.07" y="2394.9" font-size="11" font-weight="bold" fill="#000" text-anchor="middle" textLength="13.5" lengthAdjust="spacingAndGlyphs">60</text>
<text x="1667.6" y="2394.9" font-size="11" font-weight="bold" fill="#000" text-anchor="middle" textLength="13.5" lengthAdjust="spacingAndGlyphs">72</text>
<text x="1105.6" y="2112" font-size="15.5" font-weight="bold" text-anchor="middle" transform="rotate(-90 1105.6 2112)" textLength="83" lengthAdjust="spacingAndGlyphs">Temp. (<tspan font-weight="normal" font-size="15">°C</tspan>)</text>
<text x="1106.8" y="2291.2" font-size="15.5" font-weight="bold" text-anchor="middle" transform="rotate(-90 1106.8 2291.2)" textLength="120" lengthAdjust="spacingAndGlyphs">Level error (dB)</text>
<text x="1401.5" y="2411" font-size="14.5" font-weight="bold" fill="#000" text-anchor="middle" textLength="63.7" lengthAdjust="spacingAndGlyphs">Time (h)</text>
<clipPath id="clt"><rect x="1148.4" y="2014.9" width="519.2" height="176.1"/></clipPath>
<g clip-path="url(#clt)">
<polyline points="1148.4,2073.31 1150.71,2066.88 1153.02,2059.22 1155.14,2057.39 1157.26,2053.94 1159.38,2051.75 1161.5,2049.2 1163.62,2045.42 1165.67,2048.44 1167.73,2051 1169.69,2049.37 1171.65,2049 1173.61,2048.44 1175.57,2049.07 1177.53,2047.77 1179.98,2051.35 1182.44,2055.11 1184.35,2056.76 1186.26,2058.13 1188.17,2059.41 1190.08,2060.28 1191.99,2059.73 1193.9,2061.86 1195.86,2064.02 1197.82,2067.01 1199.79,2069.96 1201.75,2074.32 1203.71,2076.54 1205.75,2079.7 1207.78,2081.67 1209.82,2084.14 1211.86,2087.39 1213.91,2089.79 1215.97,2092.96 1218.02,2098.05 1220.08,2100.31 1222.24,2101.43 1224.41,2102.64 1226.57,2104.42 1228.76,2105.77 1230.94,2107.91 1233.13,2108.53 1235.58,2112.7 1238.03,2116.74 1239.85,2118.98 1241.67,2118.27 1243.49,2119.7 1245.31,2121.72 1247.13,2123.57 1248.95,2123.42 1250.77,2125.48 1252.58,2126.02 1254.4,2128.19 1256.27,2128.34 1258.13,2130.1 1260,2131.29 1261.86,2131.82 1263.73,2133.17 1265.59,2134.77 1267.46,2134.94 1269.37,2136.48 1271.28,2136.36 1273.19,2139.24 1275.1,2140.31 1277.01,2140.03 1278.92,2141.4 1280.82,2143.04 1282.72,2143.57 1284.62,2144.84 1286.52,2146.27 1288.42,2145.86 1290.31,2148.15 1292.45,2149.51 1294.58,2149.65 1296.72,2150.78 1298.85,2150.42 1300.99,2151.38 1302.91,2145.35 1304.83,2138.61 1306.76,2131.71 1308.79,2124.53 1310.83,2118.93 1312.87,2111.76 1314.9,2105.3 1316.96,2101.49 1319.01,2100.51 1321.07,2097.74 1323.13,2093.85 1325.02,2091.75 1326.92,2087.75 1328.82,2085.36 1330.72,2083.51 1332.62,2080.55 1334.52,2077.42 1336.48,2076.18 1338.44,2073.52 1340.4,2072.5 1342.36,2068.97 1344.33,2067.44 1346.29,2066.04 1348.25,2065.43 1350.21,2065.48 1352.17,2064.48 1354.13,2065.09 1356.04,2066.61 1357.95,2066.37 1359.87,2065.17 1361.78,2066.01 1363.69,2067.26 1365.6,2067.44 1368.05,2068.16 1370.5,2070.96 1372.34,2073.94 1374.18,2076.74 1376.02,2081.24 1377.86,2084.74 1379.7,2087.42 1381.54,2091.4 1383.37,2094.09 1385.21,2097.08 1388.53,2102.07 1390.33,2102.4 1392.14,2105.29 1393.94,2107.46 1395.74,2108.79 1397.54,2109.92 1399.35,2109.89 1401.15,2112.29 1402.95,2113.87 1404.76,2115.74 1406.56,2115.08 1408.36,2117.62 1410.35,2119.27 1412.34,2121.25 1414.33,2123.06 1416.32,2124.54 1418.31,2124.96 1420.19,2126.8 1422.06,2126.68 1423.94,2128.98 1425.81,2130.3 1427.69,2130.3 1429.56,2131.94 1431.44,2131.24 1433.31,2133.47 1435.17,2135.18 1437.03,2135.04 1438.89,2135.28 1440.75,2136.95 1442.61,2136.41 1444.46,2138.42 1446.32,2139.79 1448.18,2140.21 1450.04,2140.81 1452.03,2142.9 1454.02,2142.99 1456.01,2144.4 1458,2143.89 1459.99,2145.8 1462.08,2145.68 1464.17,2147.13 1466.27,2148.88 1468.36,2148.44 1470.3,2147.85 1472.25,2146.7 1474.2,2144.92 1476.29,2138.12 1478.38,2129.95 1480.59,2126.18 1482.8,2120.28 1485.01,2116.74 1487.25,2108.68 1489.49,2099.99 1491.72,2090.04 1493.6,2085.07 1495.47,2081.96 1497.35,2077 1499.22,2074.19 1501.05,2073.59 1502.88,2071.6 1504.72,2071.36 1506.55,2070.22 1508.38,2070.08 1510.21,2068.33 1512.04,2067.74 1513.87,2067.51 1515.71,2066.06 1517.54,2064.21 1519.63,2065.83 1521.72,2069.2 1524.21,2065.76 1526.69,2064.21 1528.79,2063.65 1530.88,2065.47 1532.97,2065.16 1535.06,2065.97 1537.27,2068.3 1539.48,2071.7 1541.69,2075.07 1543.64,2080.39 1545.59,2087.13 1547.53,2093.26 1550.06,2093.34 1552.58,2094.14 1554.39,2096.06 1556.19,2099.39 1557.99,2100.2 1559.79,2102.47 1561.6,2106.88 1563.4,2108.23 1565.35,2109.54 1567.29,2111.98 1569.24,2115.08 1571.19,2118.96 1573.13,2119.36 1575.08,2123.59 1577.03,2124.03 1578.98,2127.15 1580.92,2129.95 1582.75,2133.16 1584.59,2135.08 1586.42,2136.15 1588.25,2138.48 1590.08,2140.81 1592.17,2141.7 1594.26,2142.74 1596.35,2145.87 1598.45,2146.68 1600.52,2147.63 1602.59,2145.25 1604.67,2147.16 1606.74,2145.8 1608.59,2145.37 1610.44,2147.62 1612.29,2146.44 1614.14,2146.96 1615.99,2147.2 1617.84,2148.42 1619.69,2148.11 1621.55,2150.15 1623.4,2149.91 1625.4,2150.51 1627.41,2152.3 1629.41,2151.98 1631.41,2153.26 1633.42,2154.9 1635.33,2155.34 1637.23,2155.59 1639.14,2157.14 1641.04,2157.5 1642.95,2156.56 1644.85,2157.19 1646.76,2157.54 1649.25,2152.87 1651.74,2149.91 1653.83,2143.42 1655.92,2138.28 1658.01,2131.52 1660.1,2124.96 1661.98,2120.59 1663.85,2117.42 1665.73,2114.89 1667.6,2109.99" fill="none" stroke="#2750a0" stroke-width="3.5" stroke-linejoin="round" stroke-linecap="round"/>
</g>
<clipPath id="cle"><rect x="1148.4" y="2204.4" width="519.2" height="176"/></clipPath>
<g clip-path="url(#cle)">
<polyline points="1148.4,2295.49 1148.62,2289.17 1148.83,2286.75 1149.05,2292.74 1149.27,2296 1149.48,2291.02 1149.7,2288.89 1149.91,2286.46 1150.13,2295.65 1150.35,2295.98 1150.56,2288.08 1150.78,2289.03 1151,2284.85 1151.21,2287.06 1151.43,2291.38 1151.64,2292.09 1151.86,2280.84 1152.08,2292.19 1152.29,2294.18 1152.51,2295.6 1152.73,2290.74 1152.94,2290.57 1153.16,2292.53 1153.38,2291.44 1153.59,2290.13 1153.81,2288.5 1154.02,2286.92 1154.24,2290.46 1154.46,2298.4 1154.67,2288.56 1154.89,2296.98 1155.11,2292.06 1155.32,2297.24 1155.54,2291.42 1155.76,2294.54 1155.97,2290.63 1156.19,2278.43 1156.4,2291.72 1156.62,2288.22 1156.84,2296.82 1157.05,2292.74 1157.27,2289 1157.49,2292.01 1157.7,2290.21 1157.92,2291.29 1158.13,2295.7 1158.35,2289.51 1158.57,2294.98 1158.78,2284.38 1159,2293.82 1159.22,2289.12 1159.43,2291.85 1159.65,2288.12 1159.87,2294.3 1160.08,2287.98 1160.3,2292.45 1160.51,2286.98 1160.73,2289.54 1160.95,2291.47 1161.16,2295.15 1161.38,2289.04 1161.6,2290.25 1161.81,2285.63 1162.03,2293.65 1162.25,2289.98 1162.46,2290.19 1162.68,2291.1 1162.89,2291.42 1163.11,2291.55 1163.33,2294.67 1163.54,2296.34 1163.76,2293.91 1163.98,2290.03 1164.19,2286.41 1164.41,2288.52 1164.62,2288.2 1164.84,2289.28 1165.06,2289.58 1165.27,2291.6 1165.49,2289.26 1165.71,2285.27 1165.92,2293.58 1166.14,2295.01 1166.36,2284.49 1166.57,2291.27 1166.79,2288.37 1167,2288.74 1167.22,2296.69 1167.44,2282.54 1167.65,2285.12 1167.87,2291.44 1168.09,2289.15 1168.3,2291.61 1168.52,2295.6 1168.74,2292.52 1168.95,2290.58 1169.17,2287.63 1169.38,2289.22 1169.6,2291.78 1169.82,2286.64 1170.03,2295 1170.25,2288.83 1170.47,2287.55 1170.68,2293.1 1170.9,2299.01 1171.12,2295.5 1171.33,2290.95 1171.55,2289.79 1171.76,2285.73 1171.98,2295.82 1172.2,2291.82 1172.41,2289.25 1172.63,2292.42 1172.85,2301.17 1173.06,2288.57 1173.28,2282.6 1173.49,2287.76 1173.71,2295.35 1173.93,2293.34 1174.14,2290.81 1174.36,2281.82 1174.58,2289.21 1174.79,2291.19 1175.01,2285.46 1175.23,2291.94 1175.44,2284.23 1175.66,2294.29 1175.87,2293.45 1176.09,2288.7 1176.31,2285.9 1176.52,2288.93 1176.74,2290.31 1176.96,2298.7 1177.17,2294.3 1177.39,2293.88 1177.61,2293.56 1177.82,2289.1 1178.04,2292.74 1178.25,2288.28 1178.47,2291.05 1178.69,2292.68 1178.9,2290.88 1179.12,2289.64 1179.34,2287.92 1179.55,2293.19 1179.77,2292.21 1179.98,2296.67 1180.2,2284.9 1180.42,2285.49 1180.63,2291.93 1180.85,2293.1 1181.07,2296.09 1181.28,2290.51 1181.5,2290.35 1181.72,2282.51 1181.93,2290.16 1182.15,2294.2 1182.36,2300.78 1182.58,2285.5 1182.8,2290.32 1183.01,2297.43 1183.23,2290.32 1183.45,2297.39 1183.66,2277.23 1183.88,2286.56 1184.1,2288.71 1184.31,2291.65 1184.53,2299.42 1184.74,2291.43 1184.96,2297.07 1185.18,2288.54 1185.39,2299.35 1185.61,2294.46 1185.83,2286.02 1186.04,2284.33 1186.26,2295.5 1186.47,2296.88 1186.69,2287.31 1186.91,2287.4 1187.12,2294.67 1187.34,2293.49 1187.56,2293.48 1187.77,2295.42 1187.99,2293.39 1188.21,2285.73 1188.42,2287.93 1188.64,2282.51 1188.85,2290.97 1189.07,2291.15 1189.29,2294.48 1189.5,2291.05 1189.72,2295.74 1189.94,2297.56 1190.15,2287.73 1190.37,2284.77 1190.59,2287.13 1190.8,2285.15 1191.02,2289.4 1191.23,2293.22 1191.45,2290.01 1191.67,2291.82 1191.88,2294.71 1192.1,2296.99 1192.32,2296.14 1192.53,2290.26 1192.75,2289.62 1192.96,2292.08 1193.18,2284.51 1193.4,2289.44 1193.61,2287.82 1193.83,2285.28 1194.05,2293.33 1194.26,2297.86 1194.48,2287.06 1194.7,2292.74 1194.91,2284.8 1195.13,2288.63 1195.34,2285.96 1195.56,2286.9 1195.78,2298.14 1195.99,2287.03 1196.21,2292.52 1196.43,2292.82 1196.64,2291.53 1196.86,2286.74 1197.08,2286.26 1197.29,2285.73 1197.51,2296.29 1197.72,2292.03 1197.94,2299.07 1198.16,2290.05 1198.37,2287.25 1198.59,2292.62 1198.81,2288.61 1199.02,2288.64 1199.24,2285.54 1199.45,2292.76 1199.67,2292.77 1199.89,2292.48 1200.1,2282.5 1200.32,2285.1 1200.54,2289.88 1200.75,2288.48 1200.97,2288.89 1201.19,2288.52 1201.4,2290.13 1201.62,2290.6 1201.83,2294.23 1202.05,2291.77 1202.27,2282.67 1202.48,2287.06 1202.7,2288.91 1202.92,2289.99 1203.13,2288.87 1203.35,2287.7 1203.57,2291.63 1203.78,2288.27 1204,2288.07 1204.21,2291.97 1204.43,2292.1 1204.65,2292.91 1204.86,2293.14 1205.08,2285.39 1205.3,2298.23 1205.51,2289.99 1205.73,2291.43 1205.94,2291.54 1206.16,2288.77 1206.38,2284.77 1206.59,2289 1206.81,2289.94 1207.03,2291.88 1207.24,2290.04 1207.46,2286 1207.68,2291.24 1207.89,2294.3 1208.11,2294.84 1208.32,2294.29 1208.54,2295.49 1208.76,2285.71 1208.97,2288.73 1209.19,2291.15 1209.41,2284.51 1209.62,2292.97 1209.84,2287.46 1210.06,2287.34 1210.27,2296.71 1210.49,2296.83 1210.7,2294.41 1210.92,2287.23 1211.14,2285.76 1211.35,2295.83 1211.57,2286.89 1211.79,2292.63 1212,2292.75 1212.22,2293.45 1212.43,2292.63 1212.65,2298.62 1212.87,2295.46 1213.08,2296.46 1213.3,2289.7 1213.52,2283.45 1213.73,2280.98 1213.95,2293.2 1214.17,2298.76 1214.38,2293.63 1214.6,2295.82 1214.81,2284.32 1215.03,2289.99 1215.25,2295.21 1215.46,2288.69 1215.68,2290.34 1215.9,2298.97 1216.11,2294.7 1216.33,2293.61 1216.55,2292.66 1216.76,2292.27 1216.98,2294.2 1217.19,2292.18 1217.41,2295.32 1217.63,2296.61 1217.84,2287.12 1218.06,2291.77 1218.28,2291.52 1218.49,2299.64 1218.71,2294.05 1218.92,2290.21 1219.14,2298.64 1219.36,2289.24 1219.57,2295.2 1219.79,2292.13 1220.01,2294.31 1220.22,2292.99 1220.44,2289.15 1220.66,2295.58 1220.87,2287.85 1221.09,2297.21 1221.3,2297.87 1221.52,2291.43 1221.74,2298.54 1221.95,2295.85 1222.17,2290.85 1222.39,2289.72 1222.6,2301.61 1222.82,2292.64 1223.03,2287.25 1223.25,2290.04 1223.47,2295.79 1223.68,2297.29 1223.9,2296.15 1224.12,2299.61 1224.33,2296.15 1224.55,2295.91 1224.77,2295.81 1224.98,2290.62 1225.2,2296.28 1225.41,2301.21 1225.63,2291.34 1225.85,2299.82 1226.06,2297.41 1226.28,2296.23 1226.5,2297.13 1226.71,2299.8 1226.93,2296.88 1227.15,2287.31 1227.36,2298.43 1227.58,2296.64 1227.79,2291.71 1228.01,2293.28 1228.23,2293.27 1228.44,2292.95 1228.66,2304.22 1228.88,2299.91 1229.09,2296.05 1229.31,2294.65 1229.52,2291.56 1229.74,2294.9 1229.96,2297.71 1230.17,2296.52 1230.39,2297.41 1230.61,2295.5 1230.82,2293.71 1231.04,2297.63 1231.26,2299.41 1231.47,2299.48 1231.69,2291.66 1231.9,2290.83 1232.12,2291.88 1232.34,2292.32 1232.55,2292.32 1232.77,2295.53 1232.99,2292.8 1233.2,2299.49 1233.42,2296.04 1233.64,2298.04 1233.85,2292.16 1234.07,2297.24 1234.28,2295.28 1234.5,2293.17 1234.72,2289.29 1234.93,2297.7 1235.15,2298.18 1235.37,2291.13 1235.58,2298.65 1235.8,2292.38 1236.01,2296.34 1236.23,2294.4 1236.45,2301.1 1236.66,2290.97 1236.88,2295.68 1237.1,2297.16 1237.31,2285.28 1237.53,2290.59 1237.75,2279.42 1237.96,2291.71 1238.18,2294.77 1238.39,2293.04 1238.61,2287.17 1238.83,2293.71 1239.04,2291.88 1239.26,2291.69 1239.48,2297.41 1239.69,2293.37 1239.91,2295.94 1240.13,2298.95 1240.34,2290.63 1240.56,2291.52 1240.77,2293.93 1240.99,2297.88 1241.21,2302.3 1241.42,2292.51 1241.64,2294.88 1241.86,2301.23 1242.07,2294.87 1242.29,2300.73 1242.5,2294.88 1242.72,2294.27 1242.94,2293.5 1243.15,2294.12 1243.37,2294.37 1243.59,2299.63 1243.8,2296.7 1244.02,2297.28 1244.24,2296.26 1244.45,2294.32 1244.67,2293.01 1244.88,2289.06 1245.1,2305.77 1245.32,2294.08 1245.53,2296.52 1245.75,2286.79 1245.97,2292.18 1246.18,2302.49 1246.4,2294.42 1246.62,2298.14 1246.83,2292.22 1247.05,2300.4 1247.26,2296.69 1247.48,2296.88 1247.7,2296.81 1247.91,2298.81 1248.13,2303.84 1248.35,2294.81 1248.56,2292.74 1248.78,2297.04 1248.99,2300.87 1249.21,2296.1 1249.43,2294.74 1249.64,2297.74 1249.86,2297.17 1250.08,2291.6 1250.29,2301.68 1250.51,2299.53 1250.73,2304.94 1250.94,2300.23 1251.16,2300.46 1251.37,2301.4 1251.59,2300.41 1251.81,2290.62 1252.02,2298.58 1252.24,2298.32 1252.46,2289.24 1252.67,2298.25 1252.89,2304.94 1253.11,2296.55 1253.32,2301.93 1253.54,2291.79 1253.75,2303.29 1253.97,2300.72 1254.19,2304.85 1254.4,2298.17 1254.62,2302.58 1254.84,2298.82 1255.05,2300.05 1255.27,2300.99 1255.48,2294.82 1255.7,2294.86 1255.92,2298.31 1256.13,2302.13 1256.35,2302.8 1256.57,2297.49 1256.78,2289.09 1257,2300.37 1257.22,2301.67 1257.43,2301.32 1257.65,2302.9 1257.86,2302.41 1258.08,2299.37 1258.3,2292.88 1258.51,2298.56 1258.73,2300.58 1258.95,2304.96 1259.16,2297.72 1259.38,2298.67 1259.6,2303.42 1259.81,2302.86 1260.03,2298.73 1260.24,2294.55 1260.46,2296.08 1260.68,2297.75 1260.89,2299.84 1261.11,2297.29 1261.33,2298.61 1261.54,2289.96 1261.76,2303.04 1261.97,2300.02 1262.19,2293.54 1262.41,2299.61 1262.62,2292.92 1262.84,2298.73 1263.06,2297.98 1263.27,2300.03 1263.49,2304.03 1263.71,2302.4 1263.92,2289.79 1264.14,2296 1264.35,2296.16 1264.57,2294.78 1264.79,2296.31 1265,2294.51 1265.22,2299.61 1265.44,2299.44 1265.65,2294.66 1265.87,2299.95 1266.09,2303.83 1266.3,2299.45 1266.52,2300.72 1266.73,2296.13 1266.95,2301.41 1267.17,2302.76 1267.38,2299.88 1267.6,2292.41 1267.82,2298.75 1268.03,2297.92 1268.25,2298.52 1268.46,2297.39 1268.68,2294.88 1268.9,2293.03 1269.11,2305.07 1269.33,2293.17 1269.55,2298.57 1269.76,2299.83 1269.98,2289.06 1270.2,2299.23 1270.41,2290.86 1270.63,2294.73 1270.84,2302.64 1271.06,2296.63 1271.28,2295.64 1271.49,2299.06 1271.71,2307.78 1271.93,2299.92 1272.14,2299.32 1272.36,2302.95 1272.58,2291.33 1272.79,2299.53 1273.01,2300.12 1273.22,2299.75 1273.44,2301.66 1273.66,2301.63 1273.87,2298.19 1274.09,2297.32 1274.31,2300.57 1274.52,2298.92 1274.74,2304.06 1274.95,2296.49 1275.17,2301.53 1275.39,2297.71 1275.6,2302.15 1275.82,2300.6 1276.04,2297.71 1276.25,2303.36 1276.47,2288.78 1276.69,2298.71 1276.9,2298.85 1277.12,2301.47 1277.33,2292.24 1277.55,2293.07 1277.77,2297.37 1277.98,2303.98 1278.2,2300.56 1278.42,2296.12 1278.63,2300.59 1278.85,2303.25 1279.07,2303.26 1279.28,2301.61 1279.5,2298.51 1279.71,2301.13 1279.93,2298.49 1280.15,2287.5 1280.36,2291.54 1280.58,2302.67 1280.8,2297.2 1281.01,2298.22 1281.23,2299.11 1281.44,2294.43 1281.66,2299.88 1281.88,2299.85 1282.09,2300.04 1282.31,2298.96 1282.53,2293.47 1282.74,2296.21 1282.96,2305.32 1283.18,2302.49 1283.39,2304.62 1283.61,2298.96 1283.82,2302.03 1284.04,2300.12 1284.26,2304.61 1284.47,2312.65 1284.69,2304.03 1284.91,2305.65 1285.12,2305.26 1285.34,2313.16 1285.56,2307.93 1285.77,2310.98 1285.99,2310.99 1286.2,2306.88 1286.42,2306.9 1286.64,2311.84 1286.85,2315.1 1287.07,2318.13 1287.29,2310.62 1287.5,2303.91 1287.72,2308.58 1287.93,2317.29 1288.15,2311.8 1288.37,2306.73 1288.58,2301.78 1288.8,2303.79 1289.02,2306.98 1289.23,2307.66 1289.45,2312.65 1289.67,2310.26 1289.88,2309.8 1290.1,2311.55 1290.31,2308.25 1290.53,2310.07 1290.75,2307.19 1290.96,2302.86 1291.18,2305.61 1291.4,2306.9 1291.61,2309.52 1291.83,2314.6 1292.05,2309.04 1292.26,2306.45 1292.48,2312.61 1292.69,2303.66 1292.91,2309.96 1293.13,2307.18 1293.34,2309.96 1293.56,2313.64 1293.78,2300.5 1293.99,2313.29 1294.21,2305.07 1294.43,2310.92 1294.64,2307.63 1294.86,2311.93 1295.07,2310.4 1295.29,2305.12 1295.51,2301.07 1295.72,2312.14 1295.94,2308.76 1296.16,2305.06 1296.37,2311.32 1296.59,2306.02 1296.8,2311.95 1297.02,2306.46 1297.24,2307.14 1297.45,2304.08 1297.67,2307.45 1297.89,2313.63 1298.1,2306.28 1298.32,2313.29 1298.54,2305.96 1298.75,2302.97 1298.97,2306.6 1299.18,2311.16 1299.4,2304.26 1299.62,2308.33 1299.83,2313.94 1300.05,2310.42 1300.27,2303.41 1300.48,2310.24 1300.7,2308.57 1300.92,2310.42 1301.13,2315.75 1301.35,2311.11 1301.56,2307.69 1301.78,2308.28 1302,2309.81 1302.21,2316.58 1302.43,2302.3 1302.65,2303.3 1302.86,2301.11 1303.08,2299.02 1303.29,2304.94 1303.51,2304.58 1303.73,2299.96 1303.94,2293.58 1304.16,2305.89 1304.38,2299.14 1304.59,2300.07 1304.81,2294.04 1305.03,2290.09 1305.24,2297.01 1305.46,2300.7 1305.67,2295.54 1305.89,2296.81 1306.11,2301.75 1306.32,2292.08 1306.54,2297.61 1306.76,2292.78 1306.97,2300.64 1307.19,2291.04 1307.41,2301.04 1307.62,2291.11 1307.84,2302.41 1308.05,2289.72 1308.27,2296.62 1308.49,2301.24 1308.7,2295.96 1308.92,2293.65 1309.14,2298.85 1309.35,2296.83 1309.57,2293.76 1309.78,2295.45 1310,2306.87 1310.22,2296.38 1310.43,2292.94 1310.65,2293.4 1310.87,2290.53 1311.08,2297.21 1311.3,2284.32 1311.52,2291.21 1311.73,2293.09 1311.95,2289.98 1312.16,2290.45 1312.38,2293.77 1312.6,2296.58 1312.81,2290.02 1313.03,2292.35 1313.25,2301.47 1313.46,2298.3 1313.68,2292.02 1313.9,2293.39 1314.11,2292.67 1314.33,2291.18 1314.54,2293.1 1314.76,2287.36 1314.98,2295.91 1315.19,2295.1 1315.41,2292.19 1315.63,2290.47 1315.84,2290.25 1316.06,2287.43 1316.27,2295.16 1316.49,2288.6 1316.71,2291.32 1316.92,2297.25 1317.14,2293.61 1317.36,2284.76 1317.57,2289.86 1317.79,2294.78 1318.01,2302.37 1318.22,2295.73 1318.44,2295.55 1318.65,2292.41 1318.87,2283.52 1319.09,2289.66 1319.3,2291.33 1319.52,2296.22 1319.74,2297.17 1319.95,2293.24 1320.17,2294.11 1320.39,2280.13 1320.6,2293.42 1320.82,2294.05 1321.03,2286.92 1321.25,2290.87 1321.47,2295.85 1321.68,2285.64 1321.9,2291.76 1322.12,2295.57 1322.33,2288.82 1322.55,2287.95 1322.76,2291 1322.98,2286.69 1323.2,2285.98 1323.41,2292.51 1323.63,2296.95 1323.85,2298.06 1324.06,2288.88 1324.28,2283.28 1324.5,2283.97 1324.71,2282.21 1324.93,2280.15 1325.14,2287.22 1325.36,2282.89 1325.58,2292.91 1325.79,2283.91 1326.01,2284.87 1326.23,2286.58 1326.44,2287.74 1326.66,2290.19 1326.88,2285 1327.09,2280.28 1327.31,2286.58 1327.52,2282.81 1327.74,2287.33 1327.96,2283.47 1328.17,2288.48 1328.39,2283.01 1328.61,2285.39 1328.82,2283.29 1329.04,2286.96 1329.25,2289.23 1329.47,2285.89 1329.69,2280.5 1329.9,2278.37 1330.12,2285.92 1330.34,2281.49 1330.55,2281.66 1330.77,2283.13 1330.99,2290.84 1331.2,2283.43 1331.42,2288.57 1331.63,2280.09 1331.85,2281.64 1332.07,2282.33 1332.28,2294.83 1332.5,2282.35 1332.72,2282.05 1332.93,2289.9 1333.15,2281.01 1333.37,2284.57 1333.58,2285.61 1333.8,2287.72 1334.01,2288.95 1334.23,2286.65 1334.45,2272.73 1334.66,2284.16 1334.88,2284.15 1335.1,2287.56 1335.31,2287.45 1335.53,2287.21 1335.74,2288.55 1335.96,2281.59 1336.18,2286.14 1336.39,2281.66 1336.61,2289.68 1336.83,2281.44 1337.04,2285.24 1337.26,2282.5 1337.48,2285.58 1337.69,2288.69 1337.91,2280.4 1338.12,2286.93 1338.34,2285.81 1338.56,2288.75 1338.77,2284.45 1338.99,2286.82 1339.21,2284.17 1339.42,2283.94 1339.64,2288.05 1339.86,2290.92 1340.07,2283.64 1340.29,2281.73 1340.5,2282.62 1340.72,2289.93 1340.94,2283.02 1341.15,2283.9 1341.37,2284.32 1341.59,2283.76 1341.8,2286.76 1342.02,2284.64 1342.23,2281.83 1342.45,2287.52 1342.67,2291.24 1342.88,2285.97 1343.1,2284.79 1343.32,2292.89 1343.53,2288.28 1343.75,2283.28 1343.97,2286.22 1344.18,2285.28 1344.4,2290.65 1344.61,2282.09 1344.83,2278.74 1345.05,2286.5 1345.26,2288.62 1345.48,2290.32 1345.7,2282.23 1345.91,2285.36 1346.13,2288.93 1346.35,2280.99 1346.56,2282.79 1346.78,2283.44 1346.99,2292.82 1347.21,2286.27 1347.43,2283.4 1347.64,2290.74 1347.86,2282.23 1348.08,2280.26 1348.29,2281.85 1348.51,2288.81 1348.72,2288.77 1348.94,2282.26 1349.16,2282.06 1349.37,2281.15 1349.59,2281.28 1349.81,2286.44 1350.02,2287.69 1350.24,2293.43 1350.46,2282.99 1350.67,2277.1 1350.89,2287.96 1351.1,2288.03 1351.32,2283.59 1351.54,2284.69 1351.75,2291.62 1351.97,2289.03 1352.19,2290.57 1352.4,2278.23 1352.62,2289.08 1352.84,2282.85 1353.05,2278.62 1353.27,2278.71 1353.48,2280.56 1353.7,2279.74 1353.92,2291.08 1354.13,2287.55 1354.35,2289.06 1354.57,2287.31 1354.78,2275.78 1355,2292.8 1355.21,2283.93 1355.43,2291.03 1355.65,2280.82 1355.86,2280.97 1356.08,2288.14 1356.3,2277.91 1356.51,2285.8 1356.73,2280.93 1356.95,2284.85 1357.16,2288.29 1357.38,2287.57 1357.59,2286.52 1357.81,2283.6 1358.03,2285.54 1358.24,2276.69 1358.46,2286.79 1358.68,2287.87 1358.89,2288.86 1359.11,2289.08 1359.33,2291.7 1359.54,2289.89 1359.76,2282.39 1359.97,2285.73 1360.19,2286.64 1360.41,2284.57 1360.62,2281.72 1360.84,2283.5 1361.06,2282.87 1361.27,2288.14 1361.49,2286.95 1361.7,2288.98 1361.92,2286.28 1362.14,2289.13 1362.35,2287.36 1362.57,2286.57 1362.79,2286.73 1363,2286.92 1363.22,2287.8 1363.44,2280.66 1363.65,2287.19 1363.87,2289.84 1364.08,2285.06 1364.3,2290.13 1364.52,2290.06 1364.73,2285.47 1364.95,2292.39 1365.17,2298.53 1365.38,2284.64 1365.6,2281.67 1365.82,2292.38 1366.03,2289.31 1366.25,2283.46 1366.46,2293.61 1366.68,2289.19 1366.9,2290.49 1367.11,2286.5 1367.33,2293.52 1367.55,2282.16 1367.76,2286.26 1367.98,2284.48 1368.19,2286.97 1368.41,2294.07 1368.63,2286.26 1368.84,2290.96 1369.06,2285.6 1369.28,2289.01 1369.49,2286.88 1369.71,2286.46 1369.93,2282.56 1370.14,2282.57 1370.36,2289.58 1370.57,2285.66 1370.79,2279.8 1371.01,2283.62 1371.22,2288.46 1371.44,2286.04 1371.66,2286.93 1371.87,2281.82 1372.09,2285.4 1372.31,2284.04 1372.52,2276.76 1372.74,2290.97 1372.95,2289.52 1373.17,2292.36 1373.39,2291.8 1373.6,2282.09 1373.82,2284.32 1374.04,2279.01 1374.25,2293.28 1374.47,2288.94 1374.68,2279.73 1374.9,2281.36 1375.12,2281.92 1375.33,2281.97 1375.55,2285.28 1375.77,2285.44 1375.98,2285.27 1376.2,2282.05 1376.42,2286.03 1376.63,2284.1 1376.85,2279.61 1377.06,2289.83 1377.28,2288.39 1377.5,2283.23 1377.71,2286.56 1377.93,2286.18 1378.15,2277.3 1378.36,2284 1378.58,2287.35 1378.8,2281.39 1379.01,2275.82 1379.23,2290.23 1379.44,2288.53 1379.66,2285.47 1379.88,2288.49 1380.09,2277.42 1380.31,2283.98 1380.53,2287.69 1380.74,2284.21 1380.96,2289.35 1381.17,2288.64 1381.39,2285.88 1381.61,2276.88 1381.82,2295.3 1382.04,2284.77 1382.26,2281.13 1382.47,2283.59 1382.69,2278.96 1382.91,2284.83 1383.12,2286.08 1383.34,2287.23 1383.55,2290.14 1383.77,2280.32 1383.99,2291.53 1384.2,2287.38 1384.42,2289.01 1384.64,2290.09 1384.85,2295.83 1385.07,2288.59 1385.29,2286.58 1385.5,2286.6 1385.72,2283.87 1385.93,2287.9 1386.15,2289.84 1386.37,2286.13 1386.58,2284.76 1386.8,2291.02 1387.02,2293.5 1387.23,2291.59 1387.45,2283.39 1387.66,2283.67 1387.88,2291.18 1388.1,2287.28 1388.31,2284.44 1388.53,2282.55 1388.75,2290.46 1388.96,2288.85 1389.18,2282.37 1389.4,2278.45 1389.61,2281.98 1389.83,2292.6 1390.04,2286.35 1390.26,2289.36 1390.48,2288.45 1390.69,2290.89 1390.91,2290.21 1391.13,2288.4 1391.34,2281.27 1391.56,2285.68 1391.78,2286.81 1391.99,2288.44 1392.21,2291.56 1392.42,2289.54 1392.64,2283.77 1392.86,2285.44 1393.07,2281 1393.29,2287.79 1393.51,2288.94 1393.72,2295.29 1393.94,2287.32 1394.15,2295.73 1394.37,2282.87 1394.59,2291.41 1394.8,2288.93 1395.02,2294.28 1395.24,2290.91 1395.45,2292.64 1395.67,2284.48 1395.89,2287.99 1396.1,2293.65 1396.32,2296.63 1396.53,2289.26 1396.75,2290.93 1396.97,2293.41 1397.18,2286.68 1397.4,2289.76 1397.62,2288.59 1397.83,2291.38 1398.05,2291.31 1398.27,2290.88 1398.48,2295.41 1398.7,2286.58 1398.91,2287.49 1399.13,2295.92 1399.35,2288.7 1399.56,2284.54 1399.78,2288.18 1400,2283.99 1400.21,2290.2 1400.43,2289.13 1400.64,2294.3 1400.86,2292.74 1401.08,2296.39 1401.29,2292.72 1401.51,2288.22 1401.73,2287.13 1401.94,2284.59 1402.16,2288.69 1402.38,2293.14 1402.59,2287.52 1402.81,2289.81 1403.02,2282.18 1403.24,2281.49 1403.46,2285.46 1403.67,2293.77 1403.89,2291.35 1404.11,2288.53 1404.32,2292.11 1404.54,2287.22 1404.76,2286.59 1404.97,2286 1405.19,2288.42 1405.4,2292.83 1405.62,2292.68 1405.84,2289.84 1406.05,2284.1 1406.27,2283.13 1406.49,2285.5 1406.7,2287.94 1406.92,2286.71 1407.13,2286.14 1407.35,2284.29 1407.57,2286.02 1407.78,2295.5 1408,2285.65 1408.22,2287.91 1408.43,2291.27 1408.65,2287.37 1408.87,2288.32 1409.08,2289.69 1409.3,2296.17 1409.51,2289.05 1409.73,2287.29 1409.95,2289.7 1410.16,2295.8 1410.38,2287.71 1410.6,2286.68 1410.81,2288.82 1411.03,2287.86 1411.25,2290.95 1411.46,2292.17 1411.68,2287.49 1411.89,2290.98 1412.11,2288.86 1412.33,2276.7 1412.54,2286.78 1412.76,2289.07 1412.98,2296.04 1413.19,2289.25 1413.41,2286.63 1413.62,2292.43 1413.84,2290.6 1414.06,2298.59 1414.27,2287.47 1414.49,2292.03 1414.71,2286.98 1414.92,2284.29 1415.14,2290.34 1415.36,2285.81 1415.57,2288.73 1415.79,2290.54 1416,2290.85 1416.22,2293.11 1416.44,2284.67 1416.65,2286.27 1416.87,2293.86 1417.09,2286.65 1417.3,2292.99 1417.52,2296.17 1417.74,2285.58 1417.95,2295.51 1418.17,2285.86 1418.38,2289.88 1418.6,2287.21 1418.82,2288.87 1419.03,2286.43 1419.25,2289.74 1419.47,2288.94 1419.68,2290.36 1419.9,2287.12 1420.11,2293.12 1420.33,2287.66 1420.55,2285.83 1420.76,2292.16 1420.98,2290.28 1421.2,2294.17 1421.41,2293.39 1421.63,2291.33 1421.85,2293.83 1422.06,2296.1 1422.28,2292.82 1422.49,2292.06 1422.71,2291.65 1422.93,2290.23 1423.14,2300.18 1423.36,2287.67 1423.58,2294.06 1423.79,2296.55 1424.01,2295.08 1424.23,2291.97 1424.44,2290.39 1424.66,2295.4 1424.87,2293.43 1425.09,2300.49 1425.31,2293.61 1425.52,2294.84 1425.74,2296.22 1425.96,2291.12 1426.17,2287.64 1426.39,2290.76 1426.6,2298.06 1426.82,2288.99 1427.04,2296.36 1427.25,2295.2 1427.47,2297.34 1427.69,2293.23 1427.9,2292.85 1428.12,2294.47 1428.34,2295.87 1428.55,2295.61 1428.77,2296.63 1428.98,2291.19 1429.2,2297.1 1429.42,2295.62 1429.63,2295.87 1429.85,2298 1430.07,2295.94 1430.28,2300.84 1430.5,2293.43 1430.72,2292.9 1430.93,2296.23 1431.15,2288.9 1431.36,2298.28 1431.58,2292.85 1431.8,2293.15 1432.01,2297.15 1432.23,2295.99 1432.45,2291.52 1432.66,2294.8 1432.88,2293.92 1433.09,2289.52 1433.31,2294.18 1433.53,2301.63 1433.74,2297.94 1433.96,2291.75 1434.18,2295.55 1434.39,2299.29 1434.61,2302.83 1434.83,2293.76 1435.04,2289.12 1435.26,2299.98 1435.47,2303.58 1435.69,2293.08 1435.91,2297.17 1436.12,2296.2 1436.34,2296.31 1436.56,2298.59 1436.77,2293.31 1436.99,2291.42 1437.21,2293.6 1437.42,2297.23 1437.64,2290.95 1437.85,2295.47 1438.07,2292.75 1438.29,2298.72 1438.5,2292.45 1438.72,2292.11 1438.94,2289.97 1439.15,2294.93 1439.37,2293.29 1439.58,2297.3 1439.8,2291.56 1440.02,2291.98 1440.23,2290.79 1440.45,2296.55 1440.67,2299.83 1440.88,2295.3 1441.1,2295.85 1441.32,2297.96 1441.53,2292.66 1441.75,2291.32 1441.96,2293.49 1442.18,2290.68 1442.4,2293.48 1442.61,2298.86 1442.83,2297.33 1443.05,2296.42 1443.26,2292.35 1443.48,2291.42 1443.7,2294.5 1443.91,2291.06 1444.13,2298.26 1444.34,2295.48 1444.56,2289.18 1444.78,2293.3 1444.99,2290.94 1445.21,2302.42 1445.43,2301.57 1445.64,2298.41 1445.86,2291.1 1446.07,2288.68 1446.29,2297.45 1446.51,2298.88 1446.72,2299 1446.94,2298.52 1447.16,2292.86 1447.37,2296.26 1447.59,2287.69 1447.81,2292.21 1448.02,2297.7 1448.24,2294.11 1448.45,2295.63 1448.67,2291.94 1448.89,2291.49 1449.1,2296.39 1449.32,2291.55 1449.54,2292.81 1449.75,2295.37 1449.97,2294.07 1450.19,2292.47 1450.4,2296.42 1450.62,2297.87 1450.83,2290.35 1451.05,2295.34 1451.27,2297.72 1451.48,2293.67 1451.7,2301.27 1451.92,2295.36 1452.13,2300.94 1452.35,2297.36 1452.56,2302.7 1452.78,2298.61 1453,2292.38 1453.21,2296.63 1453.43,2300.71 1453.65,2289.27 1453.86,2298.55 1454.08,2290.38 1454.3,2298.26 1454.51,2301.96 1454.73,2289.14 1454.94,2298.06 1455.16,2293.48 1455.38,2291.86 1455.59,2301.66 1455.81,2296.33 1456.03,2298.9 1456.24,2294.37 1456.46,2296.83 1456.68,2301.75 1456.89,2296.67 1457.11,2293.98 1457.32,2298.15 1457.54,2294.88 1457.76,2299.19 1457.97,2297.38 1458.19,2295.88 1458.41,2296.74 1458.62,2292.42 1458.84,2293.73 1459.05,2294.19 1459.27,2294.72 1459.49,2296.98 1459.7,2302.15 1459.92,2293.57 1460.14,2291 1460.35,2296.94 1460.57,2298.85 1460.79,2298.06 1461,2293.29 1461.22,2296.93 1461.43,2301.91 1461.65,2298.82 1461.87,2301.18 1462.08,2299.05 1462.3,2301.79 1462.52,2301.77 1462.73,2292.69 1462.95,2294.43 1463.17,2304.79 1463.38,2302.41 1463.6,2300.4 1463.81,2300.23 1464.03,2304.14 1464.25,2295.4 1464.46,2305.14 1464.68,2296.26 1464.9,2296.31 1465.11,2300.49 1465.33,2301.66 1465.54,2298.95 1465.76,2298.66 1465.98,2307.42 1466.19,2304.21 1466.41,2297.35 1466.63,2299.75 1466.84,2300.85 1467.06,2303.01 1467.28,2301.81 1467.49,2301.95 1467.71,2288.09 1467.92,2303.68 1468.14,2292.8 1468.36,2296.8 1468.57,2297.75 1468.79,2297.73 1469.01,2299.88 1469.22,2292.1 1469.44,2296.27 1469.66,2298.27 1469.87,2298.55 1470.09,2297.22 1470.3,2302.33 1470.52,2299.06 1470.74,2300.16 1470.95,2295.26 1471.17,2295.25 1471.39,2304.71 1471.6,2298.27 1471.82,2293.5 1472.03,2302.25 1472.25,2301.74 1472.47,2293.2 1472.68,2297.49 1472.9,2298.65 1473.12,2301.53 1473.33,2296.08 1473.55,2298.81 1473.77,2295.75 1473.98,2294.84 1474.2,2293.68 1474.41,2297.58 1474.63,2298.27 1474.85,2296.04 1475.06,2296.45 1475.28,2295.32 1475.5,2297.96 1475.71,2296.74 1475.93,2298.01 1476.15,2297.93 1476.36,2294.97 1476.58,2291.02 1476.79,2297.48 1477.01,2293.06 1477.23,2293.9 1477.44,2294.73 1477.66,2292.44 1477.88,2297.15 1478.09,2292.72 1478.31,2293.67 1478.52,2308.26 1478.74,2293.28 1478.96,2292.25 1479.17,2286.92 1479.39,2298.52 1479.61,2293.95 1479.82,2292.88 1480.04,2297.91 1480.26,2289.37 1480.47,2292.12 1480.69,2296.78 1480.9,2298.18 1481.12,2294.99 1481.34,2284.02 1481.55,2284.69 1481.77,2302.49 1481.99,2299.79 1482.2,2289.98 1482.42,2292.82 1482.64,2294.71 1482.85,2289.74 1483.07,2291.55 1483.28,2290.65 1483.5,2290.57 1483.72,2295.66 1483.93,2286.17 1484.15,2292.9 1484.37,2286.56 1484.58,2288.11 1484.8,2290.49 1485.01,2289.93 1485.23,2290.49 1485.45,2297.29 1485.66,2291.25 1485.88,2288.16 1486.1,2295.93 1486.31,2295.29 1486.53,2285.15 1486.75,2286.04 1486.96,2295.03 1487.18,2287.07 1487.39,2288.89 1487.61,2284.74 1487.83,2289.64 1488.04,2289.08 1488.26,2290.97 1488.48,2287.19 1488.69,2288.22 1488.91,2290.12 1489.13,2288.76 1489.34,2290.18 1489.56,2284.66 1489.77,2290.94 1489.99,2292.82 1490.21,2290.36 1490.42,2282.23 1490.64,2288.26 1490.86,2283.6 1491.07,2283.1 1491.29,2287.78 1491.5,2282.7 1491.72,2283.51 1491.94,2285.48 1492.15,2287.9 1492.37,2285.23 1492.59,2289.83 1492.8,2285.75 1493.02,2286.77 1493.24,2282.78 1493.45,2283.21 1493.67,2287.1 1493.88,2281.28 1494.1,2280.05 1494.32,2284.5 1494.53,2287.7 1494.75,2282.89 1494.97,2294.44 1495.18,2287.25 1495.4,2282.75 1495.62,2277.26 1495.83,2288.01 1496.05,2279.22 1496.26,2276.14 1496.48,2277.93 1496.7,2294.55 1496.91,2281.1 1497.13,2284.7 1497.35,2281.54 1497.56,2286.25 1497.78,2288.01 1497.99,2286.55 1498.21,2279.84 1498.43,2282.48 1498.64,2286.96 1498.86,2284.38 1499.08,2282.54 1499.29,2283.76 1499.51,2286.19 1499.73,2288.66 1499.94,2289.04 1500.16,2287.9 1500.37,2288.4 1500.59,2292.43 1500.81,2291.81 1501.02,2282.84 1501.24,2290.69 1501.46,2291.46 1501.67,2286.51 1501.89,2280.68 1502.11,2281.42 1502.32,2288.01 1502.54,2290.46 1502.75,2288.53 1502.97,2290.01 1503.19,2288.61 1503.4,2284.59 1503.62,2290.67 1503.84,2289.57 1504.05,2287.55 1504.27,2286.65 1504.48,2289.57 1504.7,2289.68 1504.92,2291.04 1505.13,2289.57 1505.35,2284.58 1505.57,2287.61 1505.78,2298.89 1506,2284.26 1506.22,2286.97 1506.43,2290.15 1506.65,2287.74 1506.86,2298.66 1507.08,2293.28 1507.3,2282.2 1507.51,2278.4 1507.73,2278.24 1507.95,2289.74 1508.16,2286.7 1508.38,2283.8 1508.6,2291.74 1508.81,2280.03 1509.03,2289.78 1509.24,2285.55 1509.46,2291.5 1509.68,2285.54 1509.89,2287.06 1510.11,2282.74 1510.33,2291.59 1510.54,2287.09 1510.76,2279.89 1510.97,2291.8 1511.19,2285.71 1511.41,2285.39 1511.62,2289.1 1511.84,2288.21 1512.06,2281.58 1512.27,2282.68 1512.49,2284.96 1512.71,2286.16 1512.92,2291.72 1513.14,2286.9 1513.35,2280.18 1513.57,2283.13 1513.79,2292.68 1514,2295.53 1514.22,2289.97 1514.44,2286.71 1514.65,2289.56 1514.87,2288.61 1515.09,2286.06 1515.3,2283.88 1515.52,2286.61 1515.73,2282.51 1515.95,2293.12 1516.17,2285.65 1516.38,2285.83 1516.6,2293.43 1516.82,2282.59 1517.03,2293.9 1517.25,2293.31 1517.46,2277.02 1517.68,2282.49 1517.9,2286.14 1518.11,2282.28 1518.33,2283.11 1518.55,2292.16 1518.76,2285.79 1518.98,2282.17 1519.2,2288.38 1519.41,2287.47 1519.63,2289.62 1519.84,2284.88 1520.06,2290.01 1520.28,2290.16 1520.49,2292.71 1520.71,2291.55 1520.93,2287.01 1521.14,2286.02 1521.36,2289.45 1521.58,2292.1 1521.79,2286.6 1522.01,2286.54 1522.22,2282.92 1522.44,2289.97 1522.66,2289.66 1522.87,2285.99 1523.09,2281.98 1523.31,2288.27 1523.52,2288.41 1523.74,2291.83 1523.95,2289.62 1524.17,2284.37 1524.39,2284.76 1524.6,2283.73 1524.82,2294.72 1525.04,2284.87 1525.25,2291.9 1525.47,2285.88 1525.69,2297.69 1525.9,2288.66 1526.12,2291.81 1526.33,2283.23 1526.55,2287.84 1526.77,2283.16 1526.98,2290.11 1527.2,2280.53 1527.42,2290.16 1527.63,2280.84 1527.85,2290.37 1528.07,2292.36 1528.28,2284.88 1528.5,2290.07 1528.71,2288.73 1528.93,2293.88 1529.15,2289.9 1529.36,2288.09 1529.58,2291.38 1529.8,2287.02 1530.01,2297.78 1530.23,2285.05 1530.44,2290.27 1530.66,2282.78 1530.88,2290.07 1531.09,2291.31 1531.31,2290.5 1531.53,2287.61 1531.74,2286.36 1531.96,2290.6 1532.18,2291.96 1532.39,2287.06 1532.61,2285.5 1532.82,2295.8 1533.04,2293.04 1533.26,2291.55 1533.47,2282.04 1533.69,2283.97 1533.91,2285.73 1534.12,2286.96 1534.34,2293.44 1534.56,2284.49 1534.77,2290.78 1534.99,2292.22 1535.2,2281.3 1535.42,2294.88 1535.64,2283.56 1535.85,2288.31 1536.07,2292.83 1536.29,2288.45 1536.5,2292.56 1536.72,2288.46 1536.93,2291.82 1537.15,2294.01 1537.37,2278.63 1537.58,2291.31 1537.8,2285.37 1538.02,2289.54 1538.23,2286.66 1538.45,2294.45 1538.67,2293.59 1538.88,2302.57 1539.1,2285.44 1539.31,2287.7 1539.53,2294.22 1539.75,2286.17 1539.96,2287.17 1540.18,2277.84 1540.4,2288.64 1540.61,2285.94 1540.83,2287.18 1541.05,2286.57 1541.26,2289.78 1541.48,2291.37 1541.69,2286.88 1541.91,2284.8 1542.13,2294.45 1542.34,2294.36 1542.56,2289.99 1542.78,2282.62 1542.99,2290.7 1543.21,2296.7 1543.42,2286.67 1543.64,2286.9 1543.86,2282.16 1544.07,2289.21 1544.29,2282.1 1544.51,2292.91 1544.72,2286.42 1544.94,2289.52 1545.16,2294.87 1545.37,2291.22 1545.59,2284.8 1545.8,2285.67 1546.02,2291.69 1546.24,2285.75 1546.45,2286.6 1546.67,2286.64 1546.89,2289.11 1547.1,2289.07 1547.32,2293.62 1547.54,2290.6 1547.75,2289.86 1547.97,2293.33 1548.18,2291.55 1548.4,2289.76 1548.62,2289.59 1548.83,2286.23 1549.05,2294.61 1549.27,2292.1 1549.48,2289.45 1549.7,2292.08 1549.91,2289.25 1550.13,2292.48 1550.35,2285.9 1550.56,2291.56 1550.78,2295.23 1551,2287.69 1551.21,2284.05 1551.43,2298.46 1551.65,2291.28 1551.86,2290.5 1552.08,2286.67 1552.29,2284.83 1552.51,2291.48 1552.73,2297.12 1552.94,2288.22 1553.16,2286.88 1553.38,2289.08 1553.59,2290.64 1553.81,2294.24 1554.03,2281.24 1554.24,2295.83 1554.46,2297.09 1554.67,2287.16 1554.89,2289.95 1555.11,2288.43 1555.32,2289.71 1555.54,2284.41 1555.76,2285.48 1555.97,2293.41 1556.19,2287.22 1556.4,2295.97 1556.62,2298.11 1556.84,2286.48 1557.05,2293.04 1557.27,2299.94 1557.49,2291.44 1557.7,2294.05 1557.92,2289.38 1558.14,2291.66 1558.35,2294.54 1558.57,2294.33 1558.78,2288.44 1559,2295.26 1559.22,2291.06 1559.43,2295.57 1559.65,2289.84 1559.87,2284.54 1560.08,2289.44 1560.3,2287.29 1560.52,2289.98 1560.73,2295.67 1560.95,2293.06 1561.16,2291.61 1561.38,2290.17 1561.6,2294.37 1561.81,2289.55 1562.03,2294.91 1562.25,2291.81 1562.46,2292.15 1562.68,2296.74 1562.89,2288.16 1563.11,2292.01 1563.33,2291.81 1563.54,2292.41 1563.76,2300.74 1563.98,2297.96 1564.19,2295.96 1564.41,2288.45 1564.63,2294.76 1564.84,2290.06 1565.06,2296.64 1565.27,2295.94 1565.49,2294.47 1565.71,2288.4 1565.92,2299.29 1566.14,2293.4 1566.36,2291.11 1566.57,2292.23 1566.79,2292.87 1567.01,2289.73 1567.22,2291.72 1567.44,2296.94 1567.65,2290.41 1567.87,2296.1 1568.09,2294.38 1568.3,2287.25 1568.52,2283.32 1568.74,2287.32 1568.95,2291.45 1569.17,2296.3 1569.38,2296.27 1569.6,2286.61 1569.82,2291.97 1570.03,2298.88 1570.25,2287.09 1570.47,2291.09 1570.68,2288.17 1570.9,2291.86 1571.12,2302.12 1571.33,2296.49 1571.55,2294.15 1571.76,2294.29 1571.98,2287.61 1572.2,2296.37 1572.41,2294.12 1572.63,2293.99 1572.85,2294.16 1573.06,2297.96 1573.28,2298.75 1573.5,2304.2 1573.71,2292.61 1573.93,2294.78 1574.14,2293.19 1574.36,2298.25 1574.58,2294.06 1574.79,2297.99 1575.01,2298.19 1575.23,2292.84 1575.44,2291.68 1575.66,2291.93 1575.87,2294.46 1576.09,2295.87 1576.31,2288.78 1576.52,2289.42 1576.74,2296.96 1576.96,2298.8 1577.17,2293.02 1577.39,2293.26 1577.61,2298.21 1577.82,2285.5 1578.04,2302.98 1578.25,2298.01 1578.47,2293.74 1578.69,2290.79 1578.9,2302.18 1579.12,2296.55 1579.34,2289.12 1579.55,2289.27 1579.77,2295.93 1579.99,2294.81 1580.2,2298.53 1580.42,2293.55 1580.63,2299.64 1580.85,2303.89 1581.07,2302.19 1581.28,2296.23 1581.5,2302.04 1581.72,2292.68 1581.93,2292.31 1582.15,2293.79 1582.36,2295.49 1582.58,2293.9 1582.8,2297.7 1583.01,2295.62 1583.23,2297.55 1583.45,2296.3 1583.66,2303.49 1583.88,2302.09 1584.1,2303.45 1584.31,2296.17 1584.53,2297.48 1584.74,2302.65 1584.96,2303.46 1585.18,2301.84 1585.39,2296.07 1585.61,2300.01 1585.83,2300.54 1586.04,2302.34 1586.26,2300.08 1586.48,2293.24 1586.69,2302.37 1586.91,2301.05 1587.12,2292.88 1587.34,2296.79 1587.56,2304.22 1587.77,2295.34 1587.99,2304.74 1588.21,2297.49 1588.42,2309.81 1588.64,2303.72 1588.85,2296.1 1589.07,2302.15 1589.29,2302.67 1589.5,2299.58 1589.72,2299.8 1589.94,2301.69 1590.15,2302.53 1590.37,2292.68 1590.59,2293.91 1590.8,2298.56 1591.02,2304.48 1591.23,2302.01 1591.45,2301.07 1591.67,2297.99 1591.88,2293.55 1592.1,2302.03 1592.32,2299.38 1592.53,2301.69 1592.75,2299.43 1592.97,2302.75 1593.18,2298.51 1593.4,2295.41 1593.61,2301.62 1593.83,2301.37 1594.05,2299.61 1594.26,2305.32 1594.48,2292.87 1594.7,2305.45 1594.91,2301.56 1595.13,2303.66 1595.34,2294.17 1595.56,2302.1 1595.78,2302.19 1595.99,2292.66 1596.21,2300.68 1596.43,2303.32 1596.64,2300.25 1596.86,2299.47 1597.08,2303.23 1597.29,2301 1597.51,2301.12 1597.72,2297.41 1597.94,2297.25 1598.16,2297 1598.37,2300.82 1598.59,2297.17 1598.81,2301.21 1599.02,2295.75 1599.24,2298.78 1599.46,2302.1 1599.67,2295.5 1599.89,2306.46 1600.1,2304.3 1600.32,2303.63 1600.54,2300.99 1600.75,2305.38 1600.97,2305.29 1601.19,2308.04 1601.4,2300.06 1601.62,2303.6 1601.83,2291.81 1602.05,2297.47 1602.27,2305.13 1602.48,2295.32 1602.7,2300.18 1602.92,2296.32 1603.13,2305.05 1603.35,2296.01 1603.57,2296.27 1603.78,2302.32 1604,2304.06 1604.21,2302.2 1604.43,2299.65 1604.65,2291.12 1604.86,2293.52 1605.08,2294.77 1605.3,2301.63 1605.51,2302.08 1605.73,2299.32 1605.95,2301.89 1606.16,2302.67 1606.38,2301.65 1606.59,2297.47 1606.81,2301.12 1607.03,2299.91 1607.24,2301.92 1607.46,2301.66 1607.68,2302.22 1607.89,2295.88 1608.11,2300 1608.32,2294.99 1608.54,2301.63 1608.76,2296.73 1608.97,2306.49 1609.19,2302.6 1609.41,2301.25 1609.62,2303.54 1609.84,2301.49 1610.06,2304.73 1610.27,2301.71 1610.49,2303.73 1610.7,2301.1 1610.92,2302.28 1611.14,2305.1 1611.35,2302.75 1611.57,2301.03 1611.79,2306.22 1612,2300.78 1612.22,2296.63 1612.44,2303.17 1612.65,2300.75 1612.87,2301.11 1613.08,2307.44 1613.3,2299.65 1613.52,2295.57 1613.73,2310.31 1613.95,2298.34 1614.17,2310.37 1614.38,2302.4 1614.6,2316.08 1614.81,2305 1615.03,2309.43 1615.25,2315.13 1615.46,2313.35 1615.68,2314.29 1615.9,2313.73 1616.11,2308.69 1616.33,2310.95 1616.55,2320.26 1616.76,2311.56 1616.98,2308.5 1617.19,2310.05 1617.41,2303.72 1617.63,2317.81 1617.84,2309.57 1618.06,2310.45 1618.28,2307.74 1618.49,2315.99 1618.71,2315.91 1618.93,2311.42 1619.14,2310.48 1619.36,2318.04 1619.57,2309.42 1619.79,2310.94 1620.01,2308.03 1620.22,2321.4 1620.44,2309.04 1620.66,2314.62 1620.87,2313.03 1621.09,2308.06 1621.3,2304.48 1621.52,2310.64 1621.74,2311.73 1621.95,2306.12 1622.17,2314.94 1622.39,2312.03 1622.6,2313.48 1622.82,2315.42 1623.04,2310.78 1623.25,2303.47 1623.47,2310.65 1623.68,2309.69 1623.9,2311.84 1624.12,2307.27 1624.33,2311.08 1624.55,2315.36 1624.77,2311.49 1624.98,2306.2 1625.2,2312.31 1625.42,2307.23 1625.63,2312.33 1625.85,2304.02 1626.06,2311.02 1626.28,2309.57 1626.5,2313.38 1626.71,2308.94 1626.93,2313.21 1627.15,2318.24 1627.36,2311.18 1627.58,2317.24 1627.79,2306.58 1628.01,2309.36 1628.23,2312.49 1628.44,2309.86 1628.66,2322.97 1628.88,2306.57 1629.09,2315.32 1629.31,2310.1 1629.53,2302.61 1629.74,2319.29 1629.96,2314.55 1630.17,2311.58 1630.39,2311.31 1630.61,2319.76 1630.82,2316.78 1631.04,2307.19 1631.26,2315.55 1631.47,2310.99 1631.69,2318.69 1631.91,2316.91 1632.12,2320.58 1632.34,2312.29 1632.55,2308.8 1632.77,2313.07 1632.99,2314.58 1633.2,2312.51 1633.42,2311.58 1633.64,2314.58 1633.85,2311.19 1634.07,2305.6 1634.28,2304.5 1634.5,2315.62 1634.72,2318.34 1634.93,2305.66 1635.15,2309.36 1635.37,2308.4 1635.58,2310.82 1635.8,2314.1 1636.02,2309.29 1636.23,2308.7 1636.45,2308.45 1636.66,2317.44 1636.88,2308.99 1637.1,2314.47 1637.31,2314.47 1637.53,2311.62 1637.75,2314.38 1637.96,2303.75 1638.18,2310.71 1638.4,2311.87 1638.61,2313.67 1638.83,2311.9 1639.04,2313.79 1639.26,2310.52 1639.48,2309.39 1639.69,2309.46 1639.91,2317.78 1640.13,2314.08 1640.34,2312.4 1640.56,2317.58 1640.77,2311.18 1640.99,2313.24 1641.21,2312.42 1641.42,2311.1 1641.64,2315.08 1641.86,2306.38 1642.07,2308.43 1642.29,2314.72 1642.51,2310.66 1642.72,2309.53 1642.94,2315.51 1643.15,2313.86 1643.37,2309.64 1643.59,2322.68 1643.8,2317.63 1644.02,2311.05 1644.24,2309.86 1644.45,2316 1644.67,2308.88 1644.89,2303.45 1645.1,2311.42 1645.32,2312.39 1645.53,2311.92 1645.75,2316.22 1645.97,2309.96 1646.18,2311.42 1646.4,2309.15 1646.62,2306.41 1646.83,2311.92 1647.05,2311.32 1647.26,2310.73 1647.48,2305.08 1647.7,2317.78 1647.91,2311.97 1648.13,2314.43 1648.35,2311.41 1648.56,2308.58 1648.78,2311.59 1649,2308.92 1649.21,2311.08 1649.43,2314.64 1649.64,2314.41 1649.86,2317.26 1650.08,2310.84 1650.29,2313.28 1650.51,2307.73 1650.73,2306.58 1650.94,2313.32 1651.16,2313.47 1651.38,2306.09 1651.59,2311.36 1651.81,2306.39 1652.02,2304.16 1652.24,2307.48 1652.46,2298.22 1652.67,2307.75 1652.89,2302.33 1653.11,2305.02 1653.32,2314.2 1653.54,2302.78 1653.75,2302.08 1653.97,2298.51 1654.19,2300.7 1654.4,2302.44 1654.62,2300.94 1654.84,2299.46 1655.05,2294.59 1655.27,2298.06 1655.49,2291.81 1655.7,2293.24 1655.92,2299.54 1656.13,2292.42 1656.35,2305.47 1656.57,2296.29 1656.78,2300.24 1657,2296.67 1657.22,2291.62 1657.43,2296.15 1657.65,2296.76 1657.87,2290.94 1658.08,2298.99 1658.3,2299.2 1658.51,2291.97 1658.73,2293.34 1658.95,2301.4 1659.16,2295.06 1659.38,2292.49 1659.6,2296.18 1659.81,2297.07 1660.03,2294.87 1660.24,2294.5 1660.46,2298.08 1660.68,2291.89 1660.89,2301.43 1661.11,2295.39 1661.33,2286.53 1661.54,2299.19 1661.76,2295.06 1661.98,2303.89 1662.19,2298.08 1662.41,2299.31 1662.62,2294.42 1662.84,2296.56 1663.06,2287.23 1663.27,2298.15 1663.49,2294.53 1663.71,2293.49 1663.92,2291.73 1664.14,2290.67 1664.36,2300.38 1664.57,2285.39 1664.79,2295.27 1665,2296.83 1665.22,2300.46 1665.44,2295.62 1665.65,2300.84 1665.87,2293 1666.09,2296.05 1666.3,2292.32 1666.52,2296.68 1666.73,2293.2 1666.95,2284.58 1667.17,2288.71 1667.38,2292.66" fill="none" stroke="#4a863f" stroke-width="1.2" stroke-linejoin="round" stroke-linecap="round"/>
</g>
</svg>
</body></html>
